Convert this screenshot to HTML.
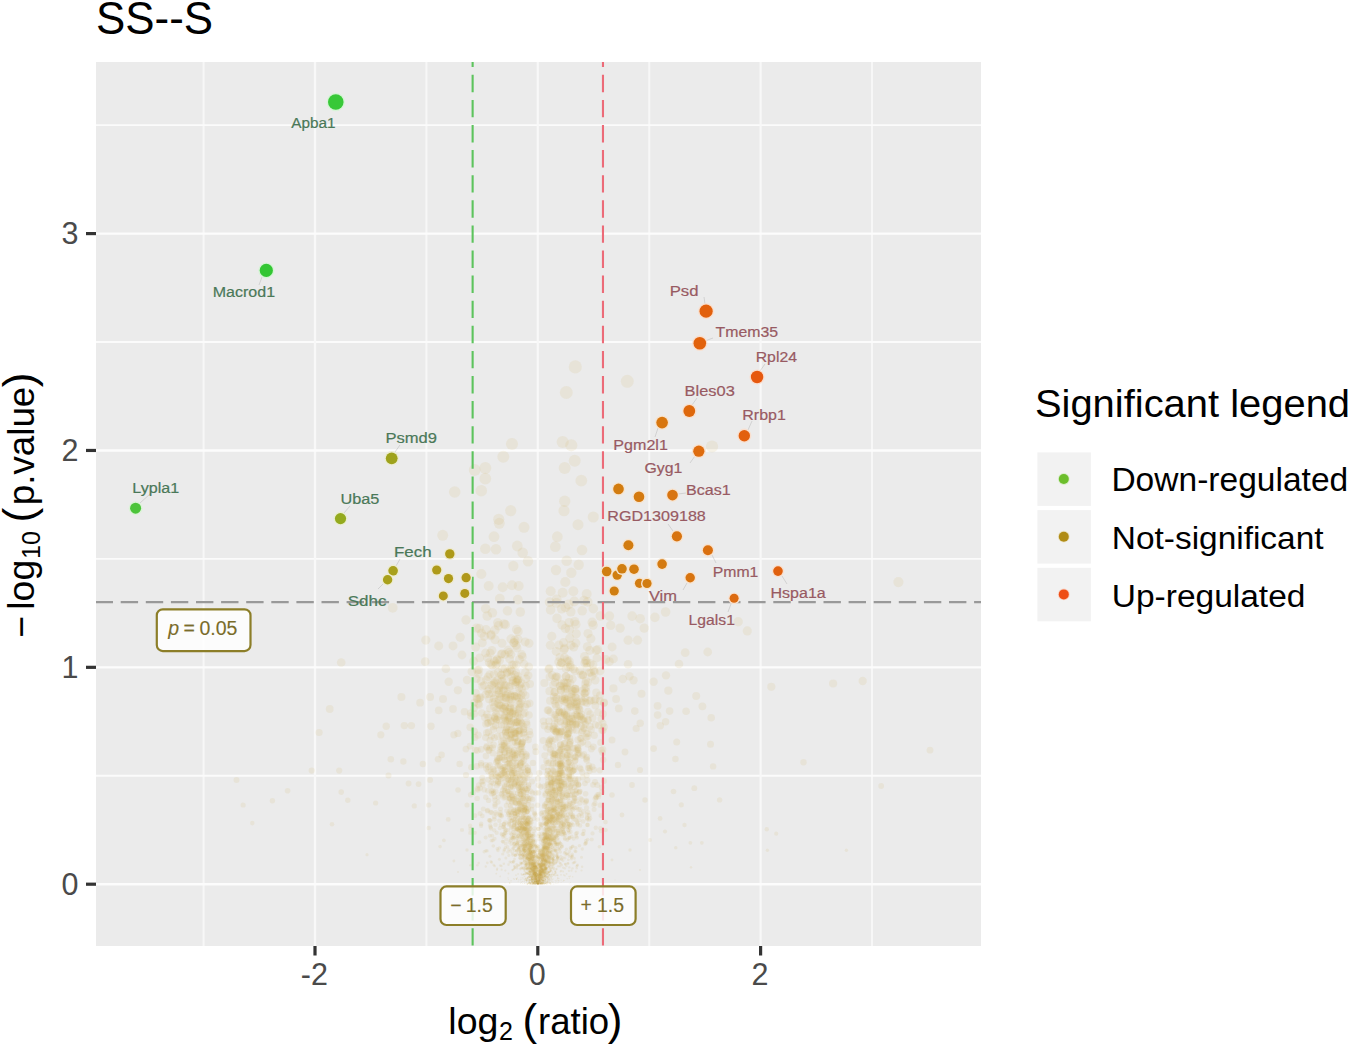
<!DOCTYPE html>
<html><head><meta charset="utf-8"><title>SS--S volcano</title><style>html,body{margin:0;padding:0;background:#fff;width:1350px;height:1046px;overflow:hidden}</style></head><body>
<svg width="1350" height="1046" viewBox="0 0 1350 1046" style="display:block">
<rect x="0" y="0" width="1350" height="1046" fill="#ffffff"/>
<rect x="96" y="62" width="885" height="884" fill="#EBEBEB"/>
<line x1="203.60" y1="62" x2="203.60" y2="946" stroke="#F7F7F7" stroke-width="2"/>
<line x1="426.40" y1="62" x2="426.40" y2="946" stroke="#F7F7F7" stroke-width="2"/>
<line x1="649.20" y1="62" x2="649.20" y2="946" stroke="#F7F7F7" stroke-width="2"/>
<line x1="872.00" y1="62" x2="872.00" y2="946" stroke="#F7F7F7" stroke-width="2"/>
<line x1="96" y1="775.77" x2="981" y2="775.77" stroke="#FBFBFB" stroke-width="1.9"/>
<line x1="96" y1="558.89" x2="981" y2="558.89" stroke="#FBFBFB" stroke-width="1.9"/>
<line x1="96" y1="342.03" x2="981" y2="342.03" stroke="#FBFBFB" stroke-width="1.9"/>
<line x1="96" y1="125.15" x2="981" y2="125.15" stroke="#FBFBFB" stroke-width="1.9"/>
<line x1="315.00" y1="62" x2="315.00" y2="946" stroke="#F8F8F8" stroke-width="2.2"/>
<line x1="537.80" y1="62" x2="537.80" y2="946" stroke="#F8F8F8" stroke-width="2.2"/>
<line x1="760.60" y1="62" x2="760.60" y2="946" stroke="#F8F8F8" stroke-width="2.2"/>
<line x1="96" y1="884.20" x2="981" y2="884.20" stroke="#FCFCFC" stroke-width="2.4"/>
<line x1="96" y1="667.33" x2="981" y2="667.33" stroke="#FCFCFC" stroke-width="2.4"/>
<line x1="96" y1="450.46" x2="981" y2="450.46" stroke="#FCFCFC" stroke-width="2.4"/>
<line x1="96" y1="233.59" x2="981" y2="233.59" stroke="#FCFCFC" stroke-width="2.4"/>
<g fill="#D2AE5A" fill-opacity="0.13">
<circle cx="575.3" cy="366.9" r="6.6"/>
<circle cx="627.3" cy="381.3" r="6.5"/>
<circle cx="566.3" cy="392.5" r="6.5"/>
<circle cx="562.7" cy="442.0" r="6.1"/>
<circle cx="512.0" cy="444.0" r="6.1"/>
<circle cx="571.3" cy="445.3" r="6.1"/>
<circle cx="712.0" cy="446.5" r="6.1"/>
<circle cx="503.3" cy="456.7" r="6.0"/>
<circle cx="574.7" cy="460.7" r="6.0"/>
<circle cx="485.3" cy="468.0" r="6.0"/>
<circle cx="564.7" cy="468.0" r="6.0"/>
<circle cx="474.7" cy="470.0" r="5.9"/>
<circle cx="485.3" cy="478.7" r="5.9"/>
<circle cx="581.3" cy="480.7" r="5.9"/>
<circle cx="481.3" cy="490.7" r="5.8"/>
<circle cx="454.7" cy="492.0" r="5.8"/>
<circle cx="564.7" cy="501.3" r="5.7"/>
<circle cx="510.7" cy="510.7" r="5.6"/>
<circle cx="564.0" cy="510.7" r="5.6"/>
<circle cx="593.3" cy="517.0" r="5.6"/>
<circle cx="498.7" cy="519.3" r="5.6"/>
<circle cx="499.3" cy="523.3" r="5.5"/>
<circle cx="578.0" cy="524.7" r="5.5"/>
<circle cx="524.0" cy="527.3" r="5.5"/>
<circle cx="442.7" cy="535.3" r="5.5"/>
<circle cx="494.0" cy="536.7" r="5.4"/>
<circle cx="557.3" cy="536.7" r="5.4"/>
<circle cx="517.3" cy="546.0" r="5.4"/>
<circle cx="555.3" cy="546.7" r="5.4"/>
<circle cx="485.3" cy="548.7" r="5.3"/>
<circle cx="496.0" cy="549.3" r="5.3"/>
<circle cx="582.0" cy="550.0" r="5.3"/>
<circle cx="522.7" cy="552.7" r="5.3"/>
<circle cx="566.7" cy="560.7" r="5.3"/>
<circle cx="528.0" cy="561.3" r="5.2"/>
<circle cx="578.7" cy="564.7" r="5.2"/>
<circle cx="513.3" cy="566.0" r="5.2"/>
<circle cx="556.0" cy="570.0" r="5.2"/>
<circle cx="571.3" cy="572.7" r="5.2"/>
<circle cx="481.3" cy="574.0" r="5.1"/>
<circle cx="565.3" cy="582.0" r="5.1"/>
<circle cx="898.4" cy="582.1" r="5.1"/>
<circle cx="512.0" cy="585.3" r="5.0"/>
<circle cx="488.7" cy="586.0" r="5.0"/>
<circle cx="518.7" cy="586.0" r="5.0"/>
<circle cx="502.7" cy="587.3" r="5.0"/>
<circle cx="550.7" cy="591.3" r="5.0"/>
<circle cx="573.3" cy="591.3" r="5.0"/>
<circle cx="562.7" cy="592.7" r="5.0"/>
<circle cx="586.7" cy="594.0" r="5.0"/>
<circle cx="499.8" cy="598.6" r="4.9"/>
<circle cx="556.7" cy="599.3" r="4.9"/>
<circle cx="517.8" cy="599.6" r="4.9"/>
<circle cx="584.0" cy="600.7" r="4.9"/>
<circle cx="574.3" cy="601.5" r="4.9"/>
<circle cx="587.7" cy="601.9" r="4.9"/>
<circle cx="549.6" cy="602.1" r="4.9"/>
<circle cx="556.4" cy="603.0" r="4.9"/>
<circle cx="568.5" cy="604.5" r="4.9"/>
<circle cx="565.4" cy="607.3" r="4.9"/>
<circle cx="392.7" cy="607.8" r="4.9"/>
<circle cx="593.3" cy="608.6" r="4.8"/>
<circle cx="485.7" cy="608.7" r="4.8"/>
<circle cx="561.6" cy="608.8" r="4.8"/>
<circle cx="550.6" cy="609.9" r="4.8"/>
<circle cx="507.5" cy="610.8" r="4.8"/>
<circle cx="582.2" cy="610.8" r="4.8"/>
<circle cx="570.8" cy="611.8" r="4.8"/>
<circle cx="665.6" cy="612.0" r="4.8"/>
<circle cx="520.3" cy="612.0" r="4.8"/>
<circle cx="492.4" cy="612.8" r="4.8"/>
<circle cx="487.2" cy="616.0" r="4.8"/>
<circle cx="600.4" cy="616.0" r="4.8"/>
<circle cx="609.4" cy="616.1" r="4.8"/>
<circle cx="632.1" cy="616.1" r="4.8"/>
<circle cx="654.9" cy="617.4" r="4.8"/>
<circle cx="557.0" cy="618.4" r="4.8"/>
<circle cx="640.2" cy="618.7" r="4.8"/>
<circle cx="466.0" cy="620.0" r="4.7"/>
<circle cx="574.7" cy="621.6" r="4.7"/>
<circle cx="738.2" cy="621.8" r="4.7"/>
<circle cx="592.2" cy="622.2" r="4.7"/>
<circle cx="569.1" cy="622.6" r="4.7"/>
<circle cx="497.7" cy="622.8" r="4.7"/>
<circle cx="504.0" cy="623.9" r="4.7"/>
<circle cx="575.9" cy="624.5" r="4.7"/>
<circle cx="505.4" cy="624.7" r="4.7"/>
<circle cx="562.0" cy="625.0" r="4.7"/>
<circle cx="593.1" cy="625.1" r="4.7"/>
<circle cx="610.7" cy="625.4" r="4.7"/>
<circle cx="498.5" cy="625.7" r="4.7"/>
<circle cx="620.1" cy="628.1" r="4.7"/>
<circle cx="644.2" cy="628.1" r="4.7"/>
<circle cx="476.5" cy="628.1" r="4.7"/>
<circle cx="565.4" cy="628.5" r="4.7"/>
<circle cx="479.3" cy="628.5" r="4.7"/>
<circle cx="569.4" cy="629.4" r="4.7"/>
<circle cx="516.6" cy="629.5" r="4.7"/>
<circle cx="486.1" cy="629.7" r="4.7"/>
<circle cx="494.8" cy="630.2" r="4.7"/>
<circle cx="747.3" cy="630.9" r="4.6"/>
<circle cx="518.2" cy="631.5" r="4.6"/>
<circle cx="481.5" cy="633.3" r="4.6"/>
<circle cx="588.0" cy="633.6" r="4.6"/>
<circle cx="576.3" cy="633.8" r="4.6"/>
<circle cx="491.0" cy="634.5" r="4.6"/>
<circle cx="491.0" cy="635.7" r="4.6"/>
<circle cx="484.3" cy="636.3" r="4.6"/>
<circle cx="551.8" cy="636.3" r="4.6"/>
<circle cx="460.2" cy="637.3" r="4.6"/>
<circle cx="569.8" cy="638.3" r="4.6"/>
<circle cx="590.8" cy="638.7" r="4.6"/>
<circle cx="511.0" cy="638.9" r="4.6"/>
<circle cx="517.9" cy="639.3" r="4.6"/>
<circle cx="495.1" cy="639.7" r="4.6"/>
<circle cx="425.8" cy="640.1" r="4.6"/>
<circle cx="514.8" cy="640.2" r="4.6"/>
<circle cx="628.1" cy="640.2" r="4.6"/>
<circle cx="637.5" cy="640.2" r="4.6"/>
<circle cx="525.2" cy="641.9" r="4.5"/>
<circle cx="563.5" cy="642.6" r="4.5"/>
<circle cx="513.7" cy="642.7" r="4.5"/>
<circle cx="514.2" cy="642.7" r="4.5"/>
<circle cx="482.3" cy="642.7" r="4.5"/>
<circle cx="575.9" cy="643.1" r="4.5"/>
<circle cx="502.0" cy="643.2" r="4.5"/>
<circle cx="529.0" cy="643.3" r="4.5"/>
<circle cx="558.9" cy="645.0" r="4.5"/>
<circle cx="516.1" cy="645.2" r="4.5"/>
<circle cx="570.9" cy="645.2" r="4.5"/>
<circle cx="550.3" cy="645.2" r="4.5"/>
<circle cx="438.7" cy="645.9" r="4.5"/>
<circle cx="453.0" cy="645.9" r="4.5"/>
<circle cx="587.3" cy="646.7" r="4.5"/>
<circle cx="612.1" cy="646.9" r="4.5"/>
<circle cx="475.6" cy="647.0" r="4.5"/>
<circle cx="573.8" cy="647.1" r="4.5"/>
<circle cx="517.0" cy="647.9" r="4.5"/>
<circle cx="564.5" cy="648.3" r="4.5"/>
<circle cx="564.1" cy="649.5" r="4.5"/>
<circle cx="597.8" cy="649.6" r="4.5"/>
<circle cx="508.1" cy="650.1" r="4.5"/>
<circle cx="596.2" cy="650.3" r="4.5"/>
<circle cx="589.8" cy="650.4" r="4.5"/>
<circle cx="491.9" cy="650.4" r="4.5"/>
<circle cx="556.2" cy="651.4" r="4.5"/>
<circle cx="707.7" cy="652.0" r="4.4"/>
<circle cx="509.1" cy="652.3" r="4.4"/>
<circle cx="685.2" cy="652.7" r="4.4"/>
<circle cx="485.5" cy="653.0" r="4.4"/>
<circle cx="490.2" cy="653.1" r="4.4"/>
<circle cx="502.0" cy="653.6" r="4.4"/>
<circle cx="510.9" cy="654.3" r="4.4"/>
<circle cx="501.3" cy="654.3" r="4.4"/>
<circle cx="521.7" cy="654.5" r="4.4"/>
<circle cx="504.9" cy="654.5" r="4.4"/>
<circle cx="462.0" cy="655.0" r="4.4"/>
<circle cx="584.5" cy="656.4" r="4.4"/>
<circle cx="522.4" cy="656.7" r="4.4"/>
<circle cx="559.8" cy="657.4" r="4.4"/>
<circle cx="564.5" cy="657.5" r="4.4"/>
<circle cx="487.6" cy="657.9" r="4.4"/>
<circle cx="479.7" cy="657.9" r="4.4"/>
<circle cx="596.9" cy="658.0" r="4.4"/>
<circle cx="509.7" cy="658.9" r="4.4"/>
<circle cx="613.4" cy="658.9" r="4.4"/>
<circle cx="497.1" cy="659.2" r="4.4"/>
<circle cx="519.4" cy="659.3" r="4.4"/>
<circle cx="605.8" cy="659.4" r="4.4"/>
<circle cx="567.3" cy="659.6" r="4.4"/>
<circle cx="496.9" cy="660.2" r="4.4"/>
<circle cx="499.6" cy="660.4" r="4.4"/>
<circle cx="586.4" cy="660.5" r="4.4"/>
<circle cx="585.4" cy="660.9" r="4.4"/>
<circle cx="569.3" cy="661.0" r="4.4"/>
<circle cx="494.4" cy="661.1" r="4.4"/>
<circle cx="473.6" cy="661.2" r="4.4"/>
<circle cx="609.4" cy="661.6" r="4.4"/>
<circle cx="425.2" cy="661.7" r="4.4"/>
<circle cx="567.3" cy="661.7" r="4.4"/>
<circle cx="558.7" cy="661.8" r="4.4"/>
<circle cx="341.2" cy="662.5" r="4.3"/>
<circle cx="561.6" cy="662.6" r="4.3"/>
<circle cx="489.1" cy="662.6" r="4.3"/>
<circle cx="561.3" cy="662.7" r="4.3"/>
<circle cx="584.6" cy="663.1" r="4.3"/>
<circle cx="590.4" cy="663.2" r="4.3"/>
<circle cx="586.6" cy="663.2" r="4.3"/>
<circle cx="496.7" cy="663.9" r="4.3"/>
<circle cx="679.0" cy="664.0" r="4.3"/>
<circle cx="524.1" cy="664.0" r="4.3"/>
<circle cx="628.1" cy="664.3" r="4.3"/>
<circle cx="490.9" cy="664.4" r="4.3"/>
<circle cx="570.1" cy="664.7" r="4.3"/>
<circle cx="513.7" cy="664.8" r="4.3"/>
<circle cx="512.1" cy="664.8" r="4.3"/>
<circle cx="516.2" cy="664.9" r="4.3"/>
<circle cx="593.2" cy="665.1" r="4.3"/>
<circle cx="495.6" cy="665.2" r="4.3"/>
<circle cx="492.4" cy="665.2" r="4.3"/>
<circle cx="560.2" cy="665.6" r="4.3"/>
<circle cx="528.8" cy="666.7" r="4.3"/>
<circle cx="568.2" cy="666.9" r="4.3"/>
<circle cx="570.5" cy="667.1" r="4.3"/>
<circle cx="586.9" cy="667.1" r="4.3"/>
<circle cx="504.9" cy="668.5" r="4.3"/>
<circle cx="549.3" cy="668.5" r="4.3"/>
<circle cx="565.9" cy="668.6" r="4.3"/>
<circle cx="502.5" cy="668.7" r="4.3"/>
<circle cx="445.9" cy="668.8" r="4.3"/>
<circle cx="573.4" cy="668.9" r="4.3"/>
<circle cx="548.7" cy="669.3" r="4.3"/>
<circle cx="510.4" cy="669.5" r="4.3"/>
<circle cx="478.9" cy="669.7" r="4.3"/>
<circle cx="477.4" cy="670.2" r="4.3"/>
<circle cx="579.7" cy="670.6" r="4.3"/>
<circle cx="593.9" cy="670.6" r="4.3"/>
<circle cx="600.2" cy="670.9" r="4.3"/>
<circle cx="575.1" cy="671.0" r="4.3"/>
<circle cx="511.9" cy="671.3" r="4.3"/>
<circle cx="471.8" cy="671.6" r="4.3"/>
<circle cx="509.6" cy="671.7" r="4.3"/>
<circle cx="507.3" cy="671.9" r="4.3"/>
<circle cx="594.5" cy="672.1" r="4.3"/>
<circle cx="498.1" cy="672.2" r="4.3"/>
<circle cx="525.3" cy="672.3" r="4.3"/>
<circle cx="589.3" cy="672.6" r="4.2"/>
<circle cx="591.0" cy="672.9" r="4.2"/>
<circle cx="516.3" cy="673.0" r="4.2"/>
<circle cx="506.9" cy="673.2" r="4.2"/>
<circle cx="478.5" cy="673.7" r="4.2"/>
<circle cx="493.8" cy="674.3" r="4.2"/>
<circle cx="489.6" cy="674.5" r="4.2"/>
<circle cx="583.0" cy="674.7" r="4.2"/>
<circle cx="501.8" cy="674.8" r="4.2"/>
<circle cx="581.4" cy="674.8" r="4.2"/>
<circle cx="514.8" cy="675.0" r="4.2"/>
<circle cx="500.9" cy="675.0" r="4.2"/>
<circle cx="552.2" cy="675.1" r="4.2"/>
<circle cx="666.0" cy="675.4" r="4.2"/>
<circle cx="528.3" cy="675.5" r="4.2"/>
<circle cx="583.0" cy="675.5" r="4.2"/>
<circle cx="592.1" cy="676.2" r="4.2"/>
<circle cx="518.1" cy="676.2" r="4.2"/>
<circle cx="629.5" cy="676.3" r="4.2"/>
<circle cx="556.2" cy="676.4" r="4.2"/>
<circle cx="565.9" cy="676.4" r="4.2"/>
<circle cx="488.0" cy="676.7" r="4.2"/>
<circle cx="566.1" cy="676.7" r="4.2"/>
<circle cx="511.7" cy="676.8" r="4.2"/>
<circle cx="557.3" cy="676.9" r="4.2"/>
<circle cx="549.7" cy="676.9" r="4.2"/>
<circle cx="555.5" cy="677.7" r="4.2"/>
<circle cx="569.1" cy="678.3" r="4.2"/>
<circle cx="501.6" cy="678.4" r="4.2"/>
<circle cx="504.2" cy="678.6" r="4.2"/>
<circle cx="476.4" cy="678.7" r="4.2"/>
<circle cx="526.2" cy="678.8" r="4.2"/>
<circle cx="622.8" cy="679.0" r="4.2"/>
<circle cx="572.5" cy="679.0" r="4.2"/>
<circle cx="516.7" cy="679.1" r="4.2"/>
<circle cx="518.6" cy="679.4" r="4.2"/>
<circle cx="486.2" cy="679.6" r="4.2"/>
<circle cx="467.0" cy="680.0" r="4.2"/>
<circle cx="595.3" cy="680.2" r="4.2"/>
<circle cx="497.4" cy="680.3" r="4.2"/>
<circle cx="633.5" cy="680.3" r="4.2"/>
<circle cx="517.8" cy="680.4" r="4.2"/>
<circle cx="512.2" cy="680.4" r="4.2"/>
<circle cx="517.9" cy="680.6" r="4.2"/>
<circle cx="513.0" cy="680.8" r="4.2"/>
<circle cx="862.7" cy="681.0" r="4.2"/>
<circle cx="585.9" cy="681.0" r="4.2"/>
<circle cx="481.0" cy="681.2" r="4.2"/>
<circle cx="502.1" cy="681.3" r="4.2"/>
<circle cx="494.2" cy="681.6" r="4.2"/>
<circle cx="653.6" cy="681.7" r="4.2"/>
<circle cx="448.7" cy="681.7" r="4.2"/>
<circle cx="516.6" cy="682.1" r="4.2"/>
<circle cx="564.0" cy="682.3" r="4.1"/>
<circle cx="515.8" cy="682.3" r="4.1"/>
<circle cx="555.0" cy="682.3" r="4.1"/>
<circle cx="587.9" cy="682.5" r="4.1"/>
<circle cx="495.4" cy="682.6" r="4.1"/>
<circle cx="565.4" cy="682.9" r="4.1"/>
<circle cx="512.6" cy="683.0" r="4.1"/>
<circle cx="544.4" cy="683.0" r="4.1"/>
<circle cx="567.5" cy="683.2" r="4.1"/>
<circle cx="570.2" cy="683.2" r="4.1"/>
<circle cx="493.9" cy="683.3" r="4.1"/>
<circle cx="521.6" cy="683.4" r="4.1"/>
<circle cx="833.1" cy="683.5" r="4.1"/>
<circle cx="561.6" cy="683.5" r="4.1"/>
<circle cx="585.3" cy="683.7" r="4.1"/>
<circle cx="529.9" cy="684.0" r="4.1"/>
<circle cx="553.3" cy="684.9" r="4.1"/>
<circle cx="492.1" cy="685.1" r="4.1"/>
<circle cx="515.1" cy="685.1" r="4.1"/>
<circle cx="519.9" cy="685.1" r="4.1"/>
<circle cx="505.6" cy="685.3" r="4.1"/>
<circle cx="484.2" cy="685.3" r="4.1"/>
<circle cx="504.4" cy="685.4" r="4.1"/>
<circle cx="491.3" cy="685.4" r="4.1"/>
<circle cx="500.7" cy="685.5" r="4.1"/>
<circle cx="559.7" cy="685.7" r="4.1"/>
<circle cx="506.7" cy="685.8" r="4.1"/>
<circle cx="525.7" cy="686.0" r="4.1"/>
<circle cx="499.0" cy="686.0" r="4.1"/>
<circle cx="560.3" cy="686.1" r="4.1"/>
<circle cx="567.5" cy="686.3" r="4.1"/>
<circle cx="482.4" cy="686.4" r="4.1"/>
<circle cx="563.7" cy="686.5" r="4.1"/>
<circle cx="771.3" cy="686.8" r="4.1"/>
<circle cx="509.3" cy="687.1" r="4.1"/>
<circle cx="586.1" cy="687.6" r="4.1"/>
<circle cx="519.0" cy="688.1" r="4.1"/>
<circle cx="498.7" cy="688.3" r="4.1"/>
<circle cx="613.4" cy="688.4" r="4.1"/>
<circle cx="521.8" cy="688.5" r="4.1"/>
<circle cx="566.6" cy="688.5" r="4.1"/>
<circle cx="584.6" cy="688.7" r="4.1"/>
<circle cx="575.4" cy="688.9" r="4.1"/>
<circle cx="575.3" cy="688.9" r="4.1"/>
<circle cx="489.2" cy="689.2" r="4.1"/>
<circle cx="575.0" cy="689.3" r="4.1"/>
<circle cx="565.0" cy="689.4" r="4.1"/>
<circle cx="567.3" cy="689.4" r="4.1"/>
<circle cx="503.3" cy="689.5" r="4.1"/>
<circle cx="496.5" cy="689.8" r="4.1"/>
<circle cx="561.0" cy="689.9" r="4.1"/>
<circle cx="560.9" cy="690.2" r="4.1"/>
<circle cx="457.9" cy="690.3" r="4.1"/>
<circle cx="498.9" cy="690.5" r="4.1"/>
<circle cx="572.2" cy="690.6" r="4.1"/>
<circle cx="668.3" cy="690.7" r="4.1"/>
<circle cx="582.3" cy="690.9" r="4.1"/>
<circle cx="510.7" cy="691.1" r="4.1"/>
<circle cx="503.6" cy="691.1" r="4.1"/>
<circle cx="573.5" cy="691.1" r="4.1"/>
<circle cx="549.5" cy="691.2" r="4.1"/>
<circle cx="487.7" cy="691.3" r="4.1"/>
<circle cx="575.3" cy="691.5" r="4.1"/>
<circle cx="586.2" cy="691.7" r="4.1"/>
<circle cx="554.8" cy="692.1" r="4.0"/>
<circle cx="554.3" cy="692.2" r="4.0"/>
<circle cx="596.2" cy="692.4" r="4.0"/>
<circle cx="502.9" cy="692.9" r="4.0"/>
<circle cx="475.8" cy="693.0" r="4.0"/>
<circle cx="492.4" cy="693.0" r="4.0"/>
<circle cx="518.5" cy="693.1" r="4.0"/>
<circle cx="523.2" cy="693.1" r="4.0"/>
<circle cx="584.9" cy="693.2" r="4.0"/>
<circle cx="584.5" cy="693.3" r="4.0"/>
<circle cx="641.5" cy="693.7" r="4.0"/>
<circle cx="499.2" cy="693.8" r="4.0"/>
<circle cx="507.6" cy="693.9" r="4.0"/>
<circle cx="571.5" cy="693.9" r="4.0"/>
<circle cx="488.9" cy="694.0" r="4.0"/>
<circle cx="485.6" cy="694.4" r="4.0"/>
<circle cx="510.8" cy="695.1" r="4.0"/>
<circle cx="495.7" cy="695.1" r="4.0"/>
<circle cx="505.9" cy="695.2" r="4.0"/>
<circle cx="525.5" cy="695.5" r="4.0"/>
<circle cx="521.3" cy="695.6" r="4.0"/>
<circle cx="600.0" cy="695.6" r="4.0"/>
<circle cx="516.7" cy="695.8" r="4.0"/>
<circle cx="696.2" cy="695.9" r="4.0"/>
<circle cx="514.4" cy="696.0" r="4.0"/>
<circle cx="514.6" cy="696.3" r="4.0"/>
<circle cx="510.6" cy="696.3" r="4.0"/>
<circle cx="553.9" cy="696.5" r="4.0"/>
<circle cx="512.3" cy="696.7" r="4.0"/>
<circle cx="571.6" cy="696.8" r="4.0"/>
<circle cx="500.0" cy="696.8" r="4.0"/>
<circle cx="556.3" cy="696.9" r="4.0"/>
<circle cx="401.4" cy="696.9" r="4.0"/>
<circle cx="430.1" cy="696.9" r="4.0"/>
<circle cx="564.3" cy="697.0" r="4.0"/>
<circle cx="501.3" cy="697.1" r="4.0"/>
<circle cx="575.8" cy="697.2" r="4.0"/>
<circle cx="517.0" cy="697.3" r="4.0"/>
<circle cx="568.3" cy="697.3" r="4.0"/>
<circle cx="480.7" cy="697.3" r="4.0"/>
<circle cx="506.0" cy="697.5" r="4.0"/>
<circle cx="585.3" cy="697.7" r="4.0"/>
<circle cx="575.5" cy="697.7" r="4.0"/>
<circle cx="476.6" cy="697.7" r="4.0"/>
<circle cx="504.3" cy="697.8" r="4.0"/>
<circle cx="479.8" cy="697.9" r="4.0"/>
<circle cx="561.8" cy="698.0" r="4.0"/>
<circle cx="518.8" cy="698.0" r="4.0"/>
<circle cx="506.1" cy="698.2" r="4.0"/>
<circle cx="493.6" cy="698.4" r="4.0"/>
<circle cx="573.2" cy="698.4" r="4.0"/>
<circle cx="581.1" cy="698.5" r="4.0"/>
<circle cx="564.8" cy="698.5" r="4.0"/>
<circle cx="477.1" cy="698.9" r="4.0"/>
<circle cx="443.0" cy="698.9" r="4.0"/>
<circle cx="556.7" cy="699.0" r="4.0"/>
<circle cx="478.6" cy="699.0" r="4.0"/>
<circle cx="616.1" cy="699.1" r="4.0"/>
<circle cx="565.1" cy="699.2" r="4.0"/>
<circle cx="595.6" cy="699.2" r="4.0"/>
<circle cx="489.0" cy="699.3" r="4.0"/>
<circle cx="509.3" cy="699.6" r="4.0"/>
<circle cx="498.9" cy="699.8" r="4.0"/>
<circle cx="562.1" cy="699.9" r="4.0"/>
<circle cx="567.0" cy="700.0" r="4.0"/>
<circle cx="511.6" cy="700.1" r="4.0"/>
<circle cx="590.6" cy="700.4" r="4.0"/>
<circle cx="554.3" cy="700.4" r="4.0"/>
<circle cx="522.0" cy="700.6" r="4.0"/>
<circle cx="550.0" cy="700.7" r="4.0"/>
<circle cx="589.2" cy="700.7" r="4.0"/>
<circle cx="594.4" cy="700.8" r="4.0"/>
<circle cx="582.8" cy="700.9" r="4.0"/>
<circle cx="564.2" cy="701.0" r="4.0"/>
<circle cx="570.2" cy="701.0" r="4.0"/>
<circle cx="600.0" cy="701.1" r="4.0"/>
<circle cx="577.3" cy="701.5" r="3.9"/>
<circle cx="518.8" cy="701.6" r="3.9"/>
<circle cx="494.7" cy="702.0" r="3.9"/>
<circle cx="585.2" cy="702.1" r="3.9"/>
<circle cx="492.6" cy="702.2" r="3.9"/>
<circle cx="566.1" cy="702.3" r="3.9"/>
<circle cx="581.4" cy="702.4" r="3.9"/>
<circle cx="574.4" cy="702.4" r="3.9"/>
<circle cx="506.0" cy="702.5" r="3.9"/>
<circle cx="604.2" cy="702.5" r="3.9"/>
<circle cx="474.2" cy="702.6" r="3.9"/>
<circle cx="577.0" cy="702.6" r="3.9"/>
<circle cx="420.1" cy="702.7" r="3.9"/>
<circle cx="603.8" cy="702.9" r="3.9"/>
<circle cx="586.9" cy="703.1" r="3.9"/>
<circle cx="529.6" cy="703.3" r="3.9"/>
<circle cx="511.0" cy="703.3" r="3.9"/>
<circle cx="497.7" cy="703.4" r="3.9"/>
<circle cx="520.7" cy="703.5" r="3.9"/>
<circle cx="478.3" cy="703.8" r="3.9"/>
<circle cx="573.7" cy="703.9" r="3.9"/>
<circle cx="569.3" cy="704.0" r="3.9"/>
<circle cx="555.2" cy="704.0" r="3.9"/>
<circle cx="527.1" cy="704.2" r="3.9"/>
<circle cx="558.6" cy="704.2" r="3.9"/>
<circle cx="576.7" cy="704.2" r="3.9"/>
<circle cx="519.2" cy="704.5" r="3.9"/>
<circle cx="499.1" cy="704.5" r="3.9"/>
<circle cx="479.3" cy="704.9" r="3.9"/>
<circle cx="570.8" cy="705.1" r="3.9"/>
<circle cx="499.7" cy="705.3" r="3.9"/>
<circle cx="501.1" cy="705.4" r="3.9"/>
<circle cx="595.4" cy="705.4" r="3.9"/>
<circle cx="657.6" cy="705.8" r="3.9"/>
<circle cx="556.1" cy="705.9" r="3.9"/>
<circle cx="576.5" cy="705.9" r="3.9"/>
<circle cx="505.1" cy="706.1" r="3.9"/>
<circle cx="702.4" cy="706.3" r="3.9"/>
<circle cx="571.1" cy="706.4" r="3.9"/>
<circle cx="578.6" cy="706.7" r="3.9"/>
<circle cx="525.0" cy="706.8" r="3.9"/>
<circle cx="494.0" cy="706.8" r="3.9"/>
<circle cx="505.5" cy="706.9" r="3.9"/>
<circle cx="569.7" cy="707.1" r="3.9"/>
<circle cx="520.1" cy="707.5" r="3.9"/>
<circle cx="510.4" cy="707.6" r="3.9"/>
<circle cx="510.2" cy="707.9" r="3.9"/>
<circle cx="502.6" cy="707.9" r="3.9"/>
<circle cx="513.6" cy="708.1" r="3.9"/>
<circle cx="575.8" cy="708.2" r="3.9"/>
<circle cx="473.9" cy="708.2" r="3.9"/>
<circle cx="519.4" cy="708.3" r="3.9"/>
<circle cx="490.0" cy="708.4" r="3.9"/>
<circle cx="618.8" cy="708.4" r="3.9"/>
<circle cx="503.9" cy="708.5" r="3.9"/>
<circle cx="567.7" cy="708.5" r="3.9"/>
<circle cx="497.9" cy="708.6" r="3.9"/>
<circle cx="503.5" cy="708.9" r="3.9"/>
<circle cx="329.7" cy="709.0" r="3.9"/>
<circle cx="453.0" cy="709.0" r="3.9"/>
<circle cx="509.0" cy="709.5" r="3.9"/>
<circle cx="579.0" cy="709.6" r="3.9"/>
<circle cx="518.2" cy="709.6" r="3.9"/>
<circle cx="496.2" cy="709.9" r="3.9"/>
<circle cx="579.7" cy="709.9" r="3.9"/>
<circle cx="547.6" cy="710.1" r="3.9"/>
<circle cx="438.7" cy="710.4" r="3.8"/>
<circle cx="548.5" cy="710.4" r="3.8"/>
<circle cx="577.1" cy="710.5" r="3.8"/>
<circle cx="559.0" cy="710.8" r="3.8"/>
<circle cx="505.4" cy="711.0" r="3.8"/>
<circle cx="634.8" cy="711.1" r="3.8"/>
<circle cx="669.6" cy="711.1" r="3.8"/>
<circle cx="513.6" cy="711.1" r="3.8"/>
<circle cx="686.1" cy="711.2" r="3.8"/>
<circle cx="506.7" cy="711.3" r="3.8"/>
<circle cx="562.6" cy="711.5" r="3.8"/>
<circle cx="510.6" cy="711.5" r="3.8"/>
<circle cx="588.0" cy="711.5" r="3.8"/>
<circle cx="510.1" cy="711.7" r="3.8"/>
<circle cx="464.5" cy="711.8" r="3.8"/>
<circle cx="559.7" cy="711.8" r="3.8"/>
<circle cx="550.2" cy="712.1" r="3.8"/>
<circle cx="558.3" cy="712.2" r="3.8"/>
<circle cx="597.9" cy="712.2" r="3.8"/>
<circle cx="559.5" cy="712.3" r="3.8"/>
<circle cx="561.7" cy="712.9" r="3.8"/>
<circle cx="524.9" cy="713.0" r="3.8"/>
<circle cx="470.7" cy="713.0" r="3.8"/>
<circle cx="512.8" cy="713.1" r="3.8"/>
<circle cx="510.1" cy="713.1" r="3.8"/>
<circle cx="481.7" cy="713.1" r="3.8"/>
<circle cx="518.2" cy="713.3" r="3.8"/>
<circle cx="564.5" cy="713.3" r="3.8"/>
<circle cx="495.9" cy="713.4" r="3.8"/>
<circle cx="515.3" cy="713.7" r="3.8"/>
<circle cx="474.3" cy="713.8" r="3.8"/>
<circle cx="603.0" cy="713.9" r="3.8"/>
<circle cx="512.3" cy="714.1" r="3.8"/>
<circle cx="590.2" cy="714.1" r="3.8"/>
<circle cx="523.2" cy="714.2" r="3.8"/>
<circle cx="581.3" cy="714.4" r="3.8"/>
<circle cx="486.9" cy="714.4" r="3.8"/>
<circle cx="564.4" cy="714.8" r="3.8"/>
<circle cx="566.7" cy="714.8" r="3.8"/>
<circle cx="555.2" cy="714.8" r="3.8"/>
<circle cx="576.3" cy="714.9" r="3.8"/>
<circle cx="564.6" cy="715.0" r="3.8"/>
<circle cx="502.3" cy="715.1" r="3.8"/>
<circle cx="657.6" cy="715.1" r="3.8"/>
<circle cx="529.0" cy="715.1" r="3.8"/>
<circle cx="572.1" cy="715.3" r="3.8"/>
<circle cx="517.6" cy="715.4" r="3.8"/>
<circle cx="504.9" cy="715.6" r="3.8"/>
<circle cx="515.6" cy="715.6" r="3.8"/>
<circle cx="566.1" cy="715.6" r="3.8"/>
<circle cx="509.7" cy="715.7" r="3.8"/>
<circle cx="577.1" cy="715.8" r="3.8"/>
<circle cx="574.0" cy="716.1" r="3.8"/>
<circle cx="470.9" cy="716.1" r="3.8"/>
<circle cx="556.3" cy="716.2" r="3.8"/>
<circle cx="580.0" cy="716.3" r="3.8"/>
<circle cx="577.5" cy="716.5" r="3.8"/>
<circle cx="494.4" cy="716.5" r="3.8"/>
<circle cx="566.5" cy="716.5" r="3.8"/>
<circle cx="579.6" cy="716.6" r="3.8"/>
<circle cx="497.8" cy="717.0" r="3.8"/>
<circle cx="581.1" cy="717.0" r="3.8"/>
<circle cx="508.7" cy="717.1" r="3.8"/>
<circle cx="504.0" cy="717.2" r="3.8"/>
<circle cx="484.8" cy="717.5" r="3.8"/>
<circle cx="488.2" cy="717.6" r="3.8"/>
<circle cx="519.9" cy="717.6" r="3.8"/>
<circle cx="711.2" cy="717.7" r="3.8"/>
<circle cx="563.7" cy="717.8" r="3.8"/>
<circle cx="494.6" cy="717.9" r="3.8"/>
<circle cx="554.3" cy="718.0" r="3.8"/>
<circle cx="592.6" cy="718.1" r="3.8"/>
<circle cx="504.7" cy="718.1" r="3.8"/>
<circle cx="509.2" cy="718.2" r="3.8"/>
<circle cx="571.5" cy="718.3" r="3.8"/>
<circle cx="583.9" cy="718.4" r="3.8"/>
<circle cx="495.2" cy="718.5" r="3.8"/>
<circle cx="557.4" cy="718.6" r="3.8"/>
<circle cx="601.2" cy="718.8" r="3.8"/>
<circle cx="572.5" cy="718.9" r="3.8"/>
<circle cx="569.6" cy="719.2" r="3.8"/>
<circle cx="497.0" cy="719.4" r="3.7"/>
<circle cx="508.0" cy="719.4" r="3.7"/>
<circle cx="581.7" cy="719.5" r="3.7"/>
<circle cx="588.0" cy="719.8" r="3.7"/>
<circle cx="496.3" cy="720.0" r="3.7"/>
<circle cx="513.9" cy="720.0" r="3.7"/>
<circle cx="583.2" cy="720.0" r="3.7"/>
<circle cx="498.9" cy="720.5" r="3.7"/>
<circle cx="519.7" cy="720.7" r="3.7"/>
<circle cx="507.4" cy="720.7" r="3.7"/>
<circle cx="505.3" cy="720.7" r="3.7"/>
<circle cx="491.0" cy="720.8" r="3.7"/>
<circle cx="588.0" cy="720.8" r="3.7"/>
<circle cx="548.8" cy="721.1" r="3.7"/>
<circle cx="564.9" cy="721.1" r="3.7"/>
<circle cx="543.5" cy="721.2" r="3.7"/>
<circle cx="584.1" cy="721.3" r="3.7"/>
<circle cx="509.7" cy="721.3" r="3.7"/>
<circle cx="506.1" cy="721.5" r="3.7"/>
<circle cx="560.5" cy="721.6" r="3.7"/>
<circle cx="569.6" cy="721.7" r="3.7"/>
<circle cx="517.6" cy="721.8" r="3.7"/>
<circle cx="665.6" cy="721.8" r="3.7"/>
<circle cx="491.0" cy="721.9" r="3.7"/>
<circle cx="572.6" cy="721.9" r="3.7"/>
<circle cx="511.9" cy="721.9" r="3.7"/>
<circle cx="566.7" cy="721.9" r="3.7"/>
<circle cx="570.4" cy="721.9" r="3.7"/>
<circle cx="526.5" cy="722.2" r="3.7"/>
<circle cx="521.1" cy="722.5" r="3.7"/>
<circle cx="515.9" cy="722.5" r="3.7"/>
<circle cx="516.2" cy="722.5" r="3.7"/>
<circle cx="517.8" cy="722.5" r="3.7"/>
<circle cx="557.7" cy="722.7" r="3.7"/>
<circle cx="514.2" cy="722.7" r="3.7"/>
<circle cx="488.4" cy="722.8" r="3.7"/>
<circle cx="576.1" cy="722.8" r="3.7"/>
<circle cx="568.6" cy="723.0" r="3.7"/>
<circle cx="640.2" cy="723.2" r="3.7"/>
<circle cx="487.5" cy="723.2" r="3.7"/>
<circle cx="602.9" cy="723.4" r="3.7"/>
<circle cx="522.0" cy="723.6" r="3.7"/>
<circle cx="569.9" cy="723.8" r="3.7"/>
<circle cx="577.0" cy="723.9" r="3.7"/>
<circle cx="485.8" cy="723.9" r="3.7"/>
<circle cx="577.1" cy="723.9" r="3.7"/>
<circle cx="510.7" cy="724.0" r="3.7"/>
<circle cx="554.6" cy="724.0" r="3.7"/>
<circle cx="519.5" cy="724.0" r="3.7"/>
<circle cx="575.7" cy="724.1" r="3.7"/>
<circle cx="572.6" cy="724.2" r="3.7"/>
<circle cx="564.9" cy="724.3" r="3.7"/>
<circle cx="585.3" cy="724.4" r="3.7"/>
<circle cx="526.9" cy="724.5" r="3.7"/>
<circle cx="503.9" cy="724.6" r="3.7"/>
<circle cx="595.4" cy="724.7" r="3.7"/>
<circle cx="575.8" cy="724.9" r="3.7"/>
<circle cx="501.4" cy="724.9" r="3.7"/>
<circle cx="495.7" cy="725.4" r="3.7"/>
<circle cx="598.7" cy="725.5" r="3.7"/>
<circle cx="404.3" cy="725.6" r="3.7"/>
<circle cx="411.4" cy="725.6" r="3.7"/>
<circle cx="516.7" cy="725.6" r="3.7"/>
<circle cx="564.3" cy="725.6" r="3.7"/>
<circle cx="544.3" cy="725.8" r="3.7"/>
<circle cx="660.3" cy="725.8" r="3.7"/>
<circle cx="581.1" cy="726.1" r="3.7"/>
<circle cx="386.2" cy="726.2" r="3.7"/>
<circle cx="431.0" cy="726.2" r="3.7"/>
<circle cx="553.5" cy="726.4" r="3.7"/>
<circle cx="590.0" cy="726.5" r="3.7"/>
<circle cx="510.1" cy="726.5" r="3.7"/>
<circle cx="549.0" cy="726.5" r="3.7"/>
<circle cx="523.8" cy="726.6" r="3.7"/>
<circle cx="493.6" cy="726.6" r="3.7"/>
<circle cx="604.1" cy="727.0" r="3.7"/>
<circle cx="470.1" cy="727.2" r="3.7"/>
<circle cx="568.5" cy="727.5" r="3.7"/>
<circle cx="583.9" cy="727.8" r="3.7"/>
<circle cx="506.6" cy="728.0" r="3.6"/>
<circle cx="571.2" cy="728.2" r="3.6"/>
<circle cx="554.7" cy="728.4" r="3.6"/>
<circle cx="636.2" cy="728.5" r="3.6"/>
<circle cx="583.9" cy="728.7" r="3.6"/>
<circle cx="553.0" cy="728.8" r="3.6"/>
<circle cx="523.9" cy="728.9" r="3.6"/>
<circle cx="568.5" cy="729.3" r="3.6"/>
<circle cx="547.8" cy="729.3" r="3.6"/>
<circle cx="566.3" cy="729.3" r="3.6"/>
<circle cx="506.6" cy="729.4" r="3.6"/>
<circle cx="493.3" cy="729.5" r="3.6"/>
<circle cx="511.7" cy="729.6" r="3.6"/>
<circle cx="591.2" cy="729.7" r="3.6"/>
<circle cx="556.6" cy="729.7" r="3.6"/>
<circle cx="553.4" cy="729.8" r="3.6"/>
<circle cx="572.9" cy="729.9" r="3.6"/>
<circle cx="523.5" cy="730.0" r="3.6"/>
<circle cx="499.6" cy="730.0" r="3.6"/>
<circle cx="508.6" cy="730.1" r="3.6"/>
<circle cx="519.3" cy="730.1" r="3.6"/>
<circle cx="510.9" cy="730.2" r="3.6"/>
<circle cx="603.1" cy="730.3" r="3.6"/>
<circle cx="576.3" cy="730.3" r="3.6"/>
<circle cx="601.9" cy="730.3" r="3.6"/>
<circle cx="520.0" cy="730.7" r="3.6"/>
<circle cx="554.9" cy="730.8" r="3.6"/>
<circle cx="518.3" cy="730.9" r="3.6"/>
<circle cx="582.5" cy="731.0" r="3.6"/>
<circle cx="557.6" cy="731.0" r="3.6"/>
<circle cx="505.7" cy="731.1" r="3.6"/>
<circle cx="569.3" cy="731.1" r="3.6"/>
<circle cx="515.8" cy="731.2" r="3.6"/>
<circle cx="561.1" cy="731.2" r="3.6"/>
<circle cx="518.0" cy="731.3" r="3.6"/>
<circle cx="474.4" cy="731.3" r="3.6"/>
<circle cx="529.5" cy="731.4" r="3.6"/>
<circle cx="561.8" cy="731.4" r="3.6"/>
<circle cx="556.0" cy="731.5" r="3.6"/>
<circle cx="514.3" cy="731.5" r="3.6"/>
<circle cx="560.4" cy="731.9" r="3.6"/>
<circle cx="561.8" cy="732.0" r="3.6"/>
<circle cx="555.8" cy="732.1" r="3.6"/>
<circle cx="556.5" cy="732.1" r="3.6"/>
<circle cx="505.7" cy="732.1" r="3.6"/>
<circle cx="488.5" cy="732.2" r="3.6"/>
<circle cx="559.2" cy="732.2" r="3.6"/>
<circle cx="507.7" cy="732.3" r="3.6"/>
<circle cx="513.8" cy="732.4" r="3.6"/>
<circle cx="524.1" cy="732.5" r="3.6"/>
<circle cx="319.1" cy="732.5" r="3.6"/>
<circle cx="581.5" cy="732.7" r="3.6"/>
<circle cx="486.6" cy="732.8" r="3.6"/>
<circle cx="505.3" cy="732.9" r="3.6"/>
<circle cx="514.9" cy="733.1" r="3.6"/>
<circle cx="568.6" cy="733.3" r="3.6"/>
<circle cx="516.1" cy="733.3" r="3.6"/>
<circle cx="457.9" cy="733.4" r="3.6"/>
<circle cx="515.2" cy="733.4" r="3.6"/>
<circle cx="588.4" cy="733.5" r="3.6"/>
<circle cx="568.1" cy="733.7" r="3.6"/>
<circle cx="586.7" cy="733.7" r="3.6"/>
<circle cx="559.8" cy="733.9" r="3.6"/>
<circle cx="523.4" cy="734.0" r="3.6"/>
<circle cx="567.8" cy="734.1" r="3.6"/>
<circle cx="519.5" cy="734.2" r="3.6"/>
<circle cx="511.5" cy="734.3" r="3.6"/>
<circle cx="511.3" cy="734.4" r="3.6"/>
<circle cx="567.5" cy="734.6" r="3.6"/>
<circle cx="530.0" cy="734.7" r="3.6"/>
<circle cx="380.8" cy="734.8" r="3.6"/>
<circle cx="453.9" cy="734.8" r="3.6"/>
<circle cx="518.8" cy="734.9" r="3.6"/>
<circle cx="478.1" cy="735.2" r="3.6"/>
<circle cx="594.3" cy="735.3" r="3.6"/>
<circle cx="506.4" cy="735.6" r="3.6"/>
<circle cx="565.3" cy="735.7" r="3.6"/>
<circle cx="509.6" cy="735.7" r="3.6"/>
<circle cx="502.1" cy="735.7" r="3.6"/>
<circle cx="491.3" cy="736.1" r="3.6"/>
<circle cx="497.5" cy="736.3" r="3.6"/>
<circle cx="587.7" cy="736.5" r="3.5"/>
<circle cx="567.2" cy="737.0" r="3.5"/>
<circle cx="567.2" cy="737.3" r="3.5"/>
<circle cx="485.5" cy="737.4" r="3.5"/>
<circle cx="511.0" cy="737.5" r="3.5"/>
<circle cx="512.2" cy="737.5" r="3.5"/>
<circle cx="525.7" cy="737.5" r="3.5"/>
<circle cx="474.9" cy="737.6" r="3.5"/>
<circle cx="586.2" cy="737.6" r="3.5"/>
<circle cx="494.4" cy="737.7" r="3.5"/>
<circle cx="558.6" cy="737.8" r="3.5"/>
<circle cx="515.1" cy="737.9" r="3.5"/>
<circle cx="515.1" cy="737.9" r="3.5"/>
<circle cx="580.2" cy="738.2" r="3.5"/>
<circle cx="569.8" cy="738.3" r="3.5"/>
<circle cx="581.2" cy="738.4" r="3.5"/>
<circle cx="510.5" cy="738.8" r="3.5"/>
<circle cx="550.7" cy="738.9" r="3.5"/>
<circle cx="508.6" cy="739.1" r="3.5"/>
<circle cx="555.1" cy="739.2" r="3.5"/>
<circle cx="528.4" cy="739.7" r="3.5"/>
<circle cx="577.8" cy="739.7" r="3.5"/>
<circle cx="503.4" cy="740.0" r="3.5"/>
<circle cx="612.0" cy="740.0" r="3.5"/>
<circle cx="490.0" cy="740.2" r="3.5"/>
<circle cx="549.2" cy="740.3" r="3.5"/>
<circle cx="543.2" cy="740.4" r="3.5"/>
<circle cx="552.2" cy="740.8" r="3.5"/>
<circle cx="518.2" cy="741.0" r="3.5"/>
<circle cx="570.3" cy="741.3" r="3.5"/>
<circle cx="517.6" cy="741.3" r="3.5"/>
<circle cx="549.6" cy="741.3" r="3.5"/>
<circle cx="506.5" cy="741.8" r="3.5"/>
<circle cx="582.7" cy="741.9" r="3.5"/>
<circle cx="501.4" cy="741.9" r="3.5"/>
<circle cx="512.9" cy="742.0" r="3.5"/>
<circle cx="676.7" cy="742.0" r="3.5"/>
<circle cx="522.5" cy="742.0" r="3.5"/>
<circle cx="517.4" cy="742.1" r="3.5"/>
<circle cx="522.2" cy="742.1" r="3.5"/>
<circle cx="515.4" cy="742.5" r="3.5"/>
<circle cx="570.1" cy="742.6" r="3.5"/>
<circle cx="600.7" cy="742.6" r="3.5"/>
<circle cx="522.0" cy="742.9" r="3.5"/>
<circle cx="548.5" cy="743.1" r="3.5"/>
<circle cx="504.2" cy="743.2" r="3.5"/>
<circle cx="580.9" cy="743.3" r="3.5"/>
<circle cx="564.5" cy="743.5" r="3.5"/>
<circle cx="564.2" cy="743.5" r="3.5"/>
<circle cx="521.8" cy="743.6" r="3.5"/>
<circle cx="569.3" cy="744.0" r="3.5"/>
<circle cx="587.9" cy="744.2" r="3.5"/>
<circle cx="521.4" cy="744.2" r="3.5"/>
<circle cx="710.5" cy="744.3" r="3.5"/>
<circle cx="570.0" cy="744.4" r="3.5"/>
<circle cx="560.6" cy="744.5" r="3.5"/>
<circle cx="548.9" cy="744.6" r="3.4"/>
<circle cx="493.5" cy="744.8" r="3.4"/>
<circle cx="560.3" cy="744.9" r="3.4"/>
<circle cx="502.2" cy="745.3" r="3.4"/>
<circle cx="504.7" cy="745.4" r="3.4"/>
<circle cx="503.8" cy="745.6" r="3.4"/>
<circle cx="516.9" cy="745.6" r="3.4"/>
<circle cx="507.1" cy="746.0" r="3.4"/>
<circle cx="470.1" cy="746.2" r="3.4"/>
<circle cx="522.0" cy="746.4" r="3.4"/>
<circle cx="486.8" cy="746.5" r="3.4"/>
<circle cx="503.9" cy="746.7" r="3.4"/>
<circle cx="553.1" cy="746.8" r="3.4"/>
<circle cx="563.0" cy="746.8" r="3.4"/>
<circle cx="593.3" cy="746.8" r="3.4"/>
<circle cx="500.7" cy="746.8" r="3.4"/>
<circle cx="535.4" cy="746.9" r="3.4"/>
<circle cx="520.8" cy="747.0" r="3.4"/>
<circle cx="577.4" cy="747.2" r="3.4"/>
<circle cx="546.1" cy="747.3" r="3.4"/>
<circle cx="492.6" cy="747.6" r="3.4"/>
<circle cx="486.6" cy="747.6" r="3.4"/>
<circle cx="567.0" cy="747.6" r="3.4"/>
<circle cx="490.1" cy="747.8" r="3.4"/>
<circle cx="578.2" cy="748.0" r="3.4"/>
<circle cx="567.1" cy="748.3" r="3.4"/>
<circle cx="573.2" cy="748.3" r="3.4"/>
<circle cx="506.3" cy="748.3" r="3.4"/>
<circle cx="575.2" cy="748.3" r="3.4"/>
<circle cx="510.3" cy="748.4" r="3.4"/>
<circle cx="568.7" cy="748.6" r="3.4"/>
<circle cx="653.6" cy="748.6" r="3.4"/>
<circle cx="591.4" cy="748.9" r="3.4"/>
<circle cx="559.9" cy="748.9" r="3.4"/>
<circle cx="561.5" cy="749.0" r="3.4"/>
<circle cx="465.9" cy="749.1" r="3.4"/>
<circle cx="521.3" cy="749.1" r="3.4"/>
<circle cx="481.2" cy="749.3" r="3.4"/>
<circle cx="519.7" cy="749.3" r="3.4"/>
<circle cx="602.9" cy="749.4" r="3.4"/>
<circle cx="550.6" cy="749.4" r="3.4"/>
<circle cx="577.9" cy="749.5" r="3.4"/>
<circle cx="502.2" cy="749.6" r="3.4"/>
<circle cx="500.8" cy="749.7" r="3.4"/>
<circle cx="488.7" cy="750.0" r="3.4"/>
<circle cx="561.2" cy="750.0" r="3.4"/>
<circle cx="509.0" cy="750.1" r="3.4"/>
<circle cx="475.4" cy="750.1" r="3.4"/>
<circle cx="578.2" cy="750.1" r="3.4"/>
<circle cx="601.3" cy="750.1" r="3.4"/>
<circle cx="930.0" cy="750.2" r="3.4"/>
<circle cx="567.9" cy="750.3" r="3.4"/>
<circle cx="477.3" cy="750.3" r="3.4"/>
<circle cx="514.3" cy="750.3" r="3.4"/>
<circle cx="489.1" cy="750.5" r="3.4"/>
<circle cx="559.9" cy="750.9" r="3.4"/>
<circle cx="576.5" cy="751.0" r="3.4"/>
<circle cx="508.8" cy="751.1" r="3.4"/>
<circle cx="504.5" cy="751.1" r="3.4"/>
<circle cx="569.7" cy="751.6" r="3.4"/>
<circle cx="535.8" cy="751.7" r="3.4"/>
<circle cx="512.0" cy="751.9" r="3.4"/>
<circle cx="564.5" cy="751.9" r="3.4"/>
<circle cx="625.0" cy="752.0" r="3.4"/>
<circle cx="559.0" cy="752.1" r="3.4"/>
<circle cx="523.3" cy="752.1" r="3.4"/>
<circle cx="504.2" cy="752.4" r="3.4"/>
<circle cx="521.0" cy="752.4" r="3.4"/>
<circle cx="499.7" cy="752.6" r="3.4"/>
<circle cx="550.0" cy="752.6" r="3.3"/>
<circle cx="517.6" cy="752.7" r="3.3"/>
<circle cx="602.6" cy="752.7" r="3.3"/>
<circle cx="505.1" cy="752.8" r="3.3"/>
<circle cx="514.9" cy="752.9" r="3.3"/>
<circle cx="555.3" cy="753.1" r="3.3"/>
<circle cx="492.9" cy="753.2" r="3.3"/>
<circle cx="509.3" cy="753.3" r="3.3"/>
<circle cx="579.1" cy="753.4" r="3.3"/>
<circle cx="577.8" cy="753.4" r="3.3"/>
<circle cx="553.2" cy="753.4" r="3.3"/>
<circle cx="553.9" cy="753.7" r="3.3"/>
<circle cx="512.7" cy="753.9" r="3.3"/>
<circle cx="521.3" cy="754.1" r="3.3"/>
<circle cx="526.1" cy="754.3" r="3.3"/>
<circle cx="555.1" cy="754.4" r="3.3"/>
<circle cx="583.8" cy="754.4" r="3.3"/>
<circle cx="499.7" cy="754.5" r="3.3"/>
<circle cx="562.1" cy="754.5" r="3.3"/>
<circle cx="513.6" cy="754.5" r="3.3"/>
<circle cx="517.2" cy="754.6" r="3.3"/>
<circle cx="554.3" cy="754.8" r="3.3"/>
<circle cx="555.5" cy="754.8" r="3.3"/>
<circle cx="578.0" cy="754.9" r="3.3"/>
<circle cx="441.6" cy="754.9" r="3.3"/>
<circle cx="515.1" cy="755.0" r="3.3"/>
<circle cx="567.2" cy="755.2" r="3.3"/>
<circle cx="570.4" cy="755.2" r="3.3"/>
<circle cx="558.2" cy="755.3" r="3.3"/>
<circle cx="567.5" cy="755.4" r="3.3"/>
<circle cx="509.0" cy="755.4" r="3.3"/>
<circle cx="544.6" cy="755.5" r="3.3"/>
<circle cx="560.2" cy="755.5" r="3.3"/>
<circle cx="582.4" cy="755.6" r="3.3"/>
<circle cx="515.1" cy="755.7" r="3.3"/>
<circle cx="526.9" cy="755.9" r="3.3"/>
<circle cx="486.0" cy="756.1" r="3.3"/>
<circle cx="521.9" cy="756.2" r="3.3"/>
<circle cx="553.4" cy="756.3" r="3.3"/>
<circle cx="562.4" cy="756.4" r="3.3"/>
<circle cx="525.8" cy="756.7" r="3.3"/>
<circle cx="569.3" cy="756.8" r="3.3"/>
<circle cx="575.1" cy="756.8" r="3.3"/>
<circle cx="506.9" cy="756.9" r="3.3"/>
<circle cx="586.9" cy="757.1" r="3.3"/>
<circle cx="502.1" cy="757.2" r="3.3"/>
<circle cx="575.9" cy="757.2" r="3.3"/>
<circle cx="503.6" cy="757.4" r="3.3"/>
<circle cx="511.9" cy="757.5" r="3.3"/>
<circle cx="566.4" cy="757.6" r="3.3"/>
<circle cx="573.4" cy="757.7" r="3.3"/>
<circle cx="560.4" cy="758.1" r="3.3"/>
<circle cx="499.1" cy="758.1" r="3.3"/>
<circle cx="499.9" cy="758.1" r="3.3"/>
<circle cx="554.6" cy="758.3" r="3.3"/>
<circle cx="497.2" cy="758.4" r="3.3"/>
<circle cx="514.8" cy="758.4" r="3.3"/>
<circle cx="509.5" cy="758.5" r="3.3"/>
<circle cx="566.6" cy="758.6" r="3.3"/>
<circle cx="515.5" cy="758.6" r="3.3"/>
<circle cx="586.3" cy="758.7" r="3.3"/>
<circle cx="553.1" cy="758.8" r="3.3"/>
<circle cx="675.4" cy="759.0" r="3.3"/>
<circle cx="509.9" cy="759.1" r="3.3"/>
<circle cx="390.8" cy="759.2" r="3.3"/>
<circle cx="438.1" cy="759.2" r="3.3"/>
<circle cx="521.5" cy="759.3" r="3.3"/>
<circle cx="504.6" cy="759.5" r="3.3"/>
<circle cx="603.1" cy="759.7" r="3.3"/>
<circle cx="504.3" cy="759.9" r="3.3"/>
<circle cx="497.9" cy="759.9" r="3.3"/>
<circle cx="558.2" cy="760.1" r="3.3"/>
<circle cx="513.4" cy="760.1" r="3.3"/>
<circle cx="586.8" cy="760.3" r="3.3"/>
<circle cx="524.0" cy="760.3" r="3.2"/>
<circle cx="575.1" cy="760.5" r="3.2"/>
<circle cx="497.2" cy="760.8" r="3.2"/>
<circle cx="575.1" cy="761.0" r="3.2"/>
<circle cx="546.3" cy="761.1" r="3.2"/>
<circle cx="560.8" cy="761.2" r="3.2"/>
<circle cx="497.9" cy="761.3" r="3.2"/>
<circle cx="403.4" cy="761.5" r="3.2"/>
<circle cx="568.9" cy="761.9" r="3.2"/>
<circle cx="522.3" cy="762.0" r="3.2"/>
<circle cx="803.5" cy="762.2" r="3.2"/>
<circle cx="568.7" cy="762.3" r="3.2"/>
<circle cx="496.2" cy="762.3" r="3.2"/>
<circle cx="520.3" cy="762.4" r="3.2"/>
<circle cx="509.4" cy="762.6" r="3.2"/>
<circle cx="570.3" cy="762.7" r="3.2"/>
<circle cx="549.0" cy="762.7" r="3.2"/>
<circle cx="533.0" cy="762.9" r="3.2"/>
<circle cx="521.1" cy="762.9" r="3.2"/>
<circle cx="560.2" cy="762.9" r="3.2"/>
<circle cx="561.7" cy="762.9" r="3.2"/>
<circle cx="568.0" cy="762.9" r="3.2"/>
<circle cx="553.0" cy="763.0" r="3.2"/>
<circle cx="515.9" cy="763.0" r="3.2"/>
<circle cx="509.4" cy="763.2" r="3.2"/>
<circle cx="509.7" cy="763.2" r="3.2"/>
<circle cx="547.6" cy="763.3" r="3.2"/>
<circle cx="481.1" cy="763.3" r="3.2"/>
<circle cx="555.9" cy="763.4" r="3.2"/>
<circle cx="520.6" cy="763.6" r="3.2"/>
<circle cx="508.1" cy="763.7" r="3.2"/>
<circle cx="562.0" cy="763.8" r="3.2"/>
<circle cx="559.7" cy="763.9" r="3.2"/>
<circle cx="507.2" cy="763.9" r="3.2"/>
<circle cx="558.3" cy="764.0" r="3.2"/>
<circle cx="422.9" cy="764.0" r="3.2"/>
<circle cx="459.6" cy="764.0" r="3.2"/>
<circle cx="559.6" cy="764.2" r="3.2"/>
<circle cx="552.8" cy="764.4" r="3.2"/>
<circle cx="560.5" cy="764.8" r="3.2"/>
<circle cx="510.0" cy="764.9" r="3.2"/>
<circle cx="562.3" cy="764.9" r="3.2"/>
<circle cx="498.7" cy="764.9" r="3.2"/>
<circle cx="618.0" cy="765.0" r="3.2"/>
<circle cx="489.7" cy="765.1" r="3.2"/>
<circle cx="520.1" cy="765.2" r="3.2"/>
<circle cx="485.9" cy="765.2" r="3.2"/>
<circle cx="481.1" cy="765.3" r="3.2"/>
<circle cx="516.1" cy="765.3" r="3.2"/>
<circle cx="588.9" cy="765.4" r="3.2"/>
<circle cx="525.5" cy="765.6" r="3.2"/>
<circle cx="520.4" cy="765.7" r="3.2"/>
<circle cx="558.4" cy="765.7" r="3.2"/>
<circle cx="571.7" cy="765.7" r="3.2"/>
<circle cx="515.1" cy="765.8" r="3.2"/>
<circle cx="561.1" cy="766.0" r="3.2"/>
<circle cx="561.1" cy="766.1" r="3.2"/>
<circle cx="560.9" cy="766.2" r="3.2"/>
<circle cx="476.7" cy="766.2" r="3.2"/>
<circle cx="497.8" cy="766.2" r="3.2"/>
<circle cx="500.3" cy="766.4" r="3.2"/>
<circle cx="713.1" cy="766.4" r="3.2"/>
<circle cx="488.1" cy="766.7" r="3.2"/>
<circle cx="592.3" cy="766.7" r="3.2"/>
<circle cx="574.8" cy="766.8" r="3.2"/>
<circle cx="504.3" cy="767.0" r="3.2"/>
<circle cx="504.7" cy="767.1" r="3.2"/>
<circle cx="543.6" cy="767.1" r="3.2"/>
<circle cx="471.3" cy="767.2" r="3.2"/>
<circle cx="516.9" cy="767.4" r="3.2"/>
<circle cx="523.0" cy="767.4" r="3.2"/>
<circle cx="567.1" cy="767.5" r="3.2"/>
<circle cx="579.7" cy="767.6" r="3.2"/>
<circle cx="569.8" cy="767.7" r="3.2"/>
<circle cx="527.8" cy="767.7" r="3.2"/>
<circle cx="512.8" cy="767.8" r="3.2"/>
<circle cx="588.0" cy="768.1" r="3.1"/>
<circle cx="551.5" cy="768.2" r="3.1"/>
<circle cx="589.6" cy="768.2" r="3.1"/>
<circle cx="503.2" cy="768.3" r="3.1"/>
<circle cx="511.8" cy="768.4" r="3.1"/>
<circle cx="565.2" cy="768.5" r="3.1"/>
<circle cx="486.2" cy="768.6" r="3.1"/>
<circle cx="567.6" cy="768.7" r="3.1"/>
<circle cx="493.0" cy="768.8" r="3.1"/>
<circle cx="560.2" cy="769.0" r="3.1"/>
<circle cx="518.9" cy="769.0" r="3.1"/>
<circle cx="501.5" cy="769.0" r="3.1"/>
<circle cx="509.9" cy="769.1" r="3.1"/>
<circle cx="580.8" cy="769.1" r="3.1"/>
<circle cx="494.1" cy="769.5" r="3.1"/>
<circle cx="568.4" cy="769.6" r="3.1"/>
<circle cx="593.9" cy="769.7" r="3.1"/>
<circle cx="574.3" cy="769.7" r="3.1"/>
<circle cx="505.7" cy="769.7" r="3.1"/>
<circle cx="570.2" cy="769.8" r="3.1"/>
<circle cx="510.4" cy="769.8" r="3.1"/>
<circle cx="559.6" cy="769.8" r="3.1"/>
<circle cx="640.0" cy="770.0" r="3.1"/>
<circle cx="504.3" cy="770.0" r="3.1"/>
<circle cx="528.5" cy="770.0" r="3.1"/>
<circle cx="599.8" cy="770.3" r="3.1"/>
<circle cx="553.1" cy="770.4" r="3.1"/>
<circle cx="502.4" cy="770.4" r="3.1"/>
<circle cx="573.4" cy="770.5" r="3.1"/>
<circle cx="521.5" cy="770.5" r="3.1"/>
<circle cx="511.5" cy="770.5" r="3.1"/>
<circle cx="527.6" cy="770.5" r="3.1"/>
<circle cx="339.2" cy="770.6" r="3.1"/>
<circle cx="311.7" cy="770.6" r="3.1"/>
<circle cx="527.6" cy="770.6" r="3.1"/>
<circle cx="548.0" cy="770.6" r="3.1"/>
<circle cx="505.1" cy="770.7" r="3.1"/>
<circle cx="573.4" cy="770.8" r="3.1"/>
<circle cx="560.6" cy="770.9" r="3.1"/>
<circle cx="547.7" cy="770.9" r="3.1"/>
<circle cx="589.5" cy="770.9" r="3.1"/>
<circle cx="513.4" cy="771.0" r="3.1"/>
<circle cx="553.8" cy="771.1" r="3.1"/>
<circle cx="572.6" cy="771.1" r="3.1"/>
<circle cx="493.5" cy="771.1" r="3.1"/>
<circle cx="560.3" cy="771.1" r="3.1"/>
<circle cx="490.6" cy="771.3" r="3.1"/>
<circle cx="488.2" cy="771.3" r="3.1"/>
<circle cx="561.1" cy="771.7" r="3.1"/>
<circle cx="571.6" cy="771.8" r="3.1"/>
<circle cx="528.3" cy="771.9" r="3.1"/>
<circle cx="525.0" cy="772.0" r="3.1"/>
<circle cx="521.2" cy="772.0" r="3.1"/>
<circle cx="582.2" cy="772.3" r="3.1"/>
<circle cx="555.7" cy="772.4" r="3.1"/>
<circle cx="562.4" cy="772.5" r="3.1"/>
<circle cx="559.4" cy="772.5" r="3.1"/>
<circle cx="504.1" cy="772.6" r="3.1"/>
<circle cx="514.6" cy="772.6" r="3.1"/>
<circle cx="561.7" cy="772.7" r="3.1"/>
<circle cx="511.7" cy="772.8" r="3.1"/>
<circle cx="513.8" cy="772.9" r="3.1"/>
<circle cx="503.7" cy="773.0" r="3.1"/>
<circle cx="515.6" cy="773.1" r="3.1"/>
<circle cx="539.3" cy="773.1" r="3.1"/>
<circle cx="560.7" cy="773.1" r="3.1"/>
<circle cx="497.6" cy="773.1" r="3.1"/>
<circle cx="550.9" cy="773.3" r="3.1"/>
<circle cx="516.6" cy="773.5" r="3.1"/>
<circle cx="502.3" cy="773.6" r="3.1"/>
<circle cx="527.0" cy="773.6" r="3.1"/>
<circle cx="555.0" cy="773.7" r="3.1"/>
<circle cx="568.7" cy="773.8" r="3.1"/>
<circle cx="508.6" cy="773.8" r="3.1"/>
<circle cx="550.1" cy="773.9" r="3.1"/>
<circle cx="491.4" cy="774.0" r="3.1"/>
<circle cx="557.0" cy="774.1" r="3.1"/>
<circle cx="559.5" cy="774.1" r="3.1"/>
<circle cx="558.2" cy="774.2" r="3.1"/>
<circle cx="512.1" cy="774.3" r="3.1"/>
<circle cx="507.1" cy="774.3" r="3.1"/>
<circle cx="547.2" cy="774.4" r="3.1"/>
<circle cx="504.7" cy="774.5" r="3.1"/>
<circle cx="495.8" cy="774.6" r="3.1"/>
<circle cx="500.7" cy="774.7" r="3.1"/>
<circle cx="529.8" cy="774.7" r="3.1"/>
<circle cx="569.1" cy="774.8" r="3.1"/>
<circle cx="562.9" cy="774.9" r="3.1"/>
<circle cx="522.2" cy="775.0" r="3.1"/>
<circle cx="466.0" cy="775.0" r="3.1"/>
<circle cx="500.9" cy="775.0" r="3.1"/>
<circle cx="512.2" cy="775.1" r="3.0"/>
<circle cx="586.7" cy="775.2" r="3.0"/>
<circle cx="562.6" cy="775.3" r="3.0"/>
<circle cx="560.3" cy="775.4" r="3.0"/>
<circle cx="388.5" cy="775.5" r="3.0"/>
<circle cx="519.4" cy="775.6" r="3.0"/>
<circle cx="502.3" cy="775.7" r="3.0"/>
<circle cx="559.3" cy="775.9" r="3.0"/>
<circle cx="569.5" cy="775.9" r="3.0"/>
<circle cx="506.1" cy="776.1" r="3.0"/>
<circle cx="548.8" cy="776.1" r="3.0"/>
<circle cx="571.4" cy="776.3" r="3.0"/>
<circle cx="508.1" cy="776.3" r="3.0"/>
<circle cx="497.5" cy="776.4" r="3.0"/>
<circle cx="498.2" cy="776.4" r="3.0"/>
<circle cx="495.6" cy="776.4" r="3.0"/>
<circle cx="569.2" cy="776.5" r="3.0"/>
<circle cx="553.4" cy="776.7" r="3.0"/>
<circle cx="491.4" cy="776.7" r="3.0"/>
<circle cx="513.1" cy="776.8" r="3.0"/>
<circle cx="523.8" cy="776.9" r="3.0"/>
<circle cx="492.3" cy="776.9" r="3.0"/>
<circle cx="518.4" cy="777.1" r="3.0"/>
<circle cx="566.0" cy="777.2" r="3.0"/>
<circle cx="547.5" cy="777.3" r="3.0"/>
<circle cx="550.9" cy="777.4" r="3.0"/>
<circle cx="520.6" cy="777.4" r="3.0"/>
<circle cx="499.1" cy="777.6" r="3.0"/>
<circle cx="582.6" cy="777.6" r="3.0"/>
<circle cx="515.7" cy="777.7" r="3.0"/>
<circle cx="512.8" cy="777.7" r="3.0"/>
<circle cx="482.3" cy="777.7" r="3.0"/>
<circle cx="559.6" cy="777.9" r="3.0"/>
<circle cx="527.3" cy="777.9" r="3.0"/>
<circle cx="525.1" cy="778.1" r="3.0"/>
<circle cx="557.8" cy="778.1" r="3.0"/>
<circle cx="559.2" cy="778.1" r="3.0"/>
<circle cx="502.8" cy="778.2" r="3.0"/>
<circle cx="519.5" cy="778.4" r="3.0"/>
<circle cx="554.0" cy="778.4" r="3.0"/>
<circle cx="515.3" cy="778.5" r="3.0"/>
<circle cx="558.9" cy="778.6" r="3.0"/>
<circle cx="550.9" cy="778.6" r="3.0"/>
<circle cx="537.9" cy="778.8" r="3.0"/>
<circle cx="507.4" cy="778.8" r="3.0"/>
<circle cx="553.4" cy="778.8" r="3.0"/>
<circle cx="570.1" cy="779.0" r="3.0"/>
<circle cx="554.4" cy="779.0" r="3.0"/>
<circle cx="512.3" cy="779.0" r="3.0"/>
<circle cx="575.7" cy="779.1" r="3.0"/>
<circle cx="500.6" cy="779.1" r="3.0"/>
<circle cx="568.7" cy="779.3" r="3.0"/>
<circle cx="578.2" cy="779.3" r="3.0"/>
<circle cx="564.6" cy="779.4" r="3.0"/>
<circle cx="570.5" cy="779.7" r="3.0"/>
<circle cx="488.3" cy="779.7" r="3.0"/>
<circle cx="517.0" cy="779.9" r="3.0"/>
<circle cx="508.3" cy="779.9" r="3.0"/>
<circle cx="508.8" cy="780.1" r="3.0"/>
<circle cx="510.7" cy="780.1" r="3.0"/>
<circle cx="430.1" cy="780.1" r="3.0"/>
<circle cx="236.5" cy="780.1" r="3.0"/>
<circle cx="510.8" cy="780.1" r="3.0"/>
<circle cx="524.3" cy="780.2" r="3.0"/>
<circle cx="587.4" cy="780.3" r="3.0"/>
<circle cx="496.2" cy="780.4" r="3.0"/>
<circle cx="575.2" cy="780.5" r="3.0"/>
<circle cx="603.9" cy="780.9" r="3.0"/>
<circle cx="557.5" cy="780.9" r="3.0"/>
<circle cx="482.9" cy="780.9" r="3.0"/>
<circle cx="555.3" cy="780.9" r="3.0"/>
<circle cx="559.9" cy="781.0" r="3.0"/>
<circle cx="561.0" cy="781.0" r="3.0"/>
<circle cx="559.5" cy="781.4" r="3.0"/>
<circle cx="498.3" cy="781.4" r="3.0"/>
<circle cx="532.1" cy="781.5" r="3.0"/>
<circle cx="570.3" cy="781.5" r="3.0"/>
<circle cx="505.4" cy="781.5" r="3.0"/>
<circle cx="516.0" cy="781.7" r="3.0"/>
<circle cx="511.0" cy="781.8" r="3.0"/>
<circle cx="561.4" cy="781.8" r="3.0"/>
<circle cx="548.0" cy="781.8" r="3.0"/>
<circle cx="481.6" cy="781.9" r="3.0"/>
<circle cx="553.9" cy="782.0" r="3.0"/>
<circle cx="497.9" cy="782.0" r="3.0"/>
<circle cx="557.0" cy="782.0" r="3.0"/>
<circle cx="595.0" cy="782.1" r="3.0"/>
<circle cx="563.4" cy="782.2" r="2.9"/>
<circle cx="515.2" cy="782.2" r="2.9"/>
<circle cx="550.3" cy="782.2" r="2.9"/>
<circle cx="552.4" cy="782.3" r="2.9"/>
<circle cx="491.4" cy="782.3" r="2.9"/>
<circle cx="550.8" cy="782.3" r="2.9"/>
<circle cx="524.6" cy="782.4" r="2.9"/>
<circle cx="562.1" cy="782.5" r="2.9"/>
<circle cx="559.3" cy="782.5" r="2.9"/>
<circle cx="551.3" cy="782.6" r="2.9"/>
<circle cx="521.9" cy="782.6" r="2.9"/>
<circle cx="519.5" cy="782.7" r="2.9"/>
<circle cx="518.5" cy="782.8" r="2.9"/>
<circle cx="573.0" cy="782.9" r="2.9"/>
<circle cx="576.1" cy="783.0" r="2.9"/>
<circle cx="499.7" cy="783.3" r="2.9"/>
<circle cx="493.3" cy="783.3" r="2.9"/>
<circle cx="555.1" cy="783.3" r="2.9"/>
<circle cx="584.9" cy="783.3" r="2.9"/>
<circle cx="551.4" cy="783.4" r="2.9"/>
<circle cx="560.5" cy="783.4" r="2.9"/>
<circle cx="551.6" cy="783.4" r="2.9"/>
<circle cx="523.9" cy="783.4" r="2.9"/>
<circle cx="514.6" cy="783.5" r="2.9"/>
<circle cx="509.2" cy="783.5" r="2.9"/>
<circle cx="408.6" cy="783.5" r="2.9"/>
<circle cx="554.0" cy="783.5" r="2.9"/>
<circle cx="564.6" cy="783.6" r="2.9"/>
<circle cx="498.2" cy="783.7" r="2.9"/>
<circle cx="514.3" cy="783.7" r="2.9"/>
<circle cx="564.7" cy="783.8" r="2.9"/>
<circle cx="520.6" cy="783.8" r="2.9"/>
<circle cx="548.1" cy="783.9" r="2.9"/>
<circle cx="418.6" cy="784.1" r="2.9"/>
<circle cx="506.9" cy="784.2" r="2.9"/>
<circle cx="518.9" cy="784.2" r="2.9"/>
<circle cx="578.5" cy="784.3" r="2.9"/>
<circle cx="550.8" cy="784.3" r="2.9"/>
<circle cx="514.3" cy="784.3" r="2.9"/>
<circle cx="482.8" cy="784.6" r="2.9"/>
<circle cx="578.3" cy="784.7" r="2.9"/>
<circle cx="568.3" cy="784.8" r="2.9"/>
<circle cx="528.6" cy="784.8" r="2.9"/>
<circle cx="593.0" cy="784.8" r="2.9"/>
<circle cx="559.1" cy="784.9" r="2.9"/>
<circle cx="576.0" cy="784.9" r="2.9"/>
<circle cx="597.2" cy="785.0" r="2.9"/>
<circle cx="632.0" cy="785.0" r="2.9"/>
<circle cx="547.0" cy="785.1" r="2.9"/>
<circle cx="578.5" cy="785.1" r="2.9"/>
<circle cx="478.8" cy="785.2" r="2.9"/>
<circle cx="550.1" cy="785.2" r="2.9"/>
<circle cx="538.6" cy="785.2" r="2.9"/>
<circle cx="560.7" cy="785.2" r="2.9"/>
<circle cx="508.9" cy="785.3" r="2.9"/>
<circle cx="517.5" cy="785.4" r="2.9"/>
<circle cx="571.0" cy="785.6" r="2.9"/>
<circle cx="496.8" cy="785.7" r="2.9"/>
<circle cx="490.3" cy="785.8" r="2.9"/>
<circle cx="562.1" cy="785.8" r="2.9"/>
<circle cx="561.2" cy="785.8" r="2.9"/>
<circle cx="511.3" cy="785.9" r="2.9"/>
<circle cx="558.7" cy="785.9" r="2.9"/>
<circle cx="565.1" cy="785.9" r="2.9"/>
<circle cx="881.2" cy="786.0" r="2.9"/>
<circle cx="514.9" cy="786.0" r="2.9"/>
<circle cx="528.5" cy="786.1" r="2.9"/>
<circle cx="544.2" cy="786.1" r="2.9"/>
<circle cx="504.9" cy="786.1" r="2.9"/>
<circle cx="570.4" cy="786.5" r="2.9"/>
<circle cx="540.7" cy="786.8" r="2.9"/>
<circle cx="510.7" cy="786.8" r="2.9"/>
<circle cx="558.4" cy="786.9" r="2.9"/>
<circle cx="504.6" cy="786.9" r="2.9"/>
<circle cx="518.3" cy="786.9" r="2.9"/>
<circle cx="548.3" cy="786.9" r="2.9"/>
<circle cx="522.4" cy="787.0" r="2.9"/>
<circle cx="564.5" cy="787.0" r="2.9"/>
<circle cx="520.8" cy="787.2" r="2.9"/>
<circle cx="512.7" cy="787.2" r="2.9"/>
<circle cx="574.2" cy="787.2" r="2.9"/>
<circle cx="601.7" cy="787.4" r="2.9"/>
<circle cx="551.9" cy="787.5" r="2.9"/>
<circle cx="570.3" cy="787.6" r="2.9"/>
<circle cx="510.4" cy="787.7" r="2.9"/>
<circle cx="554.6" cy="787.8" r="2.9"/>
<circle cx="519.0" cy="788.0" r="2.9"/>
<circle cx="559.7" cy="788.0" r="2.9"/>
<circle cx="528.4" cy="788.1" r="2.9"/>
<circle cx="480.1" cy="788.1" r="2.9"/>
<circle cx="694.3" cy="788.2" r="2.9"/>
<circle cx="554.5" cy="788.5" r="2.9"/>
<circle cx="504.1" cy="788.5" r="2.9"/>
<circle cx="525.3" cy="788.6" r="2.9"/>
<circle cx="477.4" cy="788.6" r="2.9"/>
<circle cx="552.2" cy="788.6" r="2.9"/>
<circle cx="564.9" cy="788.7" r="2.9"/>
<circle cx="559.5" cy="788.8" r="2.9"/>
<circle cx="525.6" cy="788.9" r="2.9"/>
<circle cx="560.3" cy="789.0" r="2.8"/>
<circle cx="520.2" cy="789.1" r="2.8"/>
<circle cx="522.3" cy="789.1" r="2.8"/>
<circle cx="559.9" cy="789.2" r="2.8"/>
<circle cx="550.8" cy="789.2" r="2.8"/>
<circle cx="527.0" cy="789.4" r="2.8"/>
<circle cx="521.9" cy="789.6" r="2.8"/>
<circle cx="559.7" cy="789.7" r="2.8"/>
<circle cx="484.2" cy="789.7" r="2.8"/>
<circle cx="555.5" cy="789.7" r="2.8"/>
<circle cx="546.6" cy="789.9" r="2.8"/>
<circle cx="553.1" cy="789.9" r="2.8"/>
<circle cx="477.9" cy="790.0" r="2.8"/>
<circle cx="458.0" cy="790.0" r="2.8"/>
<circle cx="576.3" cy="790.2" r="2.8"/>
<circle cx="527.1" cy="790.2" r="2.8"/>
<circle cx="518.8" cy="790.3" r="2.8"/>
<circle cx="502.7" cy="790.4" r="2.8"/>
<circle cx="555.4" cy="790.5" r="2.8"/>
<circle cx="505.2" cy="790.5" r="2.8"/>
<circle cx="492.8" cy="790.5" r="2.8"/>
<circle cx="553.1" cy="790.6" r="2.8"/>
<circle cx="287.6" cy="790.7" r="2.8"/>
<circle cx="487.8" cy="790.8" r="2.8"/>
<circle cx="554.3" cy="790.8" r="2.8"/>
<circle cx="570.2" cy="790.9" r="2.8"/>
<circle cx="575.3" cy="791.0" r="2.8"/>
<circle cx="559.8" cy="791.0" r="2.8"/>
<circle cx="523.4" cy="791.1" r="2.8"/>
<circle cx="530.8" cy="791.3" r="2.8"/>
<circle cx="491.5" cy="791.3" r="2.8"/>
<circle cx="508.4" cy="791.3" r="2.8"/>
<circle cx="548.0" cy="791.3" r="2.8"/>
<circle cx="579.9" cy="791.3" r="2.8"/>
<circle cx="568.4" cy="791.3" r="2.8"/>
<circle cx="507.6" cy="791.4" r="2.8"/>
<circle cx="673.5" cy="791.5" r="2.8"/>
<circle cx="547.5" cy="791.5" r="2.8"/>
<circle cx="521.0" cy="791.5" r="2.8"/>
<circle cx="560.6" cy="791.5" r="2.8"/>
<circle cx="495.7" cy="791.6" r="2.8"/>
<circle cx="507.6" cy="791.6" r="2.8"/>
<circle cx="519.7" cy="791.8" r="2.8"/>
<circle cx="579.3" cy="791.8" r="2.8"/>
<circle cx="572.9" cy="792.0" r="2.8"/>
<circle cx="602.1" cy="792.1" r="2.8"/>
<circle cx="341.2" cy="792.1" r="2.8"/>
<circle cx="550.8" cy="792.2" r="2.8"/>
<circle cx="493.7" cy="792.4" r="2.8"/>
<circle cx="504.7" cy="792.4" r="2.8"/>
<circle cx="523.8" cy="792.4" r="2.8"/>
<circle cx="552.6" cy="792.6" r="2.8"/>
<circle cx="563.0" cy="792.6" r="2.8"/>
<circle cx="538.5" cy="792.7" r="2.8"/>
<circle cx="579.0" cy="792.7" r="2.8"/>
<circle cx="473.1" cy="792.7" r="2.8"/>
<circle cx="513.5" cy="792.8" r="2.8"/>
<circle cx="526.4" cy="792.8" r="2.8"/>
<circle cx="555.5" cy="792.8" r="2.8"/>
<circle cx="535.8" cy="793.0" r="2.8"/>
<circle cx="532.5" cy="793.0" r="2.8"/>
<circle cx="549.3" cy="793.0" r="2.8"/>
<circle cx="566.0" cy="793.0" r="2.8"/>
<circle cx="558.9" cy="793.1" r="2.8"/>
<circle cx="510.9" cy="793.2" r="2.8"/>
<circle cx="517.7" cy="793.3" r="2.8"/>
<circle cx="576.3" cy="793.4" r="2.8"/>
<circle cx="509.6" cy="793.5" r="2.8"/>
<circle cx="493.2" cy="793.5" r="2.8"/>
<circle cx="585.6" cy="793.7" r="2.8"/>
<circle cx="545.3" cy="793.7" r="2.8"/>
<circle cx="502.2" cy="793.8" r="2.8"/>
<circle cx="501.3" cy="793.8" r="2.8"/>
<circle cx="491.6" cy="793.8" r="2.8"/>
<circle cx="549.2" cy="793.9" r="2.8"/>
<circle cx="520.6" cy="794.2" r="2.8"/>
<circle cx="562.7" cy="794.2" r="2.8"/>
<circle cx="550.5" cy="794.3" r="2.8"/>
<circle cx="556.5" cy="794.3" r="2.8"/>
<circle cx="521.0" cy="794.4" r="2.8"/>
<circle cx="574.7" cy="794.4" r="2.8"/>
<circle cx="519.8" cy="794.4" r="2.8"/>
<circle cx="598.8" cy="794.5" r="2.8"/>
<circle cx="508.1" cy="794.5" r="2.8"/>
<circle cx="523.3" cy="794.6" r="2.8"/>
<circle cx="571.7" cy="794.8" r="2.8"/>
<circle cx="470.7" cy="794.8" r="2.8"/>
<circle cx="555.3" cy="794.9" r="2.8"/>
<circle cx="567.1" cy="794.9" r="2.8"/>
<circle cx="597.4" cy="795.0" r="2.8"/>
<circle cx="612.0" cy="795.0" r="2.8"/>
<circle cx="559.6" cy="795.0" r="2.8"/>
<circle cx="557.8" cy="795.1" r="2.8"/>
<circle cx="552.3" cy="795.1" r="2.8"/>
<circle cx="566.8" cy="795.1" r="2.8"/>
<circle cx="512.1" cy="795.2" r="2.8"/>
<circle cx="561.9" cy="795.3" r="2.8"/>
<circle cx="545.1" cy="795.3" r="2.8"/>
<circle cx="554.8" cy="795.4" r="2.8"/>
<circle cx="570.4" cy="795.5" r="2.8"/>
<circle cx="508.9" cy="795.6" r="2.7"/>
<circle cx="503.1" cy="795.9" r="2.7"/>
<circle cx="511.7" cy="795.9" r="2.7"/>
<circle cx="568.0" cy="796.0" r="2.7"/>
<circle cx="523.5" cy="796.4" r="2.7"/>
<circle cx="562.3" cy="796.5" r="2.7"/>
<circle cx="527.0" cy="796.6" r="2.7"/>
<circle cx="514.8" cy="796.7" r="2.7"/>
<circle cx="598.5" cy="796.7" r="2.7"/>
<circle cx="494.6" cy="796.8" r="2.7"/>
<circle cx="551.2" cy="796.8" r="2.7"/>
<circle cx="596.1" cy="796.9" r="2.7"/>
<circle cx="521.9" cy="796.9" r="2.7"/>
<circle cx="516.8" cy="797.0" r="2.7"/>
<circle cx="549.0" cy="797.0" r="2.7"/>
<circle cx="562.6" cy="797.1" r="2.7"/>
<circle cx="573.7" cy="797.1" r="2.7"/>
<circle cx="485.8" cy="797.2" r="2.7"/>
<circle cx="498.3" cy="797.2" r="2.7"/>
<circle cx="552.3" cy="797.2" r="2.7"/>
<circle cx="505.1" cy="797.2" r="2.7"/>
<circle cx="596.1" cy="797.4" r="2.7"/>
<circle cx="565.5" cy="797.5" r="2.7"/>
<circle cx="567.6" cy="797.7" r="2.7"/>
<circle cx="574.7" cy="797.9" r="2.7"/>
<circle cx="509.7" cy="797.9" r="2.7"/>
<circle cx="504.0" cy="798.0" r="2.7"/>
<circle cx="508.4" cy="798.1" r="2.7"/>
<circle cx="552.2" cy="798.1" r="2.7"/>
<circle cx="527.8" cy="798.2" r="2.7"/>
<circle cx="520.9" cy="798.3" r="2.7"/>
<circle cx="529.1" cy="798.3" r="2.7"/>
<circle cx="523.2" cy="798.3" r="2.7"/>
<circle cx="512.8" cy="798.3" r="2.7"/>
<circle cx="530.8" cy="798.3" r="2.7"/>
<circle cx="554.4" cy="798.4" r="2.7"/>
<circle cx="477.2" cy="798.4" r="2.7"/>
<circle cx="523.1" cy="798.5" r="2.7"/>
<circle cx="514.0" cy="798.5" r="2.7"/>
<circle cx="515.3" cy="798.6" r="2.7"/>
<circle cx="509.7" cy="798.6" r="2.7"/>
<circle cx="575.0" cy="798.6" r="2.7"/>
<circle cx="595.3" cy="798.7" r="2.7"/>
<circle cx="580.7" cy="798.8" r="2.7"/>
<circle cx="509.9" cy="799.0" r="2.7"/>
<circle cx="547.9" cy="799.1" r="2.7"/>
<circle cx="512.6" cy="799.1" r="2.7"/>
<circle cx="526.1" cy="799.2" r="2.7"/>
<circle cx="532.6" cy="799.3" r="2.7"/>
<circle cx="553.1" cy="799.5" r="2.7"/>
<circle cx="556.4" cy="799.5" r="2.7"/>
<circle cx="556.5" cy="799.5" r="2.7"/>
<circle cx="512.9" cy="799.9" r="2.7"/>
<circle cx="719.6" cy="799.9" r="2.7"/>
<circle cx="560.8" cy="800.0" r="2.7"/>
<circle cx="645.0" cy="800.0" r="2.7"/>
<circle cx="548.7" cy="800.0" r="2.7"/>
<circle cx="582.0" cy="800.0" r="2.7"/>
<circle cx="551.6" cy="800.1" r="2.7"/>
<circle cx="518.5" cy="800.1" r="2.7"/>
<circle cx="494.9" cy="800.1" r="2.7"/>
<circle cx="520.4" cy="800.1" r="2.7"/>
<circle cx="347.8" cy="800.2" r="2.7"/>
<circle cx="560.4" cy="800.3" r="2.7"/>
<circle cx="528.7" cy="800.3" r="2.7"/>
<circle cx="562.5" cy="800.3" r="2.7"/>
<circle cx="488.6" cy="800.4" r="2.7"/>
<circle cx="547.5" cy="800.4" r="2.7"/>
<circle cx="548.5" cy="800.4" r="2.7"/>
<circle cx="586.3" cy="800.5" r="2.7"/>
<circle cx="272.4" cy="800.7" r="2.7"/>
<circle cx="557.4" cy="800.9" r="2.7"/>
<circle cx="574.2" cy="800.9" r="2.7"/>
<circle cx="555.5" cy="801.0" r="2.7"/>
<circle cx="559.1" cy="801.1" r="2.7"/>
<circle cx="576.1" cy="801.2" r="2.7"/>
<circle cx="525.1" cy="801.2" r="2.7"/>
<circle cx="518.0" cy="801.3" r="2.7"/>
<circle cx="560.8" cy="801.4" r="2.7"/>
<circle cx="557.3" cy="801.5" r="2.7"/>
<circle cx="586.3" cy="801.5" r="2.7"/>
<circle cx="551.2" cy="801.7" r="2.7"/>
<circle cx="511.5" cy="801.7" r="2.7"/>
<circle cx="569.7" cy="801.7" r="2.7"/>
<circle cx="523.9" cy="801.9" r="2.6"/>
<circle cx="508.1" cy="801.9" r="2.6"/>
<circle cx="498.0" cy="802.1" r="2.6"/>
<circle cx="519.8" cy="802.1" r="2.6"/>
<circle cx="528.7" cy="802.2" r="2.6"/>
<circle cx="573.6" cy="802.3" r="2.6"/>
<circle cx="514.6" cy="802.4" r="2.6"/>
<circle cx="557.6" cy="802.5" r="2.6"/>
<circle cx="552.5" cy="802.6" r="2.6"/>
<circle cx="585.2" cy="802.7" r="2.6"/>
<circle cx="515.9" cy="802.8" r="2.6"/>
<circle cx="519.7" cy="803.0" r="2.6"/>
<circle cx="511.9" cy="803.0" r="2.6"/>
<circle cx="375.6" cy="803.0" r="2.6"/>
<circle cx="516.0" cy="803.0" r="2.6"/>
<circle cx="521.7" cy="803.0" r="2.6"/>
<circle cx="551.4" cy="803.1" r="2.6"/>
<circle cx="579.9" cy="803.1" r="2.6"/>
<circle cx="546.5" cy="803.1" r="2.6"/>
<circle cx="518.8" cy="803.1" r="2.6"/>
<circle cx="572.2" cy="803.4" r="2.6"/>
<circle cx="595.0" cy="803.4" r="2.6"/>
<circle cx="549.6" cy="803.4" r="2.6"/>
<circle cx="515.3" cy="803.4" r="2.6"/>
<circle cx="570.0" cy="803.7" r="2.6"/>
<circle cx="519.8" cy="803.7" r="2.6"/>
<circle cx="566.8" cy="803.8" r="2.6"/>
<circle cx="545.0" cy="804.1" r="2.6"/>
<circle cx="553.4" cy="804.2" r="2.6"/>
<circle cx="495.0" cy="804.3" r="2.6"/>
<circle cx="562.0" cy="804.4" r="2.6"/>
<circle cx="527.8" cy="804.4" r="2.6"/>
<circle cx="563.3" cy="804.4" r="2.6"/>
<circle cx="524.3" cy="804.5" r="2.6"/>
<circle cx="561.0" cy="804.8" r="2.6"/>
<circle cx="681.3" cy="804.8" r="2.6"/>
<circle cx="593.8" cy="804.8" r="2.6"/>
<circle cx="559.4" cy="804.8" r="2.6"/>
<circle cx="521.1" cy="804.9" r="2.6"/>
<circle cx="243.1" cy="805.0" r="2.6"/>
<circle cx="428.7" cy="805.0" r="2.6"/>
<circle cx="467.0" cy="805.0" r="2.6"/>
<circle cx="568.9" cy="805.1" r="2.6"/>
<circle cx="554.2" cy="805.1" r="2.6"/>
<circle cx="537.6" cy="805.2" r="2.6"/>
<circle cx="600.2" cy="805.2" r="2.6"/>
<circle cx="506.4" cy="805.4" r="2.6"/>
<circle cx="556.9" cy="805.5" r="2.6"/>
<circle cx="520.0" cy="805.6" r="2.6"/>
<circle cx="548.2" cy="805.7" r="2.6"/>
<circle cx="524.7" cy="805.7" r="2.6"/>
<circle cx="544.5" cy="805.7" r="2.6"/>
<circle cx="510.3" cy="805.8" r="2.6"/>
<circle cx="532.2" cy="805.8" r="2.6"/>
<circle cx="563.9" cy="805.9" r="2.6"/>
<circle cx="557.9" cy="805.9" r="2.6"/>
<circle cx="414.3" cy="805.9" r="2.6"/>
<circle cx="566.2" cy="806.1" r="2.6"/>
<circle cx="495.0" cy="806.2" r="2.6"/>
<circle cx="558.2" cy="806.3" r="2.6"/>
<circle cx="571.3" cy="806.4" r="2.6"/>
<circle cx="562.8" cy="806.4" r="2.6"/>
<circle cx="544.2" cy="806.5" r="2.6"/>
<circle cx="522.9" cy="806.5" r="2.6"/>
<circle cx="546.2" cy="806.5" r="2.6"/>
<circle cx="565.4" cy="806.6" r="2.6"/>
<circle cx="517.6" cy="807.0" r="2.6"/>
<circle cx="563.7" cy="807.0" r="2.6"/>
<circle cx="522.8" cy="807.0" r="2.6"/>
<circle cx="554.2" cy="807.1" r="2.6"/>
<circle cx="525.1" cy="807.2" r="2.6"/>
<circle cx="524.1" cy="807.4" r="2.6"/>
<circle cx="525.0" cy="807.4" r="2.6"/>
<circle cx="576.4" cy="807.4" r="2.6"/>
<circle cx="552.1" cy="807.5" r="2.6"/>
<circle cx="569.8" cy="807.6" r="2.6"/>
<circle cx="553.6" cy="807.8" r="2.6"/>
<circle cx="586.6" cy="807.8" r="2.6"/>
<circle cx="528.3" cy="807.8" r="2.6"/>
<circle cx="510.7" cy="807.9" r="2.6"/>
<circle cx="566.1" cy="807.9" r="2.6"/>
<circle cx="574.3" cy="807.9" r="2.5"/>
<circle cx="550.3" cy="807.9" r="2.5"/>
<circle cx="519.6" cy="808.0" r="2.5"/>
<circle cx="562.9" cy="808.0" r="2.5"/>
<circle cx="560.7" cy="808.1" r="2.5"/>
<circle cx="556.7" cy="808.2" r="2.5"/>
<circle cx="526.0" cy="808.2" r="2.5"/>
<circle cx="571.7" cy="808.2" r="2.5"/>
<circle cx="561.8" cy="808.7" r="2.5"/>
<circle cx="550.9" cy="808.7" r="2.5"/>
<circle cx="547.2" cy="808.8" r="2.5"/>
<circle cx="554.9" cy="808.9" r="2.5"/>
<circle cx="566.9" cy="809.1" r="2.5"/>
<circle cx="483.3" cy="809.1" r="2.5"/>
<circle cx="500.5" cy="809.1" r="2.5"/>
<circle cx="526.6" cy="809.1" r="2.5"/>
<circle cx="549.2" cy="809.2" r="2.5"/>
<circle cx="579.9" cy="809.2" r="2.5"/>
<circle cx="555.4" cy="809.2" r="2.5"/>
<circle cx="520.6" cy="809.2" r="2.5"/>
<circle cx="518.9" cy="809.2" r="2.5"/>
<circle cx="531.8" cy="809.3" r="2.5"/>
<circle cx="524.7" cy="809.4" r="2.5"/>
<circle cx="528.6" cy="809.4" r="2.5"/>
<circle cx="578.4" cy="809.4" r="2.5"/>
<circle cx="594.1" cy="809.5" r="2.5"/>
<circle cx="572.9" cy="809.5" r="2.5"/>
<circle cx="517.3" cy="809.5" r="2.5"/>
<circle cx="513.6" cy="809.5" r="2.5"/>
<circle cx="551.7" cy="809.6" r="2.5"/>
<circle cx="524.4" cy="809.6" r="2.5"/>
<circle cx="519.0" cy="809.8" r="2.5"/>
<circle cx="554.5" cy="809.8" r="2.5"/>
<circle cx="553.4" cy="809.8" r="2.5"/>
<circle cx="514.8" cy="809.9" r="2.5"/>
<circle cx="564.0" cy="809.9" r="2.5"/>
<circle cx="519.5" cy="809.9" r="2.5"/>
<circle cx="547.6" cy="810.0" r="2.5"/>
<circle cx="559.8" cy="810.1" r="2.5"/>
<circle cx="524.6" cy="810.2" r="2.5"/>
<circle cx="562.5" cy="810.2" r="2.5"/>
<circle cx="487.7" cy="810.2" r="2.5"/>
<circle cx="524.9" cy="810.3" r="2.5"/>
<circle cx="522.1" cy="810.3" r="2.5"/>
<circle cx="554.3" cy="810.3" r="2.5"/>
<circle cx="559.5" cy="810.4" r="2.5"/>
<circle cx="553.2" cy="810.5" r="2.5"/>
<circle cx="521.1" cy="810.6" r="2.5"/>
<circle cx="546.6" cy="810.6" r="2.5"/>
<circle cx="506.8" cy="810.8" r="2.5"/>
<circle cx="550.9" cy="810.8" r="2.5"/>
<circle cx="522.9" cy="810.8" r="2.5"/>
<circle cx="514.7" cy="810.9" r="2.5"/>
<circle cx="524.8" cy="810.9" r="2.5"/>
<circle cx="513.8" cy="811.0" r="2.5"/>
<circle cx="563.3" cy="811.0" r="2.5"/>
<circle cx="487.4" cy="811.0" r="2.5"/>
<circle cx="527.1" cy="811.0" r="2.5"/>
<circle cx="552.3" cy="811.1" r="2.5"/>
<circle cx="509.6" cy="811.1" r="2.5"/>
<circle cx="554.7" cy="811.3" r="2.5"/>
<circle cx="547.1" cy="811.4" r="2.5"/>
<circle cx="583.4" cy="811.5" r="2.5"/>
<circle cx="518.9" cy="811.6" r="2.5"/>
<circle cx="527.2" cy="811.7" r="2.5"/>
<circle cx="527.5" cy="811.7" r="2.5"/>
<circle cx="516.8" cy="811.8" r="2.5"/>
<circle cx="555.3" cy="811.8" r="2.5"/>
<circle cx="521.6" cy="811.8" r="2.5"/>
<circle cx="565.3" cy="812.0" r="2.5"/>
<circle cx="526.8" cy="812.0" r="2.5"/>
<circle cx="561.9" cy="812.1" r="2.5"/>
<circle cx="542.5" cy="812.2" r="2.5"/>
<circle cx="587.8" cy="812.3" r="2.5"/>
<circle cx="570.4" cy="812.3" r="2.5"/>
<circle cx="550.4" cy="812.3" r="2.5"/>
<circle cx="517.0" cy="812.3" r="2.5"/>
<circle cx="561.2" cy="812.3" r="2.5"/>
<circle cx="490.7" cy="812.3" r="2.5"/>
<circle cx="500.4" cy="812.4" r="2.5"/>
<circle cx="495.7" cy="812.4" r="2.5"/>
<circle cx="544.7" cy="812.5" r="2.5"/>
<circle cx="557.2" cy="812.5" r="2.5"/>
<circle cx="549.6" cy="812.6" r="2.5"/>
<circle cx="510.4" cy="812.6" r="2.5"/>
<circle cx="520.4" cy="812.6" r="2.5"/>
<circle cx="491.8" cy="812.7" r="2.5"/>
<circle cx="554.1" cy="812.8" r="2.5"/>
<circle cx="512.7" cy="812.9" r="2.5"/>
<circle cx="534.6" cy="812.9" r="2.5"/>
<circle cx="547.4" cy="813.0" r="2.5"/>
<circle cx="524.3" cy="813.0" r="2.5"/>
<circle cx="511.6" cy="813.1" r="2.5"/>
<circle cx="557.2" cy="813.1" r="2.5"/>
<circle cx="508.5" cy="813.1" r="2.5"/>
<circle cx="515.1" cy="813.3" r="2.5"/>
<circle cx="480.0" cy="813.4" r="2.5"/>
<circle cx="580.9" cy="813.6" r="2.5"/>
<circle cx="541.1" cy="813.6" r="2.5"/>
<circle cx="549.5" cy="813.7" r="2.5"/>
<circle cx="570.8" cy="813.7" r="2.5"/>
<circle cx="560.2" cy="813.7" r="2.5"/>
<circle cx="514.5" cy="813.7" r="2.5"/>
<circle cx="515.2" cy="813.9" r="2.4"/>
<circle cx="534.4" cy="813.9" r="2.4"/>
<circle cx="558.0" cy="814.2" r="2.4"/>
<circle cx="557.3" cy="814.3" r="2.4"/>
<circle cx="557.7" cy="814.3" r="2.4"/>
<circle cx="496.3" cy="814.4" r="2.4"/>
<circle cx="517.7" cy="814.4" r="2.4"/>
<circle cx="500.0" cy="814.5" r="2.4"/>
<circle cx="560.9" cy="814.5" r="2.4"/>
<circle cx="517.3" cy="814.5" r="2.4"/>
<circle cx="550.4" cy="814.5" r="2.4"/>
<circle cx="518.4" cy="814.5" r="2.4"/>
<circle cx="587.1" cy="814.6" r="2.4"/>
<circle cx="525.4" cy="814.6" r="2.4"/>
<circle cx="547.1" cy="814.7" r="2.4"/>
<circle cx="558.5" cy="814.7" r="2.4"/>
<circle cx="523.4" cy="814.8" r="2.4"/>
<circle cx="567.7" cy="814.8" r="2.4"/>
<circle cx="556.1" cy="814.8" r="2.4"/>
<circle cx="572.4" cy="814.8" r="2.4"/>
<circle cx="509.4" cy="814.9" r="2.4"/>
<circle cx="507.9" cy="814.9" r="2.4"/>
<circle cx="535.5" cy="815.0" r="2.4"/>
<circle cx="622.0" cy="815.0" r="2.4"/>
<circle cx="511.5" cy="815.1" r="2.4"/>
<circle cx="548.6" cy="815.2" r="2.4"/>
<circle cx="551.1" cy="815.3" r="2.4"/>
<circle cx="542.4" cy="815.3" r="2.4"/>
<circle cx="563.2" cy="815.3" r="2.4"/>
<circle cx="501.4" cy="815.3" r="2.4"/>
<circle cx="589.2" cy="815.5" r="2.4"/>
<circle cx="579.1" cy="815.5" r="2.4"/>
<circle cx="500.1" cy="815.5" r="2.4"/>
<circle cx="560.5" cy="815.5" r="2.4"/>
<circle cx="565.0" cy="815.6" r="2.4"/>
<circle cx="549.0" cy="815.6" r="2.4"/>
<circle cx="600.9" cy="815.7" r="2.4"/>
<circle cx="475.0" cy="815.7" r="2.4"/>
<circle cx="562.6" cy="815.7" r="2.4"/>
<circle cx="482.3" cy="815.9" r="2.4"/>
<circle cx="552.7" cy="815.9" r="2.4"/>
<circle cx="553.1" cy="816.0" r="2.4"/>
<circle cx="581.9" cy="816.0" r="2.4"/>
<circle cx="562.1" cy="816.1" r="2.4"/>
<circle cx="572.9" cy="816.1" r="2.4"/>
<circle cx="557.1" cy="816.2" r="2.4"/>
<circle cx="523.0" cy="816.2" r="2.4"/>
<circle cx="516.1" cy="816.2" r="2.4"/>
<circle cx="501.6" cy="816.3" r="2.4"/>
<circle cx="514.9" cy="816.4" r="2.4"/>
<circle cx="552.2" cy="816.5" r="2.4"/>
<circle cx="515.2" cy="816.6" r="2.4"/>
<circle cx="552.6" cy="816.6" r="2.4"/>
<circle cx="553.0" cy="816.7" r="2.4"/>
<circle cx="559.6" cy="816.7" r="2.4"/>
<circle cx="546.5" cy="816.8" r="2.4"/>
<circle cx="576.5" cy="816.8" r="2.4"/>
<circle cx="563.1" cy="816.8" r="2.4"/>
<circle cx="551.5" cy="816.9" r="2.4"/>
<circle cx="569.6" cy="816.9" r="2.4"/>
<circle cx="494.2" cy="816.9" r="2.4"/>
<circle cx="560.9" cy="817.0" r="2.4"/>
<circle cx="556.1" cy="817.0" r="2.4"/>
<circle cx="529.3" cy="817.0" r="2.4"/>
<circle cx="553.0" cy="817.1" r="2.4"/>
<circle cx="572.6" cy="817.1" r="2.4"/>
<circle cx="547.9" cy="817.1" r="2.4"/>
<circle cx="572.4" cy="817.1" r="2.4"/>
<circle cx="523.1" cy="817.3" r="2.4"/>
<circle cx="544.9" cy="817.3" r="2.4"/>
<circle cx="526.8" cy="817.3" r="2.4"/>
<circle cx="550.9" cy="817.4" r="2.4"/>
<circle cx="552.1" cy="817.5" r="2.4"/>
<circle cx="521.3" cy="817.6" r="2.4"/>
<circle cx="566.3" cy="817.6" r="2.4"/>
<circle cx="511.1" cy="817.7" r="2.4"/>
<circle cx="552.2" cy="817.7" r="2.4"/>
<circle cx="558.9" cy="817.8" r="2.4"/>
<circle cx="587.0" cy="817.9" r="2.4"/>
<circle cx="557.6" cy="817.9" r="2.4"/>
<circle cx="546.8" cy="817.9" r="2.4"/>
<circle cx="544.0" cy="818.0" r="2.4"/>
<circle cx="528.3" cy="818.1" r="2.4"/>
<circle cx="529.1" cy="818.2" r="2.4"/>
<circle cx="528.1" cy="818.2" r="2.4"/>
<circle cx="520.4" cy="818.3" r="2.4"/>
<circle cx="524.3" cy="818.3" r="2.4"/>
<circle cx="509.6" cy="818.3" r="2.4"/>
<circle cx="524.7" cy="818.3" r="2.4"/>
<circle cx="557.2" cy="818.3" r="2.4"/>
<circle cx="546.6" cy="818.4" r="2.4"/>
<circle cx="525.6" cy="818.4" r="2.4"/>
<circle cx="590.0" cy="818.4" r="2.4"/>
<circle cx="552.4" cy="818.4" r="2.4"/>
<circle cx="660.1" cy="818.5" r="2.4"/>
<circle cx="556.6" cy="818.5" r="2.4"/>
<circle cx="567.5" cy="818.5" r="2.4"/>
<circle cx="519.1" cy="818.5" r="2.4"/>
<circle cx="533.9" cy="818.7" r="2.4"/>
<circle cx="573.3" cy="818.8" r="2.4"/>
<circle cx="543.9" cy="818.9" r="2.4"/>
<circle cx="587.2" cy="819.0" r="2.4"/>
<circle cx="548.1" cy="819.1" r="2.4"/>
<circle cx="550.1" cy="819.1" r="2.4"/>
<circle cx="546.8" cy="819.1" r="2.4"/>
<circle cx="515.2" cy="819.2" r="2.4"/>
<circle cx="558.1" cy="819.3" r="2.4"/>
<circle cx="548.9" cy="819.3" r="2.4"/>
<circle cx="513.6" cy="819.3" r="2.4"/>
<circle cx="560.1" cy="819.3" r="2.4"/>
<circle cx="494.4" cy="819.3" r="2.4"/>
<circle cx="551.0" cy="819.4" r="2.4"/>
<circle cx="448.2" cy="819.4" r="2.4"/>
<circle cx="555.6" cy="819.4" r="2.4"/>
<circle cx="554.6" cy="819.4" r="2.4"/>
<circle cx="545.8" cy="819.4" r="2.4"/>
<circle cx="552.7" cy="819.4" r="2.4"/>
<circle cx="517.4" cy="819.5" r="2.3"/>
<circle cx="524.8" cy="819.5" r="2.3"/>
<circle cx="537.7" cy="819.5" r="2.3"/>
<circle cx="530.5" cy="819.5" r="2.3"/>
<circle cx="550.9" cy="819.6" r="2.3"/>
<circle cx="589.0" cy="819.7" r="2.3"/>
<circle cx="520.2" cy="819.8" r="2.3"/>
<circle cx="527.3" cy="819.8" r="2.3"/>
<circle cx="564.5" cy="819.8" r="2.3"/>
<circle cx="575.5" cy="819.9" r="2.3"/>
<circle cx="557.0" cy="820.0" r="2.3"/>
<circle cx="512.3" cy="820.0" r="2.3"/>
<circle cx="523.2" cy="820.0" r="2.3"/>
<circle cx="549.4" cy="820.1" r="2.3"/>
<circle cx="579.2" cy="820.2" r="2.3"/>
<circle cx="489.2" cy="820.3" r="2.3"/>
<circle cx="489.9" cy="820.3" r="2.3"/>
<circle cx="547.6" cy="820.3" r="2.3"/>
<circle cx="560.8" cy="820.4" r="2.3"/>
<circle cx="553.1" cy="820.5" r="2.3"/>
<circle cx="549.0" cy="820.5" r="2.3"/>
<circle cx="530.9" cy="820.6" r="2.3"/>
<circle cx="566.4" cy="820.6" r="2.3"/>
<circle cx="527.8" cy="820.6" r="2.3"/>
<circle cx="516.7" cy="820.7" r="2.3"/>
<circle cx="550.2" cy="820.8" r="2.3"/>
<circle cx="499.3" cy="820.8" r="2.3"/>
<circle cx="512.0" cy="820.8" r="2.3"/>
<circle cx="520.2" cy="820.8" r="2.3"/>
<circle cx="550.4" cy="820.9" r="2.3"/>
<circle cx="490.4" cy="820.9" r="2.3"/>
<circle cx="510.7" cy="821.0" r="2.3"/>
<circle cx="567.7" cy="821.0" r="2.3"/>
<circle cx="564.3" cy="821.1" r="2.3"/>
<circle cx="527.0" cy="821.1" r="2.3"/>
<circle cx="555.0" cy="821.1" r="2.3"/>
<circle cx="514.4" cy="821.2" r="2.3"/>
<circle cx="547.5" cy="821.4" r="2.3"/>
<circle cx="552.8" cy="821.4" r="2.3"/>
<circle cx="524.6" cy="821.4" r="2.3"/>
<circle cx="583.1" cy="821.4" r="2.3"/>
<circle cx="576.9" cy="821.4" r="2.3"/>
<circle cx="560.4" cy="821.5" r="2.3"/>
<circle cx="548.5" cy="821.8" r="2.3"/>
<circle cx="556.0" cy="821.9" r="2.3"/>
<circle cx="526.9" cy="821.9" r="2.3"/>
<circle cx="528.3" cy="822.0" r="2.3"/>
<circle cx="547.7" cy="822.0" r="2.3"/>
<circle cx="605.5" cy="822.1" r="2.3"/>
<circle cx="518.3" cy="822.1" r="2.3"/>
<circle cx="566.5" cy="822.2" r="2.3"/>
<circle cx="520.5" cy="822.2" r="2.3"/>
<circle cx="549.3" cy="822.2" r="2.3"/>
<circle cx="527.6" cy="822.2" r="2.3"/>
<circle cx="531.4" cy="822.3" r="2.3"/>
<circle cx="552.1" cy="822.4" r="2.3"/>
<circle cx="552.5" cy="822.4" r="2.3"/>
<circle cx="514.5" cy="822.4" r="2.3"/>
<circle cx="509.0" cy="822.5" r="2.3"/>
<circle cx="529.1" cy="822.6" r="2.3"/>
<circle cx="546.9" cy="822.6" r="2.3"/>
<circle cx="527.7" cy="822.6" r="2.3"/>
<circle cx="556.8" cy="822.6" r="2.3"/>
<circle cx="505.2" cy="822.6" r="2.3"/>
<circle cx="525.8" cy="822.7" r="2.3"/>
<circle cx="552.0" cy="822.8" r="2.3"/>
<circle cx="530.1" cy="822.8" r="2.3"/>
<circle cx="525.3" cy="822.8" r="2.3"/>
<circle cx="544.0" cy="822.9" r="2.3"/>
<circle cx="561.6" cy="822.9" r="2.3"/>
<circle cx="523.7" cy="823.0" r="2.3"/>
<circle cx="517.2" cy="823.0" r="2.3"/>
<circle cx="514.1" cy="823.0" r="2.3"/>
<circle cx="558.2" cy="823.0" r="2.3"/>
<circle cx="546.0" cy="823.0" r="2.3"/>
<circle cx="549.1" cy="823.0" r="2.3"/>
<circle cx="558.9" cy="823.1" r="2.3"/>
<circle cx="554.5" cy="823.1" r="2.3"/>
<circle cx="521.9" cy="823.1" r="2.3"/>
<circle cx="252.3" cy="823.1" r="2.3"/>
<circle cx="525.7" cy="823.1" r="2.3"/>
<circle cx="528.9" cy="823.2" r="2.3"/>
<circle cx="567.8" cy="823.2" r="2.3"/>
<circle cx="519.7" cy="823.3" r="2.3"/>
<circle cx="519.1" cy="823.3" r="2.3"/>
<circle cx="545.8" cy="823.4" r="2.3"/>
<circle cx="571.4" cy="823.5" r="2.3"/>
<circle cx="577.6" cy="823.5" r="2.3"/>
<circle cx="546.1" cy="823.5" r="2.3"/>
<circle cx="521.5" cy="823.5" r="2.3"/>
<circle cx="526.5" cy="823.6" r="2.3"/>
<circle cx="562.6" cy="823.6" r="2.3"/>
<circle cx="560.9" cy="823.6" r="2.3"/>
<circle cx="523.8" cy="823.8" r="2.3"/>
<circle cx="521.9" cy="823.8" r="2.3"/>
<circle cx="550.1" cy="823.8" r="2.3"/>
<circle cx="509.8" cy="823.9" r="2.3"/>
<circle cx="481.1" cy="823.9" r="2.3"/>
<circle cx="545.3" cy="824.0" r="2.3"/>
<circle cx="540.0" cy="824.0" r="2.3"/>
<circle cx="546.4" cy="824.0" r="2.3"/>
<circle cx="526.5" cy="824.0" r="2.3"/>
<circle cx="563.8" cy="824.1" r="2.3"/>
<circle cx="504.1" cy="824.1" r="2.3"/>
<circle cx="526.8" cy="824.1" r="2.3"/>
<circle cx="526.6" cy="824.1" r="2.3"/>
<circle cx="567.6" cy="824.2" r="2.3"/>
<circle cx="569.3" cy="824.2" r="2.3"/>
<circle cx="332.0" cy="824.3" r="2.3"/>
<circle cx="563.4" cy="824.3" r="2.3"/>
<circle cx="528.0" cy="824.3" r="2.3"/>
<circle cx="569.2" cy="824.3" r="2.3"/>
<circle cx="504.0" cy="824.4" r="2.3"/>
<circle cx="545.5" cy="824.5" r="2.3"/>
<circle cx="508.7" cy="824.5" r="2.3"/>
<circle cx="541.4" cy="824.6" r="2.3"/>
<circle cx="516.9" cy="824.6" r="2.3"/>
<circle cx="547.0" cy="824.6" r="2.3"/>
<circle cx="495.5" cy="824.7" r="2.3"/>
<circle cx="527.7" cy="824.7" r="2.3"/>
<circle cx="527.8" cy="824.8" r="2.3"/>
<circle cx="577.5" cy="824.8" r="2.3"/>
<circle cx="587.3" cy="824.8" r="2.2"/>
<circle cx="563.4" cy="824.8" r="2.2"/>
<circle cx="530.7" cy="824.9" r="2.2"/>
<circle cx="514.1" cy="824.9" r="2.2"/>
<circle cx="520.1" cy="824.9" r="2.2"/>
<circle cx="500.8" cy="824.9" r="2.2"/>
<circle cx="564.2" cy="825.0" r="2.2"/>
<circle cx="572.9" cy="825.0" r="2.2"/>
<circle cx="684.5" cy="825.0" r="2.2"/>
<circle cx="570.8" cy="825.0" r="2.2"/>
<circle cx="587.7" cy="825.0" r="2.2"/>
<circle cx="523.6" cy="825.0" r="2.2"/>
<circle cx="514.3" cy="825.1" r="2.2"/>
<circle cx="520.7" cy="825.3" r="2.2"/>
<circle cx="490.1" cy="825.4" r="2.2"/>
<circle cx="541.5" cy="825.5" r="2.2"/>
<circle cx="580.1" cy="825.5" r="2.2"/>
<circle cx="523.6" cy="825.6" r="2.2"/>
<circle cx="561.2" cy="825.6" r="2.2"/>
<circle cx="481.1" cy="825.7" r="2.2"/>
<circle cx="470.1" cy="825.8" r="2.2"/>
<circle cx="554.0" cy="825.9" r="2.2"/>
<circle cx="517.0" cy="826.0" r="2.2"/>
<circle cx="555.1" cy="826.0" r="2.2"/>
<circle cx="521.8" cy="826.3" r="2.2"/>
<circle cx="514.1" cy="826.3" r="2.2"/>
<circle cx="553.0" cy="826.3" r="2.2"/>
<circle cx="548.1" cy="826.4" r="2.2"/>
<circle cx="521.5" cy="826.4" r="2.2"/>
<circle cx="568.5" cy="826.5" r="2.2"/>
<circle cx="564.0" cy="826.5" r="2.2"/>
<circle cx="511.3" cy="826.6" r="2.2"/>
<circle cx="568.3" cy="826.6" r="2.2"/>
<circle cx="560.9" cy="826.7" r="2.2"/>
<circle cx="512.9" cy="826.7" r="2.2"/>
<circle cx="503.3" cy="826.8" r="2.2"/>
<circle cx="524.9" cy="826.8" r="2.2"/>
<circle cx="529.3" cy="826.8" r="2.2"/>
<circle cx="567.4" cy="826.9" r="2.2"/>
<circle cx="522.2" cy="827.0" r="2.2"/>
<circle cx="526.7" cy="827.0" r="2.2"/>
<circle cx="559.9" cy="827.1" r="2.2"/>
<circle cx="528.7" cy="827.1" r="2.2"/>
<circle cx="503.9" cy="827.1" r="2.2"/>
<circle cx="546.4" cy="827.2" r="2.2"/>
<circle cx="525.3" cy="827.3" r="2.2"/>
<circle cx="490.7" cy="827.3" r="2.2"/>
<circle cx="550.7" cy="827.4" r="2.2"/>
<circle cx="546.8" cy="827.4" r="2.2"/>
<circle cx="515.5" cy="827.4" r="2.2"/>
<circle cx="523.5" cy="827.5" r="2.2"/>
<circle cx="519.5" cy="827.5" r="2.2"/>
<circle cx="559.1" cy="827.5" r="2.2"/>
<circle cx="541.0" cy="827.6" r="2.2"/>
<circle cx="569.8" cy="827.6" r="2.2"/>
<circle cx="549.8" cy="827.6" r="2.2"/>
<circle cx="548.9" cy="827.6" r="2.2"/>
<circle cx="563.2" cy="827.6" r="2.2"/>
<circle cx="551.5" cy="827.7" r="2.2"/>
<circle cx="553.6" cy="827.8" r="2.2"/>
<circle cx="595.8" cy="827.8" r="2.2"/>
<circle cx="520.2" cy="827.8" r="2.2"/>
<circle cx="522.2" cy="827.9" r="2.2"/>
<circle cx="511.2" cy="827.9" r="2.2"/>
<circle cx="525.2" cy="827.9" r="2.2"/>
<circle cx="520.0" cy="828.0" r="2.2"/>
<circle cx="569.6" cy="828.0" r="2.2"/>
<circle cx="428.7" cy="828.0" r="2.2"/>
<circle cx="522.9" cy="828.0" r="2.2"/>
<circle cx="519.3" cy="828.0" r="2.2"/>
<circle cx="520.9" cy="828.1" r="2.2"/>
<circle cx="499.9" cy="828.1" r="2.2"/>
<circle cx="564.6" cy="828.2" r="2.2"/>
<circle cx="600.3" cy="828.3" r="2.2"/>
<circle cx="525.3" cy="828.3" r="2.2"/>
<circle cx="555.5" cy="828.3" r="2.2"/>
<circle cx="534.7" cy="828.4" r="2.2"/>
<circle cx="491.0" cy="828.5" r="2.2"/>
<circle cx="518.5" cy="828.5" r="2.2"/>
<circle cx="530.7" cy="828.5" r="2.2"/>
<circle cx="517.2" cy="828.6" r="2.2"/>
<circle cx="525.7" cy="828.6" r="2.2"/>
<circle cx="538.3" cy="828.7" r="2.2"/>
<circle cx="530.7" cy="828.7" r="2.2"/>
<circle cx="504.6" cy="828.7" r="2.2"/>
<circle cx="562.7" cy="828.7" r="2.2"/>
<circle cx="524.4" cy="828.8" r="2.2"/>
<circle cx="545.5" cy="828.9" r="2.2"/>
<circle cx="529.9" cy="828.9" r="2.2"/>
<circle cx="470.5" cy="828.9" r="2.2"/>
<circle cx="527.4" cy="828.9" r="2.2"/>
<circle cx="524.0" cy="829.0" r="2.2"/>
<circle cx="538.5" cy="829.0" r="2.2"/>
<circle cx="517.1" cy="829.0" r="2.2"/>
<circle cx="521.2" cy="829.0" r="2.2"/>
<circle cx="549.6" cy="829.0" r="2.2"/>
<circle cx="524.2" cy="829.1" r="2.2"/>
<circle cx="524.7" cy="829.1" r="2.2"/>
<circle cx="526.5" cy="829.1" r="2.2"/>
<circle cx="766.8" cy="829.2" r="2.2"/>
<circle cx="525.8" cy="829.3" r="2.2"/>
<circle cx="516.8" cy="829.3" r="2.2"/>
<circle cx="522.5" cy="829.4" r="2.2"/>
<circle cx="513.6" cy="829.4" r="2.2"/>
<circle cx="521.8" cy="829.5" r="2.2"/>
<circle cx="553.0" cy="829.6" r="2.2"/>
<circle cx="515.5" cy="829.6" r="2.2"/>
<circle cx="549.5" cy="829.6" r="2.2"/>
<circle cx="524.6" cy="829.6" r="2.2"/>
<circle cx="526.6" cy="829.6" r="2.2"/>
<circle cx="526.9" cy="829.7" r="2.2"/>
<circle cx="518.0" cy="829.7" r="2.2"/>
<circle cx="544.5" cy="829.7" r="2.2"/>
<circle cx="516.9" cy="829.7" r="2.2"/>
<circle cx="562.5" cy="829.7" r="2.2"/>
<circle cx="554.9" cy="829.8" r="2.2"/>
<circle cx="547.5" cy="829.8" r="2.2"/>
<circle cx="518.5" cy="830.0" r="2.1"/>
<circle cx="462.0" cy="830.0" r="2.1"/>
<circle cx="524.5" cy="830.1" r="2.1"/>
<circle cx="605.7" cy="830.1" r="2.1"/>
<circle cx="508.1" cy="830.2" r="2.1"/>
<circle cx="549.2" cy="830.2" r="2.1"/>
<circle cx="506.2" cy="830.2" r="2.1"/>
<circle cx="546.0" cy="830.3" r="2.1"/>
<circle cx="494.3" cy="830.3" r="2.1"/>
<circle cx="523.1" cy="830.3" r="2.1"/>
<circle cx="568.2" cy="830.4" r="2.1"/>
<circle cx="568.4" cy="830.5" r="2.1"/>
<circle cx="547.0" cy="830.6" r="2.1"/>
<circle cx="550.7" cy="830.6" r="2.1"/>
<circle cx="546.6" cy="830.7" r="2.1"/>
<circle cx="556.9" cy="830.7" r="2.1"/>
<circle cx="528.5" cy="830.7" r="2.1"/>
<circle cx="518.8" cy="830.8" r="2.1"/>
<circle cx="560.8" cy="830.8" r="2.1"/>
<circle cx="560.3" cy="830.8" r="2.1"/>
<circle cx="526.4" cy="830.8" r="2.1"/>
<circle cx="520.7" cy="830.9" r="2.1"/>
<circle cx="583.8" cy="830.9" r="2.1"/>
<circle cx="550.3" cy="830.9" r="2.1"/>
<circle cx="520.6" cy="830.9" r="2.1"/>
<circle cx="557.6" cy="830.9" r="2.1"/>
<circle cx="526.7" cy="831.0" r="2.1"/>
<circle cx="553.4" cy="831.1" r="2.1"/>
<circle cx="600.9" cy="831.2" r="2.1"/>
<circle cx="558.5" cy="831.2" r="2.1"/>
<circle cx="533.8" cy="831.3" r="2.1"/>
<circle cx="523.2" cy="831.3" r="2.1"/>
<circle cx="528.4" cy="831.3" r="2.1"/>
<circle cx="505.1" cy="831.4" r="2.1"/>
<circle cx="529.6" cy="831.4" r="2.1"/>
<circle cx="563.6" cy="831.5" r="2.1"/>
<circle cx="665.0" cy="831.5" r="2.1"/>
<circle cx="550.7" cy="831.5" r="2.1"/>
<circle cx="556.1" cy="831.7" r="2.1"/>
<circle cx="513.0" cy="831.8" r="2.1"/>
<circle cx="570.6" cy="831.9" r="2.1"/>
<circle cx="552.5" cy="832.0" r="2.1"/>
<circle cx="553.5" cy="832.0" r="2.1"/>
<circle cx="563.4" cy="832.1" r="2.1"/>
<circle cx="560.8" cy="832.1" r="2.1"/>
<circle cx="520.7" cy="832.1" r="2.1"/>
<circle cx="525.3" cy="832.1" r="2.1"/>
<circle cx="547.4" cy="832.2" r="2.1"/>
<circle cx="563.9" cy="832.4" r="2.1"/>
<circle cx="528.9" cy="832.4" r="2.1"/>
<circle cx="529.1" cy="832.6" r="2.1"/>
<circle cx="568.9" cy="832.7" r="2.1"/>
<circle cx="474.8" cy="832.8" r="2.1"/>
<circle cx="577.1" cy="832.8" r="2.1"/>
<circle cx="519.5" cy="832.8" r="2.1"/>
<circle cx="470.2" cy="832.9" r="2.1"/>
<circle cx="557.8" cy="832.9" r="2.1"/>
<circle cx="522.7" cy="832.9" r="2.1"/>
<circle cx="496.7" cy="832.9" r="2.1"/>
<circle cx="527.2" cy="833.0" r="2.1"/>
<circle cx="546.8" cy="833.0" r="2.1"/>
<circle cx="522.4" cy="833.1" r="2.1"/>
<circle cx="505.0" cy="833.1" r="2.1"/>
<circle cx="505.8" cy="833.2" r="2.1"/>
<circle cx="545.7" cy="833.2" r="2.1"/>
<circle cx="510.8" cy="833.3" r="2.1"/>
<circle cx="528.2" cy="833.4" r="2.1"/>
<circle cx="592.5" cy="833.4" r="2.1"/>
<circle cx="550.1" cy="833.5" r="2.1"/>
<circle cx="514.7" cy="833.5" r="2.1"/>
<circle cx="558.2" cy="833.5" r="2.1"/>
<circle cx="564.6" cy="833.5" r="2.1"/>
<circle cx="542.4" cy="833.6" r="2.1"/>
<circle cx="525.0" cy="833.6" r="2.1"/>
<circle cx="526.9" cy="833.6" r="2.1"/>
<circle cx="576.0" cy="833.6" r="2.1"/>
<circle cx="527.5" cy="833.7" r="2.1"/>
<circle cx="564.4" cy="833.7" r="2.1"/>
<circle cx="776.2" cy="833.7" r="2.1"/>
<circle cx="559.9" cy="833.8" r="2.1"/>
<circle cx="526.0" cy="833.8" r="2.1"/>
<circle cx="520.3" cy="833.8" r="2.1"/>
<circle cx="524.4" cy="833.8" r="2.1"/>
<circle cx="544.1" cy="833.8" r="2.1"/>
<circle cx="543.7" cy="833.9" r="2.1"/>
<circle cx="501.6" cy="833.9" r="2.1"/>
<circle cx="521.2" cy="833.9" r="2.1"/>
<circle cx="533.0" cy="834.0" r="2.1"/>
<circle cx="516.4" cy="834.0" r="2.1"/>
<circle cx="539.1" cy="834.1" r="2.1"/>
<circle cx="546.7" cy="834.1" r="2.1"/>
<circle cx="526.2" cy="834.1" r="2.1"/>
<circle cx="548.6" cy="834.1" r="2.1"/>
<circle cx="583.5" cy="834.1" r="2.1"/>
<circle cx="545.3" cy="834.1" r="2.1"/>
<circle cx="582.7" cy="834.2" r="2.1"/>
<circle cx="547.8" cy="834.3" r="2.1"/>
<circle cx="563.0" cy="834.4" r="2.1"/>
<circle cx="545.2" cy="834.4" r="2.1"/>
<circle cx="550.1" cy="834.4" r="2.1"/>
<circle cx="552.3" cy="834.5" r="2.1"/>
<circle cx="511.6" cy="834.5" r="2.1"/>
<circle cx="503.8" cy="834.5" r="2.1"/>
<circle cx="561.7" cy="834.6" r="2.1"/>
<circle cx="543.8" cy="834.7" r="2.1"/>
<circle cx="521.5" cy="834.7" r="2.1"/>
<circle cx="555.9" cy="834.7" r="2.1"/>
<circle cx="527.2" cy="834.7" r="2.1"/>
<circle cx="545.1" cy="834.8" r="2.1"/>
<circle cx="558.5" cy="834.8" r="2.1"/>
<circle cx="502.3" cy="834.9" r="2.1"/>
<circle cx="529.4" cy="834.9" r="2.1"/>
<circle cx="531.5" cy="835.1" r="2.0"/>
<circle cx="513.8" cy="835.1" r="2.0"/>
<circle cx="524.8" cy="835.1" r="2.0"/>
<circle cx="551.2" cy="835.1" r="2.0"/>
<circle cx="557.4" cy="835.2" r="2.0"/>
<circle cx="547.8" cy="835.2" r="2.0"/>
<circle cx="565.2" cy="835.3" r="2.0"/>
<circle cx="545.4" cy="835.3" r="2.0"/>
<circle cx="552.1" cy="835.3" r="2.0"/>
<circle cx="524.4" cy="835.4" r="2.0"/>
<circle cx="529.6" cy="835.4" r="2.0"/>
<circle cx="518.1" cy="835.4" r="2.0"/>
<circle cx="527.4" cy="835.4" r="2.0"/>
<circle cx="530.9" cy="835.4" r="2.0"/>
<circle cx="533.7" cy="835.5" r="2.0"/>
<circle cx="556.6" cy="835.7" r="2.0"/>
<circle cx="551.5" cy="835.7" r="2.0"/>
<circle cx="527.5" cy="835.7" r="2.0"/>
<circle cx="530.5" cy="835.7" r="2.0"/>
<circle cx="492.2" cy="835.8" r="2.0"/>
<circle cx="521.2" cy="835.8" r="2.0"/>
<circle cx="489.8" cy="835.8" r="2.0"/>
<circle cx="555.4" cy="835.9" r="2.0"/>
<circle cx="576.1" cy="835.9" r="2.0"/>
<circle cx="538.4" cy="836.0" r="2.0"/>
<circle cx="549.3" cy="836.0" r="2.0"/>
<circle cx="513.6" cy="836.1" r="2.0"/>
<circle cx="547.6" cy="836.1" r="2.0"/>
<circle cx="504.5" cy="836.1" r="2.0"/>
<circle cx="529.1" cy="836.1" r="2.0"/>
<circle cx="523.8" cy="836.1" r="2.0"/>
<circle cx="532.0" cy="836.1" r="2.0"/>
<circle cx="553.4" cy="836.2" r="2.0"/>
<circle cx="532.8" cy="836.2" r="2.0"/>
<circle cx="517.8" cy="836.3" r="2.0"/>
<circle cx="548.6" cy="836.4" r="2.0"/>
<circle cx="541.1" cy="836.4" r="2.0"/>
<circle cx="518.4" cy="836.5" r="2.0"/>
<circle cx="549.4" cy="836.6" r="2.0"/>
<circle cx="540.5" cy="836.6" r="2.0"/>
<circle cx="556.3" cy="836.6" r="2.0"/>
<circle cx="571.6" cy="836.6" r="2.0"/>
<circle cx="529.1" cy="836.6" r="2.0"/>
<circle cx="522.2" cy="836.8" r="2.0"/>
<circle cx="546.3" cy="837.0" r="2.0"/>
<circle cx="503.2" cy="837.0" r="2.0"/>
<circle cx="545.1" cy="837.0" r="2.0"/>
<circle cx="527.7" cy="837.1" r="2.0"/>
<circle cx="550.3" cy="837.1" r="2.0"/>
<circle cx="521.8" cy="837.2" r="2.0"/>
<circle cx="547.6" cy="837.4" r="2.0"/>
<circle cx="513.3" cy="837.4" r="2.0"/>
<circle cx="569.4" cy="837.4" r="2.0"/>
<circle cx="577.0" cy="837.5" r="2.0"/>
<circle cx="545.8" cy="837.5" r="2.0"/>
<circle cx="546.6" cy="837.5" r="2.0"/>
<circle cx="512.4" cy="837.5" r="2.0"/>
<circle cx="555.0" cy="837.5" r="2.0"/>
<circle cx="485.6" cy="837.5" r="2.0"/>
<circle cx="526.3" cy="837.5" r="2.0"/>
<circle cx="553.9" cy="837.5" r="2.0"/>
<circle cx="527.4" cy="837.6" r="2.0"/>
<circle cx="522.9" cy="837.6" r="2.0"/>
<circle cx="519.7" cy="837.6" r="2.0"/>
<circle cx="547.1" cy="837.6" r="2.0"/>
<circle cx="527.5" cy="837.7" r="2.0"/>
<circle cx="514.5" cy="837.7" r="2.0"/>
<circle cx="547.1" cy="837.8" r="2.0"/>
<circle cx="544.7" cy="837.8" r="2.0"/>
<circle cx="517.1" cy="837.8" r="2.0"/>
<circle cx="564.6" cy="837.9" r="2.0"/>
<circle cx="550.7" cy="837.9" r="2.0"/>
<circle cx="569.7" cy="837.9" r="2.0"/>
<circle cx="545.8" cy="837.9" r="2.0"/>
<circle cx="549.4" cy="838.0" r="2.0"/>
<circle cx="544.9" cy="838.0" r="2.0"/>
<circle cx="529.9" cy="838.0" r="2.0"/>
<circle cx="550.1" cy="838.0" r="2.0"/>
<circle cx="528.9" cy="838.0" r="2.0"/>
<circle cx="531.2" cy="838.1" r="2.0"/>
<circle cx="513.5" cy="838.1" r="2.0"/>
<circle cx="510.6" cy="838.2" r="2.0"/>
<circle cx="543.5" cy="838.2" r="2.0"/>
<circle cx="526.0" cy="838.3" r="2.0"/>
<circle cx="554.1" cy="838.3" r="2.0"/>
<circle cx="553.6" cy="838.3" r="2.0"/>
<circle cx="557.6" cy="838.3" r="2.0"/>
<circle cx="545.3" cy="838.4" r="2.0"/>
<circle cx="512.1" cy="838.5" r="2.0"/>
<circle cx="547.6" cy="838.5" r="2.0"/>
<circle cx="526.5" cy="838.5" r="2.0"/>
<circle cx="568.2" cy="838.6" r="2.0"/>
<circle cx="530.6" cy="838.6" r="2.0"/>
<circle cx="544.2" cy="838.6" r="2.0"/>
<circle cx="544.2" cy="838.6" r="2.0"/>
<circle cx="547.7" cy="838.7" r="2.0"/>
<circle cx="532.7" cy="838.7" r="2.0"/>
<circle cx="494.6" cy="838.7" r="2.0"/>
<circle cx="546.1" cy="838.7" r="2.0"/>
<circle cx="528.3" cy="838.7" r="2.0"/>
<circle cx="516.3" cy="838.7" r="2.0"/>
<circle cx="554.4" cy="838.7" r="2.0"/>
<circle cx="573.7" cy="838.8" r="2.0"/>
<circle cx="552.3" cy="838.9" r="2.0"/>
<circle cx="544.6" cy="838.9" r="2.0"/>
<circle cx="548.9" cy="839.0" r="2.0"/>
<circle cx="547.7" cy="839.0" r="2.0"/>
<circle cx="550.6" cy="839.0" r="2.0"/>
<circle cx="528.7" cy="839.2" r="2.0"/>
<circle cx="565.0" cy="839.2" r="2.0"/>
<circle cx="539.1" cy="839.2" r="2.0"/>
<circle cx="557.2" cy="839.3" r="2.0"/>
<circle cx="527.4" cy="839.3" r="2.0"/>
<circle cx="546.4" cy="839.3" r="2.0"/>
<circle cx="506.3" cy="839.4" r="2.0"/>
<circle cx="524.9" cy="839.4" r="2.0"/>
<circle cx="551.1" cy="839.4" r="2.0"/>
<circle cx="591.7" cy="839.5" r="2.0"/>
<circle cx="523.0" cy="839.5" r="2.0"/>
<circle cx="550.5" cy="839.5" r="2.0"/>
<circle cx="520.8" cy="839.5" r="2.0"/>
<circle cx="528.1" cy="839.5" r="2.0"/>
<circle cx="587.6" cy="839.6" r="1.9"/>
<circle cx="553.0" cy="839.7" r="1.9"/>
<circle cx="547.8" cy="839.7" r="1.9"/>
<circle cx="524.1" cy="839.7" r="1.9"/>
<circle cx="543.2" cy="839.7" r="1.9"/>
<circle cx="533.7" cy="839.9" r="1.9"/>
<circle cx="547.8" cy="840.0" r="1.9"/>
<circle cx="650.0" cy="840.0" r="1.9"/>
<circle cx="567.3" cy="840.0" r="1.9"/>
<circle cx="554.1" cy="840.0" r="1.9"/>
<circle cx="541.6" cy="840.0" r="1.9"/>
<circle cx="548.2" cy="840.0" r="1.9"/>
<circle cx="550.7" cy="840.1" r="1.9"/>
<circle cx="545.8" cy="840.2" r="1.9"/>
<circle cx="549.3" cy="840.2" r="1.9"/>
<circle cx="544.1" cy="840.2" r="1.9"/>
<circle cx="552.6" cy="840.3" r="1.9"/>
<circle cx="443.9" cy="840.3" r="1.9"/>
<circle cx="533.0" cy="840.4" r="1.9"/>
<circle cx="510.6" cy="840.4" r="1.9"/>
<circle cx="551.2" cy="840.4" r="1.9"/>
<circle cx="529.2" cy="840.4" r="1.9"/>
<circle cx="524.1" cy="840.4" r="1.9"/>
<circle cx="492.9" cy="840.4" r="1.9"/>
<circle cx="491.5" cy="840.5" r="1.9"/>
<circle cx="550.6" cy="840.6" r="1.9"/>
<circle cx="544.8" cy="840.6" r="1.9"/>
<circle cx="554.7" cy="840.6" r="1.9"/>
<circle cx="530.9" cy="840.7" r="1.9"/>
<circle cx="532.5" cy="840.7" r="1.9"/>
<circle cx="585.8" cy="840.8" r="1.9"/>
<circle cx="553.9" cy="840.8" r="1.9"/>
<circle cx="525.7" cy="840.9" r="1.9"/>
<circle cx="542.8" cy="840.9" r="1.9"/>
<circle cx="517.6" cy="840.9" r="1.9"/>
<circle cx="527.1" cy="840.9" r="1.9"/>
<circle cx="524.8" cy="840.9" r="1.9"/>
<circle cx="542.7" cy="841.0" r="1.9"/>
<circle cx="535.6" cy="841.1" r="1.9"/>
<circle cx="502.6" cy="841.3" r="1.9"/>
<circle cx="513.5" cy="841.3" r="1.9"/>
<circle cx="533.6" cy="841.3" r="1.9"/>
<circle cx="527.3" cy="841.4" r="1.9"/>
<circle cx="521.4" cy="841.4" r="1.9"/>
<circle cx="527.5" cy="841.5" r="1.9"/>
<circle cx="518.6" cy="841.6" r="1.9"/>
<circle cx="531.2" cy="841.6" r="1.9"/>
<circle cx="544.3" cy="841.6" r="1.9"/>
<circle cx="529.9" cy="841.7" r="1.9"/>
<circle cx="522.5" cy="841.8" r="1.9"/>
<circle cx="533.2" cy="841.8" r="1.9"/>
<circle cx="503.2" cy="841.8" r="1.9"/>
<circle cx="509.4" cy="841.9" r="1.9"/>
<circle cx="544.2" cy="841.9" r="1.9"/>
<circle cx="548.4" cy="842.0" r="1.9"/>
<circle cx="525.8" cy="842.0" r="1.9"/>
<circle cx="525.0" cy="842.0" r="1.9"/>
<circle cx="548.3" cy="842.1" r="1.9"/>
<circle cx="559.3" cy="842.2" r="1.9"/>
<circle cx="556.3" cy="842.2" r="1.9"/>
<circle cx="479.4" cy="842.2" r="1.9"/>
<circle cx="545.4" cy="842.3" r="1.9"/>
<circle cx="555.2" cy="842.4" r="1.9"/>
<circle cx="544.8" cy="842.5" r="1.9"/>
<circle cx="517.5" cy="842.5" r="1.9"/>
<circle cx="529.8" cy="842.6" r="1.9"/>
<circle cx="586.2" cy="842.6" r="1.9"/>
<circle cx="546.7" cy="842.7" r="1.9"/>
<circle cx="554.9" cy="842.7" r="1.9"/>
<circle cx="529.7" cy="842.8" r="1.9"/>
<circle cx="527.8" cy="842.8" r="1.9"/>
<circle cx="690.4" cy="842.8" r="1.9"/>
<circle cx="701.8" cy="842.8" r="1.9"/>
<circle cx="550.4" cy="842.9" r="1.9"/>
<circle cx="547.7" cy="842.9" r="1.9"/>
<circle cx="528.2" cy="842.9" r="1.9"/>
<circle cx="532.4" cy="843.0" r="1.9"/>
<circle cx="517.1" cy="843.0" r="1.9"/>
<circle cx="545.1" cy="843.1" r="1.9"/>
<circle cx="559.7" cy="843.1" r="1.9"/>
<circle cx="555.5" cy="843.2" r="1.9"/>
<circle cx="524.0" cy="843.2" r="1.9"/>
<circle cx="514.9" cy="843.3" r="1.9"/>
<circle cx="546.1" cy="843.3" r="1.9"/>
<circle cx="547.6" cy="843.3" r="1.9"/>
<circle cx="551.8" cy="843.3" r="1.9"/>
<circle cx="530.9" cy="843.3" r="1.9"/>
<circle cx="531.5" cy="843.5" r="1.9"/>
<circle cx="585.7" cy="843.5" r="1.9"/>
<circle cx="529.7" cy="843.6" r="1.9"/>
<circle cx="517.0" cy="843.6" r="1.9"/>
<circle cx="546.8" cy="843.6" r="1.9"/>
<circle cx="544.1" cy="843.7" r="1.9"/>
<circle cx="560.5" cy="843.7" r="1.9"/>
<circle cx="551.0" cy="843.7" r="1.9"/>
<circle cx="505.7" cy="843.7" r="1.9"/>
<circle cx="549.7" cy="843.7" r="1.9"/>
<circle cx="557.9" cy="843.8" r="1.9"/>
<circle cx="522.8" cy="843.8" r="1.9"/>
<circle cx="526.7" cy="843.8" r="1.9"/>
<circle cx="549.4" cy="843.8" r="1.9"/>
<circle cx="524.7" cy="843.8" r="1.9"/>
<circle cx="523.6" cy="843.9" r="1.9"/>
<circle cx="584.9" cy="843.9" r="1.9"/>
<circle cx="511.4" cy="843.9" r="1.9"/>
<circle cx="529.6" cy="843.9" r="1.9"/>
<circle cx="513.7" cy="843.9" r="1.9"/>
<circle cx="548.8" cy="844.0" r="1.9"/>
<circle cx="550.1" cy="844.0" r="1.9"/>
<circle cx="549.2" cy="844.1" r="1.8"/>
<circle cx="534.2" cy="844.1" r="1.8"/>
<circle cx="555.9" cy="844.1" r="1.8"/>
<circle cx="542.0" cy="844.1" r="1.8"/>
<circle cx="514.3" cy="844.1" r="1.8"/>
<circle cx="526.4" cy="844.1" r="1.8"/>
<circle cx="545.4" cy="844.2" r="1.8"/>
<circle cx="558.6" cy="844.2" r="1.8"/>
<circle cx="519.5" cy="844.2" r="1.8"/>
<circle cx="533.3" cy="844.3" r="1.8"/>
<circle cx="556.9" cy="844.3" r="1.8"/>
<circle cx="550.1" cy="844.3" r="1.8"/>
<circle cx="527.1" cy="844.4" r="1.8"/>
<circle cx="555.3" cy="844.4" r="1.8"/>
<circle cx="532.0" cy="844.4" r="1.8"/>
<circle cx="543.2" cy="844.4" r="1.8"/>
<circle cx="522.6" cy="844.5" r="1.8"/>
<circle cx="557.2" cy="844.5" r="1.8"/>
<circle cx="551.6" cy="844.6" r="1.8"/>
<circle cx="529.2" cy="844.6" r="1.8"/>
<circle cx="549.5" cy="844.6" r="1.8"/>
<circle cx="516.7" cy="844.7" r="1.8"/>
<circle cx="526.4" cy="844.7" r="1.8"/>
<circle cx="528.0" cy="844.7" r="1.8"/>
<circle cx="535.7" cy="844.7" r="1.8"/>
<circle cx="527.3" cy="844.8" r="1.8"/>
<circle cx="517.0" cy="844.8" r="1.8"/>
<circle cx="530.1" cy="844.8" r="1.8"/>
<circle cx="551.5" cy="844.9" r="1.8"/>
<circle cx="561.9" cy="845.0" r="1.8"/>
<circle cx="546.5" cy="845.2" r="1.8"/>
<circle cx="534.5" cy="845.2" r="1.8"/>
<circle cx="531.1" cy="845.3" r="1.8"/>
<circle cx="530.5" cy="845.3" r="1.8"/>
<circle cx="525.0" cy="845.4" r="1.8"/>
<circle cx="525.1" cy="845.4" r="1.8"/>
<circle cx="523.8" cy="845.5" r="1.8"/>
<circle cx="528.8" cy="845.5" r="1.8"/>
<circle cx="530.7" cy="845.6" r="1.8"/>
<circle cx="544.5" cy="845.6" r="1.8"/>
<circle cx="522.4" cy="845.6" r="1.8"/>
<circle cx="520.2" cy="845.6" r="1.8"/>
<circle cx="519.8" cy="845.6" r="1.8"/>
<circle cx="521.9" cy="845.7" r="1.8"/>
<circle cx="547.6" cy="845.7" r="1.8"/>
<circle cx="579.5" cy="845.7" r="1.8"/>
<circle cx="545.8" cy="845.8" r="1.8"/>
<circle cx="525.4" cy="845.8" r="1.8"/>
<circle cx="543.4" cy="845.9" r="1.8"/>
<circle cx="526.2" cy="845.9" r="1.8"/>
<circle cx="537.4" cy="845.9" r="1.8"/>
<circle cx="533.5" cy="845.9" r="1.8"/>
<circle cx="530.8" cy="845.9" r="1.8"/>
<circle cx="493.3" cy="846.0" r="1.8"/>
<circle cx="531.0" cy="846.0" r="1.8"/>
<circle cx="515.3" cy="846.0" r="1.8"/>
<circle cx="549.2" cy="846.0" r="1.8"/>
<circle cx="548.2" cy="846.1" r="1.8"/>
<circle cx="544.7" cy="846.1" r="1.8"/>
<circle cx="527.0" cy="846.1" r="1.8"/>
<circle cx="525.1" cy="846.2" r="1.8"/>
<circle cx="552.9" cy="846.2" r="1.8"/>
<circle cx="572.8" cy="846.2" r="1.8"/>
<circle cx="523.4" cy="846.3" r="1.8"/>
<circle cx="529.9" cy="846.3" r="1.8"/>
<circle cx="535.4" cy="846.4" r="1.8"/>
<circle cx="522.2" cy="846.4" r="1.8"/>
<circle cx="525.0" cy="846.4" r="1.8"/>
<circle cx="544.2" cy="846.5" r="1.8"/>
<circle cx="548.5" cy="846.5" r="1.8"/>
<circle cx="531.8" cy="846.5" r="1.8"/>
<circle cx="557.2" cy="846.6" r="1.8"/>
<circle cx="524.3" cy="846.6" r="1.8"/>
<circle cx="535.5" cy="846.6" r="1.8"/>
<circle cx="538.6" cy="846.6" r="1.8"/>
<circle cx="440.1" cy="846.6" r="1.8"/>
<circle cx="546.8" cy="846.6" r="1.8"/>
<circle cx="561.9" cy="846.6" r="1.8"/>
<circle cx="532.5" cy="846.7" r="1.8"/>
<circle cx="572.2" cy="846.7" r="1.8"/>
<circle cx="548.6" cy="846.7" r="1.8"/>
<circle cx="599.4" cy="846.7" r="1.8"/>
<circle cx="514.3" cy="846.7" r="1.8"/>
<circle cx="562.0" cy="846.7" r="1.8"/>
<circle cx="532.2" cy="846.8" r="1.8"/>
<circle cx="555.1" cy="846.9" r="1.8"/>
<circle cx="543.4" cy="846.9" r="1.8"/>
<circle cx="507.5" cy="846.9" r="1.8"/>
<circle cx="536.7" cy="847.0" r="1.8"/>
<circle cx="525.2" cy="847.0" r="1.8"/>
<circle cx="544.8" cy="847.0" r="1.8"/>
<circle cx="559.3" cy="847.0" r="1.8"/>
<circle cx="527.9" cy="847.1" r="1.8"/>
<circle cx="547.7" cy="847.2" r="1.8"/>
<circle cx="545.8" cy="847.2" r="1.8"/>
<circle cx="519.8" cy="847.2" r="1.8"/>
<circle cx="545.4" cy="847.3" r="1.8"/>
<circle cx="518.4" cy="847.3" r="1.8"/>
<circle cx="544.0" cy="847.3" r="1.8"/>
<circle cx="530.4" cy="847.3" r="1.8"/>
<circle cx="527.5" cy="847.4" r="1.8"/>
<circle cx="546.0" cy="847.4" r="1.8"/>
<circle cx="537.0" cy="847.5" r="1.8"/>
<circle cx="552.4" cy="847.5" r="1.8"/>
<circle cx="531.2" cy="847.5" r="1.8"/>
<circle cx="546.5" cy="847.6" r="1.8"/>
<circle cx="543.9" cy="847.6" r="1.8"/>
<circle cx="522.8" cy="847.6" r="1.8"/>
<circle cx="530.8" cy="847.7" r="1.8"/>
<circle cx="549.2" cy="847.7" r="1.8"/>
<circle cx="545.1" cy="847.7" r="1.8"/>
<circle cx="675.7" cy="847.7" r="1.8"/>
<circle cx="505.4" cy="847.7" r="1.8"/>
<circle cx="518.6" cy="847.7" r="1.8"/>
<circle cx="528.8" cy="847.7" r="1.8"/>
<circle cx="575.7" cy="847.8" r="1.8"/>
<circle cx="530.5" cy="847.8" r="1.8"/>
<circle cx="532.0" cy="847.8" r="1.8"/>
<circle cx="528.2" cy="847.9" r="1.8"/>
<circle cx="570.4" cy="847.9" r="1.8"/>
<circle cx="543.8" cy="847.9" r="1.8"/>
<circle cx="545.2" cy="847.9" r="1.8"/>
<circle cx="548.0" cy="847.9" r="1.8"/>
<circle cx="542.5" cy="848.0" r="1.8"/>
<circle cx="513.2" cy="848.0" r="1.8"/>
<circle cx="550.1" cy="848.0" r="1.8"/>
<circle cx="499.3" cy="848.0" r="1.8"/>
<circle cx="543.9" cy="848.0" r="1.8"/>
<circle cx="547.7" cy="848.1" r="1.8"/>
<circle cx="519.7" cy="848.2" r="1.8"/>
<circle cx="536.9" cy="848.2" r="1.8"/>
<circle cx="547.0" cy="848.3" r="1.8"/>
<circle cx="550.1" cy="848.3" r="1.8"/>
<circle cx="560.2" cy="848.4" r="1.7"/>
<circle cx="526.7" cy="848.4" r="1.7"/>
<circle cx="529.3" cy="848.5" r="1.7"/>
<circle cx="529.7" cy="848.5" r="1.7"/>
<circle cx="524.9" cy="848.5" r="1.7"/>
<circle cx="571.0" cy="848.6" r="1.7"/>
<circle cx="524.5" cy="848.6" r="1.7"/>
<circle cx="544.1" cy="848.6" r="1.7"/>
<circle cx="542.9" cy="848.7" r="1.7"/>
<circle cx="523.3" cy="848.7" r="1.7"/>
<circle cx="548.0" cy="848.7" r="1.7"/>
<circle cx="524.2" cy="848.7" r="1.7"/>
<circle cx="546.1" cy="848.8" r="1.7"/>
<circle cx="529.6" cy="848.8" r="1.7"/>
<circle cx="497.3" cy="848.8" r="1.7"/>
<circle cx="526.9" cy="848.9" r="1.7"/>
<circle cx="518.7" cy="848.9" r="1.7"/>
<circle cx="539.1" cy="848.9" r="1.7"/>
<circle cx="546.7" cy="848.9" r="1.7"/>
<circle cx="544.7" cy="849.0" r="1.7"/>
<circle cx="545.1" cy="849.0" r="1.7"/>
<circle cx="518.8" cy="849.0" r="1.7"/>
<circle cx="523.8" cy="849.0" r="1.7"/>
<circle cx="553.1" cy="849.0" r="1.7"/>
<circle cx="582.3" cy="849.0" r="1.7"/>
<circle cx="532.5" cy="849.1" r="1.7"/>
<circle cx="523.6" cy="849.1" r="1.7"/>
<circle cx="546.5" cy="849.1" r="1.7"/>
<circle cx="512.8" cy="849.1" r="1.7"/>
<circle cx="547.6" cy="849.2" r="1.7"/>
<circle cx="558.1" cy="849.3" r="1.7"/>
<circle cx="525.8" cy="849.3" r="1.7"/>
<circle cx="566.5" cy="849.3" r="1.7"/>
<circle cx="542.7" cy="849.4" r="1.7"/>
<circle cx="544.0" cy="849.4" r="1.7"/>
<circle cx="548.3" cy="849.5" r="1.7"/>
<circle cx="504.5" cy="849.5" r="1.7"/>
<circle cx="543.7" cy="849.5" r="1.7"/>
<circle cx="523.3" cy="849.5" r="1.7"/>
<circle cx="509.0" cy="849.6" r="1.7"/>
<circle cx="528.6" cy="849.6" r="1.7"/>
<circle cx="529.4" cy="849.6" r="1.7"/>
<circle cx="531.3" cy="849.6" r="1.7"/>
<circle cx="529.2" cy="849.6" r="1.7"/>
<circle cx="552.0" cy="849.7" r="1.7"/>
<circle cx="559.4" cy="849.7" r="1.7"/>
<circle cx="542.4" cy="849.7" r="1.7"/>
<circle cx="522.3" cy="849.7" r="1.7"/>
<circle cx="534.1" cy="849.8" r="1.7"/>
<circle cx="555.7" cy="849.9" r="1.7"/>
<circle cx="519.4" cy="849.9" r="1.7"/>
<circle cx="530.0" cy="849.9" r="1.7"/>
<circle cx="534.7" cy="849.9" r="1.7"/>
<circle cx="545.5" cy="849.9" r="1.7"/>
<circle cx="630.0" cy="850.0" r="1.7"/>
<circle cx="467.0" cy="850.0" r="1.7"/>
<circle cx="554.7" cy="850.1" r="1.7"/>
<circle cx="523.7" cy="850.1" r="1.7"/>
<circle cx="523.5" cy="850.1" r="1.7"/>
<circle cx="544.0" cy="850.1" r="1.7"/>
<circle cx="529.0" cy="850.1" r="1.7"/>
<circle cx="540.1" cy="850.2" r="1.7"/>
<circle cx="516.9" cy="850.2" r="1.7"/>
<circle cx="540.3" cy="850.2" r="1.7"/>
<circle cx="555.7" cy="850.2" r="1.7"/>
<circle cx="520.8" cy="850.2" r="1.7"/>
<circle cx="517.0" cy="850.2" r="1.7"/>
<circle cx="538.0" cy="850.3" r="1.7"/>
<circle cx="846.4" cy="850.3" r="1.7"/>
<circle cx="767.4" cy="850.3" r="1.7"/>
<circle cx="547.0" cy="850.4" r="1.7"/>
<circle cx="530.5" cy="850.4" r="1.7"/>
<circle cx="497.9" cy="850.5" r="1.7"/>
<circle cx="530.4" cy="850.5" r="1.7"/>
<circle cx="525.0" cy="850.5" r="1.7"/>
<circle cx="548.0" cy="850.5" r="1.7"/>
<circle cx="548.3" cy="850.6" r="1.7"/>
<circle cx="554.3" cy="850.7" r="1.7"/>
<circle cx="546.7" cy="850.7" r="1.7"/>
<circle cx="541.1" cy="850.7" r="1.7"/>
<circle cx="525.3" cy="850.7" r="1.7"/>
<circle cx="528.3" cy="850.8" r="1.7"/>
<circle cx="514.6" cy="850.8" r="1.7"/>
<circle cx="528.7" cy="850.8" r="1.7"/>
<circle cx="486.0" cy="850.8" r="1.7"/>
<circle cx="537.5" cy="850.8" r="1.7"/>
<circle cx="543.7" cy="850.9" r="1.7"/>
<circle cx="527.1" cy="850.9" r="1.7"/>
<circle cx="487.1" cy="850.9" r="1.7"/>
<circle cx="525.0" cy="851.0" r="1.7"/>
<circle cx="526.4" cy="851.0" r="1.7"/>
<circle cx="504.0" cy="851.0" r="1.7"/>
<circle cx="575.0" cy="851.0" r="1.7"/>
<circle cx="543.5" cy="851.0" r="1.7"/>
<circle cx="542.3" cy="851.1" r="1.7"/>
<circle cx="524.7" cy="851.1" r="1.7"/>
<circle cx="510.6" cy="851.1" r="1.7"/>
<circle cx="555.6" cy="851.2" r="1.7"/>
<circle cx="550.4" cy="851.2" r="1.7"/>
<circle cx="516.6" cy="851.2" r="1.7"/>
<circle cx="533.5" cy="851.3" r="1.7"/>
<circle cx="541.7" cy="851.3" r="1.7"/>
<circle cx="540.1" cy="851.4" r="1.7"/>
<circle cx="535.5" cy="851.4" r="1.7"/>
<circle cx="551.1" cy="851.4" r="1.7"/>
<circle cx="569.4" cy="851.4" r="1.7"/>
<circle cx="531.0" cy="851.5" r="1.7"/>
<circle cx="545.7" cy="851.5" r="1.7"/>
<circle cx="534.0" cy="851.5" r="1.7"/>
<circle cx="532.6" cy="851.5" r="1.7"/>
<circle cx="520.3" cy="851.6" r="1.7"/>
<circle cx="530.4" cy="851.6" r="1.7"/>
<circle cx="549.5" cy="851.6" r="1.7"/>
<circle cx="575.8" cy="851.6" r="1.7"/>
<circle cx="530.2" cy="851.7" r="1.7"/>
<circle cx="523.5" cy="851.7" r="1.7"/>
<circle cx="534.6" cy="851.7" r="1.7"/>
<circle cx="533.1" cy="851.7" r="1.7"/>
<circle cx="530.3" cy="851.7" r="1.7"/>
<circle cx="520.4" cy="851.7" r="1.7"/>
<circle cx="523.5" cy="851.7" r="1.7"/>
<circle cx="526.6" cy="851.8" r="1.7"/>
<circle cx="484.2" cy="851.8" r="1.7"/>
<circle cx="532.6" cy="851.9" r="1.7"/>
<circle cx="532.0" cy="851.9" r="1.7"/>
<circle cx="524.9" cy="852.0" r="1.7"/>
<circle cx="544.0" cy="852.0" r="1.7"/>
<circle cx="560.4" cy="852.0" r="1.7"/>
<circle cx="532.0" cy="852.0" r="1.7"/>
<circle cx="543.8" cy="852.0" r="1.7"/>
<circle cx="530.5" cy="852.0" r="1.7"/>
<circle cx="551.8" cy="852.0" r="1.7"/>
<circle cx="547.5" cy="852.0" r="1.7"/>
<circle cx="520.3" cy="852.1" r="1.7"/>
<circle cx="547.8" cy="852.1" r="1.7"/>
<circle cx="565.3" cy="852.1" r="1.7"/>
<circle cx="507.7" cy="852.1" r="1.7"/>
<circle cx="542.7" cy="852.2" r="1.7"/>
<circle cx="528.6" cy="852.2" r="1.7"/>
<circle cx="557.1" cy="852.2" r="1.7"/>
<circle cx="547.2" cy="852.2" r="1.7"/>
<circle cx="540.0" cy="852.3" r="1.7"/>
<circle cx="531.3" cy="852.3" r="1.6"/>
<circle cx="542.8" cy="852.3" r="1.6"/>
<circle cx="528.8" cy="852.3" r="1.6"/>
<circle cx="529.4" cy="852.3" r="1.6"/>
<circle cx="532.8" cy="852.3" r="1.6"/>
<circle cx="534.2" cy="852.4" r="1.6"/>
<circle cx="530.3" cy="852.4" r="1.6"/>
<circle cx="549.9" cy="852.4" r="1.6"/>
<circle cx="523.6" cy="852.4" r="1.6"/>
<circle cx="543.6" cy="852.4" r="1.6"/>
<circle cx="534.3" cy="852.4" r="1.6"/>
<circle cx="541.8" cy="852.5" r="1.6"/>
<circle cx="525.9" cy="852.5" r="1.6"/>
<circle cx="545.8" cy="852.5" r="1.6"/>
<circle cx="539.1" cy="852.5" r="1.6"/>
<circle cx="530.7" cy="852.6" r="1.6"/>
<circle cx="544.8" cy="852.6" r="1.6"/>
<circle cx="550.1" cy="852.6" r="1.6"/>
<circle cx="547.5" cy="852.7" r="1.6"/>
<circle cx="549.0" cy="852.8" r="1.6"/>
<circle cx="539.5" cy="852.8" r="1.6"/>
<circle cx="564.4" cy="852.9" r="1.6"/>
<circle cx="518.1" cy="853.0" r="1.6"/>
<circle cx="529.0" cy="853.1" r="1.6"/>
<circle cx="544.5" cy="853.1" r="1.6"/>
<circle cx="531.4" cy="853.1" r="1.6"/>
<circle cx="547.1" cy="853.1" r="1.6"/>
<circle cx="530.5" cy="853.2" r="1.6"/>
<circle cx="512.6" cy="853.2" r="1.6"/>
<circle cx="550.3" cy="853.2" r="1.6"/>
<circle cx="535.2" cy="853.3" r="1.6"/>
<circle cx="542.3" cy="853.4" r="1.6"/>
<circle cx="528.0" cy="853.4" r="1.6"/>
<circle cx="529.7" cy="853.4" r="1.6"/>
<circle cx="543.7" cy="853.4" r="1.6"/>
<circle cx="531.5" cy="853.4" r="1.6"/>
<circle cx="566.5" cy="853.5" r="1.6"/>
<circle cx="531.6" cy="853.5" r="1.6"/>
<circle cx="557.2" cy="853.6" r="1.6"/>
<circle cx="525.6" cy="853.6" r="1.6"/>
<circle cx="539.6" cy="853.6" r="1.6"/>
<circle cx="528.2" cy="853.7" r="1.6"/>
<circle cx="539.9" cy="853.8" r="1.6"/>
<circle cx="531.6" cy="853.9" r="1.6"/>
<circle cx="550.4" cy="853.9" r="1.6"/>
<circle cx="547.4" cy="853.9" r="1.6"/>
<circle cx="567.5" cy="854.0" r="1.6"/>
<circle cx="553.0" cy="854.0" r="1.6"/>
<circle cx="531.0" cy="854.0" r="1.6"/>
<circle cx="542.6" cy="854.0" r="1.6"/>
<circle cx="502.7" cy="854.0" r="1.6"/>
<circle cx="572.3" cy="854.1" r="1.6"/>
<circle cx="542.6" cy="854.2" r="1.6"/>
<circle cx="569.1" cy="854.2" r="1.6"/>
<circle cx="520.4" cy="854.2" r="1.6"/>
<circle cx="545.5" cy="854.2" r="1.6"/>
<circle cx="521.5" cy="854.2" r="1.6"/>
<circle cx="517.3" cy="854.3" r="1.6"/>
<circle cx="528.5" cy="854.3" r="1.6"/>
<circle cx="542.3" cy="854.3" r="1.6"/>
<circle cx="533.4" cy="854.3" r="1.6"/>
<circle cx="523.4" cy="854.4" r="1.6"/>
<circle cx="529.5" cy="854.4" r="1.6"/>
<circle cx="539.6" cy="854.5" r="1.6"/>
<circle cx="543.2" cy="854.5" r="1.6"/>
<circle cx="546.2" cy="854.5" r="1.6"/>
<circle cx="543.8" cy="854.5" r="1.6"/>
<circle cx="522.4" cy="854.5" r="1.6"/>
<circle cx="537.4" cy="854.6" r="1.6"/>
<circle cx="530.8" cy="854.6" r="1.6"/>
<circle cx="526.9" cy="854.6" r="1.6"/>
<circle cx="551.7" cy="854.6" r="1.6"/>
<circle cx="538.7" cy="854.6" r="1.6"/>
<circle cx="529.5" cy="854.6" r="1.6"/>
<circle cx="533.3" cy="854.6" r="1.6"/>
<circle cx="545.3" cy="854.7" r="1.6"/>
<circle cx="367.0" cy="854.7" r="1.6"/>
<circle cx="526.9" cy="854.7" r="1.6"/>
<circle cx="531.5" cy="854.7" r="1.6"/>
<circle cx="529.8" cy="854.7" r="1.6"/>
<circle cx="542.0" cy="854.7" r="1.6"/>
<circle cx="525.0" cy="854.7" r="1.6"/>
<circle cx="544.3" cy="854.7" r="1.6"/>
<circle cx="541.1" cy="854.8" r="1.6"/>
<circle cx="556.8" cy="854.8" r="1.6"/>
<circle cx="535.2" cy="854.8" r="1.6"/>
<circle cx="541.1" cy="854.8" r="1.6"/>
<circle cx="566.0" cy="854.8" r="1.6"/>
<circle cx="515.4" cy="854.9" r="1.6"/>
<circle cx="553.6" cy="854.9" r="1.6"/>
<circle cx="541.1" cy="854.9" r="1.6"/>
<circle cx="545.1" cy="854.9" r="1.6"/>
<circle cx="522.6" cy="854.9" r="1.6"/>
<circle cx="547.6" cy="855.0" r="1.6"/>
<circle cx="519.8" cy="855.0" r="1.6"/>
<circle cx="533.7" cy="855.0" r="1.6"/>
<circle cx="522.6" cy="855.0" r="1.6"/>
<circle cx="529.7" cy="855.0" r="1.6"/>
<circle cx="545.3" cy="855.0" r="1.6"/>
<circle cx="529.9" cy="855.0" r="1.6"/>
<circle cx="541.1" cy="855.0" r="1.6"/>
<circle cx="519.7" cy="855.1" r="1.6"/>
<circle cx="515.0" cy="855.1" r="1.6"/>
<circle cx="551.0" cy="855.1" r="1.6"/>
<circle cx="527.6" cy="855.1" r="1.6"/>
<circle cx="512.8" cy="855.1" r="1.6"/>
<circle cx="528.5" cy="855.1" r="1.6"/>
<circle cx="526.7" cy="855.2" r="1.6"/>
<circle cx="543.4" cy="855.2" r="1.6"/>
<circle cx="548.0" cy="855.2" r="1.6"/>
<circle cx="537.1" cy="855.2" r="1.6"/>
<circle cx="547.0" cy="855.2" r="1.6"/>
<circle cx="542.1" cy="855.3" r="1.6"/>
<circle cx="531.0" cy="855.3" r="1.6"/>
<circle cx="541.8" cy="855.3" r="1.6"/>
<circle cx="532.4" cy="855.3" r="1.6"/>
<circle cx="515.3" cy="855.4" r="1.6"/>
<circle cx="508.8" cy="855.4" r="1.6"/>
<circle cx="547.1" cy="855.4" r="1.6"/>
<circle cx="524.9" cy="855.5" r="1.6"/>
<circle cx="520.4" cy="855.5" r="1.6"/>
<circle cx="525.1" cy="855.6" r="1.6"/>
<circle cx="544.7" cy="855.6" r="1.6"/>
<circle cx="549.1" cy="855.6" r="1.6"/>
<circle cx="542.1" cy="855.7" r="1.6"/>
<circle cx="543.4" cy="855.7" r="1.6"/>
<circle cx="547.1" cy="855.7" r="1.6"/>
<circle cx="530.4" cy="855.7" r="1.6"/>
<circle cx="531.0" cy="855.8" r="1.6"/>
<circle cx="556.7" cy="855.8" r="1.6"/>
<circle cx="542.0" cy="855.8" r="1.6"/>
<circle cx="523.7" cy="855.8" r="1.6"/>
<circle cx="543.3" cy="855.9" r="1.6"/>
<circle cx="544.1" cy="855.9" r="1.6"/>
<circle cx="541.9" cy="855.9" r="1.6"/>
<circle cx="572.5" cy="855.9" r="1.6"/>
<circle cx="540.6" cy="855.9" r="1.6"/>
<circle cx="534.3" cy="856.0" r="1.6"/>
<circle cx="548.0" cy="856.1" r="1.5"/>
<circle cx="532.1" cy="856.1" r="1.5"/>
<circle cx="543.6" cy="856.1" r="1.5"/>
<circle cx="554.4" cy="856.2" r="1.5"/>
<circle cx="557.2" cy="856.2" r="1.5"/>
<circle cx="571.1" cy="856.2" r="1.5"/>
<circle cx="536.1" cy="856.2" r="1.5"/>
<circle cx="523.4" cy="856.2" r="1.5"/>
<circle cx="527.4" cy="856.2" r="1.5"/>
<circle cx="533.8" cy="856.2" r="1.5"/>
<circle cx="523.9" cy="856.2" r="1.5"/>
<circle cx="572.1" cy="856.2" r="1.5"/>
<circle cx="546.6" cy="856.2" r="1.5"/>
<circle cx="560.7" cy="856.2" r="1.5"/>
<circle cx="537.4" cy="856.3" r="1.5"/>
<circle cx="489.9" cy="856.3" r="1.5"/>
<circle cx="550.0" cy="856.4" r="1.5"/>
<circle cx="541.7" cy="856.4" r="1.5"/>
<circle cx="550.6" cy="856.4" r="1.5"/>
<circle cx="537.3" cy="856.4" r="1.5"/>
<circle cx="569.2" cy="856.4" r="1.5"/>
<circle cx="534.3" cy="856.5" r="1.5"/>
<circle cx="544.3" cy="856.5" r="1.5"/>
<circle cx="542.9" cy="856.5" r="1.5"/>
<circle cx="540.2" cy="856.5" r="1.5"/>
<circle cx="532.9" cy="856.6" r="1.5"/>
<circle cx="531.1" cy="856.6" r="1.5"/>
<circle cx="537.0" cy="856.7" r="1.5"/>
<circle cx="531.3" cy="856.7" r="1.5"/>
<circle cx="527.5" cy="856.7" r="1.5"/>
<circle cx="557.5" cy="856.7" r="1.5"/>
<circle cx="526.7" cy="856.7" r="1.5"/>
<circle cx="532.2" cy="856.7" r="1.5"/>
<circle cx="528.9" cy="856.7" r="1.5"/>
<circle cx="548.5" cy="856.7" r="1.5"/>
<circle cx="553.0" cy="856.8" r="1.5"/>
<circle cx="534.4" cy="856.8" r="1.5"/>
<circle cx="533.3" cy="856.8" r="1.5"/>
<circle cx="529.4" cy="856.9" r="1.5"/>
<circle cx="548.1" cy="856.9" r="1.5"/>
<circle cx="526.7" cy="857.0" r="1.5"/>
<circle cx="532.9" cy="857.0" r="1.5"/>
<circle cx="539.6" cy="857.0" r="1.5"/>
<circle cx="531.3" cy="857.0" r="1.5"/>
<circle cx="544.6" cy="857.0" r="1.5"/>
<circle cx="558.5" cy="857.1" r="1.5"/>
<circle cx="533.7" cy="857.1" r="1.5"/>
<circle cx="549.5" cy="857.1" r="1.5"/>
<circle cx="546.9" cy="857.1" r="1.5"/>
<circle cx="543.1" cy="857.2" r="1.5"/>
<circle cx="543.6" cy="857.2" r="1.5"/>
<circle cx="549.9" cy="857.2" r="1.5"/>
<circle cx="581.5" cy="857.2" r="1.5"/>
<circle cx="544.6" cy="857.3" r="1.5"/>
<circle cx="538.8" cy="857.3" r="1.5"/>
<circle cx="522.8" cy="857.3" r="1.5"/>
<circle cx="539.3" cy="857.3" r="1.5"/>
<circle cx="527.2" cy="857.4" r="1.5"/>
<circle cx="522.4" cy="857.4" r="1.5"/>
<circle cx="557.4" cy="857.4" r="1.5"/>
<circle cx="529.8" cy="857.4" r="1.5"/>
<circle cx="530.7" cy="857.4" r="1.5"/>
<circle cx="540.9" cy="857.4" r="1.5"/>
<circle cx="537.9" cy="857.5" r="1.5"/>
<circle cx="544.4" cy="857.5" r="1.5"/>
<circle cx="526.0" cy="857.5" r="1.5"/>
<circle cx="546.8" cy="857.5" r="1.5"/>
<circle cx="536.6" cy="857.5" r="1.5"/>
<circle cx="529.1" cy="857.5" r="1.5"/>
<circle cx="528.2" cy="857.5" r="1.5"/>
<circle cx="563.0" cy="857.5" r="1.5"/>
<circle cx="534.3" cy="857.7" r="1.5"/>
<circle cx="547.8" cy="857.7" r="1.5"/>
<circle cx="549.6" cy="857.7" r="1.5"/>
<circle cx="550.9" cy="857.7" r="1.5"/>
<circle cx="529.4" cy="857.7" r="1.5"/>
<circle cx="532.5" cy="857.8" r="1.5"/>
<circle cx="553.2" cy="857.8" r="1.5"/>
<circle cx="519.5" cy="857.8" r="1.5"/>
<circle cx="542.1" cy="857.8" r="1.5"/>
<circle cx="542.7" cy="857.8" r="1.5"/>
<circle cx="537.2" cy="857.8" r="1.5"/>
<circle cx="571.4" cy="857.8" r="1.5"/>
<circle cx="538.3" cy="857.9" r="1.5"/>
<circle cx="530.3" cy="857.9" r="1.5"/>
<circle cx="553.3" cy="857.9" r="1.5"/>
<circle cx="525.7" cy="857.9" r="1.5"/>
<circle cx="531.1" cy="857.9" r="1.5"/>
<circle cx="549.0" cy="857.9" r="1.5"/>
<circle cx="530.1" cy="857.9" r="1.5"/>
<circle cx="557.4" cy="858.0" r="1.5"/>
<circle cx="543.3" cy="858.0" r="1.5"/>
<circle cx="524.1" cy="858.0" r="1.5"/>
<circle cx="527.0" cy="858.0" r="1.5"/>
<circle cx="539.3" cy="858.0" r="1.5"/>
<circle cx="557.8" cy="858.0" r="1.5"/>
<circle cx="540.9" cy="858.0" r="1.5"/>
<circle cx="564.9" cy="858.1" r="1.5"/>
<circle cx="505.8" cy="858.1" r="1.5"/>
<circle cx="532.5" cy="858.1" r="1.5"/>
<circle cx="527.6" cy="858.2" r="1.5"/>
<circle cx="532.6" cy="858.2" r="1.5"/>
<circle cx="541.3" cy="858.2" r="1.5"/>
<circle cx="520.0" cy="858.2" r="1.5"/>
<circle cx="574.3" cy="858.3" r="1.5"/>
<circle cx="539.7" cy="858.3" r="1.5"/>
<circle cx="533.7" cy="858.3" r="1.5"/>
<circle cx="547.2" cy="858.3" r="1.5"/>
<circle cx="542.0" cy="858.3" r="1.5"/>
<circle cx="542.4" cy="858.3" r="1.5"/>
<circle cx="544.8" cy="858.3" r="1.5"/>
<circle cx="527.4" cy="858.3" r="1.5"/>
<circle cx="526.1" cy="858.4" r="1.5"/>
<circle cx="546.8" cy="858.4" r="1.5"/>
<circle cx="530.3" cy="858.4" r="1.5"/>
<circle cx="531.9" cy="858.4" r="1.5"/>
<circle cx="531.1" cy="858.5" r="1.5"/>
<circle cx="539.3" cy="858.5" r="1.5"/>
<circle cx="548.4" cy="858.6" r="1.5"/>
<circle cx="542.7" cy="858.7" r="1.5"/>
<circle cx="552.6" cy="858.7" r="1.5"/>
<circle cx="527.8" cy="858.7" r="1.5"/>
<circle cx="561.4" cy="858.8" r="1.5"/>
<circle cx="559.1" cy="858.8" r="1.5"/>
<circle cx="529.9" cy="858.9" r="1.5"/>
<circle cx="526.8" cy="858.9" r="1.5"/>
<circle cx="514.5" cy="859.0" r="1.5"/>
<circle cx="545.0" cy="859.0" r="1.5"/>
<circle cx="522.6" cy="859.0" r="1.5"/>
<circle cx="526.8" cy="859.0" r="1.5"/>
<circle cx="528.4" cy="859.0" r="1.5"/>
<circle cx="552.8" cy="859.1" r="1.5"/>
<circle cx="571.5" cy="859.1" r="1.5"/>
<circle cx="544.8" cy="859.1" r="1.5"/>
<circle cx="551.0" cy="859.1" r="1.5"/>
<circle cx="520.9" cy="859.1" r="1.5"/>
<circle cx="530.3" cy="859.1" r="1.5"/>
<circle cx="544.6" cy="859.1" r="1.5"/>
<circle cx="542.8" cy="859.2" r="1.5"/>
<circle cx="551.7" cy="859.2" r="1.5"/>
<circle cx="499.4" cy="859.2" r="1.5"/>
<circle cx="534.7" cy="859.2" r="1.5"/>
<circle cx="556.4" cy="859.3" r="1.5"/>
<circle cx="529.0" cy="859.3" r="1.5"/>
<circle cx="549.6" cy="859.4" r="1.5"/>
<circle cx="542.2" cy="859.4" r="1.5"/>
<circle cx="530.7" cy="859.4" r="1.5"/>
<circle cx="529.5" cy="859.4" r="1.5"/>
<circle cx="536.6" cy="859.4" r="1.5"/>
<circle cx="543.8" cy="859.4" r="1.5"/>
<circle cx="548.7" cy="859.4" r="1.5"/>
<circle cx="529.2" cy="859.5" r="1.5"/>
<circle cx="561.4" cy="859.5" r="1.5"/>
<circle cx="543.1" cy="859.5" r="1.5"/>
<circle cx="545.8" cy="859.5" r="1.5"/>
<circle cx="544.7" cy="859.5" r="1.5"/>
<circle cx="540.5" cy="859.5" r="1.5"/>
<circle cx="532.0" cy="859.5" r="1.5"/>
<circle cx="533.2" cy="859.6" r="1.4"/>
<circle cx="553.1" cy="859.6" r="1.4"/>
<circle cx="542.0" cy="859.6" r="1.4"/>
<circle cx="532.3" cy="859.7" r="1.4"/>
<circle cx="533.5" cy="859.7" r="1.4"/>
<circle cx="529.2" cy="859.7" r="1.4"/>
<circle cx="547.5" cy="859.7" r="1.4"/>
<circle cx="542.5" cy="859.8" r="1.4"/>
<circle cx="530.9" cy="859.8" r="1.4"/>
<circle cx="549.0" cy="859.8" r="1.4"/>
<circle cx="528.8" cy="859.8" r="1.4"/>
<circle cx="568.4" cy="859.8" r="1.4"/>
<circle cx="532.1" cy="859.9" r="1.4"/>
<circle cx="538.6" cy="859.9" r="1.4"/>
<circle cx="546.1" cy="859.9" r="1.4"/>
<circle cx="533.3" cy="860.0" r="1.4"/>
<circle cx="546.8" cy="860.0" r="1.4"/>
<circle cx="612.0" cy="860.0" r="1.4"/>
<circle cx="524.1" cy="860.0" r="1.4"/>
<circle cx="528.8" cy="860.0" r="1.4"/>
<circle cx="545.4" cy="860.1" r="1.4"/>
<circle cx="544.3" cy="860.1" r="1.4"/>
<circle cx="542.2" cy="860.1" r="1.4"/>
<circle cx="531.8" cy="860.2" r="1.4"/>
<circle cx="556.6" cy="860.2" r="1.4"/>
<circle cx="530.9" cy="860.2" r="1.4"/>
<circle cx="545.9" cy="860.3" r="1.4"/>
<circle cx="535.6" cy="860.3" r="1.4"/>
<circle cx="542.5" cy="860.3" r="1.4"/>
<circle cx="528.6" cy="860.4" r="1.4"/>
<circle cx="543.6" cy="860.4" r="1.4"/>
<circle cx="554.2" cy="860.4" r="1.4"/>
<circle cx="553.6" cy="860.5" r="1.4"/>
<circle cx="553.3" cy="860.5" r="1.4"/>
<circle cx="536.3" cy="860.5" r="1.4"/>
<circle cx="544.1" cy="860.5" r="1.4"/>
<circle cx="534.2" cy="860.5" r="1.4"/>
<circle cx="545.6" cy="860.6" r="1.4"/>
<circle cx="538.6" cy="860.6" r="1.4"/>
<circle cx="545.9" cy="860.6" r="1.4"/>
<circle cx="526.1" cy="860.7" r="1.4"/>
<circle cx="545.1" cy="860.7" r="1.4"/>
<circle cx="530.3" cy="860.7" r="1.4"/>
<circle cx="543.1" cy="860.7" r="1.4"/>
<circle cx="544.9" cy="860.7" r="1.4"/>
<circle cx="563.0" cy="860.7" r="1.4"/>
<circle cx="533.4" cy="860.7" r="1.4"/>
<circle cx="539.1" cy="860.8" r="1.4"/>
<circle cx="546.5" cy="860.8" r="1.4"/>
<circle cx="543.6" cy="860.9" r="1.4"/>
<circle cx="550.2" cy="860.9" r="1.4"/>
<circle cx="546.2" cy="860.9" r="1.4"/>
<circle cx="549.2" cy="861.0" r="1.4"/>
<circle cx="453.9" cy="861.0" r="1.4"/>
<circle cx="558.5" cy="861.0" r="1.4"/>
<circle cx="530.0" cy="861.1" r="1.4"/>
<circle cx="524.3" cy="861.1" r="1.4"/>
<circle cx="543.3" cy="861.1" r="1.4"/>
<circle cx="537.9" cy="861.2" r="1.4"/>
<circle cx="532.3" cy="861.2" r="1.4"/>
<circle cx="541.3" cy="861.2" r="1.4"/>
<circle cx="524.7" cy="861.2" r="1.4"/>
<circle cx="545.7" cy="861.3" r="1.4"/>
<circle cx="548.0" cy="861.3" r="1.4"/>
<circle cx="513.8" cy="861.3" r="1.4"/>
<circle cx="529.2" cy="861.4" r="1.4"/>
<circle cx="541.6" cy="861.4" r="1.4"/>
<circle cx="527.1" cy="861.4" r="1.4"/>
<circle cx="546.3" cy="861.4" r="1.4"/>
<circle cx="545.9" cy="861.4" r="1.4"/>
<circle cx="513.1" cy="861.5" r="1.4"/>
<circle cx="545.2" cy="861.5" r="1.4"/>
<circle cx="541.7" cy="861.5" r="1.4"/>
<circle cx="547.4" cy="861.5" r="1.4"/>
<circle cx="533.2" cy="861.5" r="1.4"/>
<circle cx="544.4" cy="861.6" r="1.4"/>
<circle cx="531.6" cy="861.7" r="1.4"/>
<circle cx="491.0" cy="861.7" r="1.4"/>
<circle cx="546.8" cy="861.8" r="1.4"/>
<circle cx="547.4" cy="861.8" r="1.4"/>
<circle cx="556.7" cy="861.8" r="1.4"/>
<circle cx="542.2" cy="861.8" r="1.4"/>
<circle cx="537.6" cy="861.8" r="1.4"/>
<circle cx="553.3" cy="861.9" r="1.4"/>
<circle cx="545.7" cy="861.9" r="1.4"/>
<circle cx="543.5" cy="861.9" r="1.4"/>
<circle cx="549.2" cy="861.9" r="1.4"/>
<circle cx="535.4" cy="861.9" r="1.4"/>
<circle cx="546.6" cy="861.9" r="1.4"/>
<circle cx="535.1" cy="862.0" r="1.4"/>
<circle cx="509.9" cy="862.0" r="1.4"/>
<circle cx="575.0" cy="862.0" r="1.4"/>
<circle cx="532.6" cy="862.0" r="1.4"/>
<circle cx="534.5" cy="862.0" r="1.4"/>
<circle cx="529.6" cy="862.0" r="1.4"/>
<circle cx="528.9" cy="862.1" r="1.4"/>
<circle cx="529.5" cy="862.1" r="1.4"/>
<circle cx="552.9" cy="862.1" r="1.4"/>
<circle cx="541.5" cy="862.2" r="1.4"/>
<circle cx="526.1" cy="862.2" r="1.4"/>
<circle cx="528.0" cy="862.2" r="1.4"/>
<circle cx="532.2" cy="862.2" r="1.4"/>
<circle cx="541.8" cy="862.2" r="1.4"/>
<circle cx="523.3" cy="862.3" r="1.4"/>
<circle cx="511.6" cy="862.3" r="1.4"/>
<circle cx="549.7" cy="862.3" r="1.4"/>
<circle cx="548.8" cy="862.3" r="1.4"/>
<circle cx="537.3" cy="862.3" r="1.4"/>
<circle cx="531.5" cy="862.3" r="1.4"/>
<circle cx="547.4" cy="862.4" r="1.4"/>
<circle cx="530.2" cy="862.4" r="1.4"/>
<circle cx="550.6" cy="862.4" r="1.4"/>
<circle cx="548.2" cy="862.5" r="1.4"/>
<circle cx="544.9" cy="862.5" r="1.4"/>
<circle cx="491.7" cy="862.5" r="1.4"/>
<circle cx="513.4" cy="862.6" r="1.4"/>
<circle cx="520.6" cy="862.6" r="1.4"/>
<circle cx="546.8" cy="862.6" r="1.4"/>
<circle cx="555.8" cy="862.6" r="1.4"/>
<circle cx="548.9" cy="862.7" r="1.4"/>
<circle cx="533.7" cy="862.7" r="1.4"/>
<circle cx="574.1" cy="862.7" r="1.4"/>
<circle cx="551.7" cy="862.7" r="1.4"/>
<circle cx="533.7" cy="862.7" r="1.4"/>
<circle cx="487.3" cy="862.8" r="1.4"/>
<circle cx="545.0" cy="862.8" r="1.4"/>
<circle cx="540.8" cy="862.8" r="1.4"/>
<circle cx="551.7" cy="862.8" r="1.3"/>
<circle cx="529.9" cy="862.8" r="1.3"/>
<circle cx="542.2" cy="862.8" r="1.3"/>
<circle cx="545.3" cy="862.9" r="1.3"/>
<circle cx="530.4" cy="862.9" r="1.3"/>
<circle cx="535.0" cy="862.9" r="1.3"/>
<circle cx="528.9" cy="863.0" r="1.3"/>
<circle cx="527.2" cy="863.0" r="1.3"/>
<circle cx="531.4" cy="863.0" r="1.3"/>
<circle cx="552.4" cy="863.0" r="1.3"/>
<circle cx="543.9" cy="863.0" r="1.3"/>
<circle cx="536.1" cy="863.0" r="1.3"/>
<circle cx="549.3" cy="863.0" r="1.3"/>
<circle cx="534.7" cy="863.0" r="1.3"/>
<circle cx="534.1" cy="863.0" r="1.3"/>
<circle cx="478.7" cy="863.0" r="1.3"/>
<circle cx="542.2" cy="863.0" r="1.3"/>
<circle cx="542.1" cy="863.1" r="1.3"/>
<circle cx="531.9" cy="863.1" r="1.3"/>
<circle cx="549.4" cy="863.1" r="1.3"/>
<circle cx="550.1" cy="863.1" r="1.3"/>
<circle cx="573.0" cy="863.1" r="1.3"/>
<circle cx="559.9" cy="863.1" r="1.3"/>
<circle cx="525.4" cy="863.1" r="1.3"/>
<circle cx="537.1" cy="863.1" r="1.3"/>
<circle cx="521.6" cy="863.1" r="1.3"/>
<circle cx="526.1" cy="863.1" r="1.3"/>
<circle cx="522.2" cy="863.1" r="1.3"/>
<circle cx="556.0" cy="863.1" r="1.3"/>
<circle cx="553.7" cy="863.2" r="1.3"/>
<circle cx="532.8" cy="863.2" r="1.3"/>
<circle cx="567.7" cy="863.2" r="1.3"/>
<circle cx="532.3" cy="863.2" r="1.3"/>
<circle cx="535.0" cy="863.3" r="1.3"/>
<circle cx="528.9" cy="863.3" r="1.3"/>
<circle cx="534.3" cy="863.3" r="1.3"/>
<circle cx="532.5" cy="863.4" r="1.3"/>
<circle cx="531.1" cy="863.4" r="1.3"/>
<circle cx="539.1" cy="863.4" r="1.3"/>
<circle cx="531.8" cy="863.5" r="1.3"/>
<circle cx="538.0" cy="863.5" r="1.3"/>
<circle cx="560.6" cy="863.5" r="1.3"/>
<circle cx="544.7" cy="863.5" r="1.3"/>
<circle cx="549.7" cy="863.6" r="1.3"/>
<circle cx="568.2" cy="863.6" r="1.3"/>
<circle cx="534.7" cy="863.6" r="1.3"/>
<circle cx="543.7" cy="863.6" r="1.3"/>
<circle cx="520.8" cy="863.6" r="1.3"/>
<circle cx="531.6" cy="863.7" r="1.3"/>
<circle cx="503.8" cy="863.7" r="1.3"/>
<circle cx="532.7" cy="863.7" r="1.3"/>
<circle cx="542.3" cy="863.7" r="1.3"/>
<circle cx="534.9" cy="863.7" r="1.3"/>
<circle cx="554.3" cy="863.8" r="1.3"/>
<circle cx="546.5" cy="863.8" r="1.3"/>
<circle cx="532.3" cy="863.8" r="1.3"/>
<circle cx="530.1" cy="863.8" r="1.3"/>
<circle cx="541.5" cy="863.8" r="1.3"/>
<circle cx="528.2" cy="863.8" r="1.3"/>
<circle cx="540.7" cy="863.8" r="1.3"/>
<circle cx="546.7" cy="863.8" r="1.3"/>
<circle cx="538.9" cy="863.8" r="1.3"/>
<circle cx="539.3" cy="863.8" r="1.3"/>
<circle cx="544.0" cy="863.9" r="1.3"/>
<circle cx="533.8" cy="863.9" r="1.3"/>
<circle cx="533.4" cy="864.0" r="1.3"/>
<circle cx="540.1" cy="864.0" r="1.3"/>
<circle cx="538.5" cy="864.0" r="1.3"/>
<circle cx="538.0" cy="864.1" r="1.3"/>
<circle cx="530.3" cy="864.1" r="1.3"/>
<circle cx="521.4" cy="864.1" r="1.3"/>
<circle cx="533.9" cy="864.1" r="1.3"/>
<circle cx="565.3" cy="864.1" r="1.3"/>
<circle cx="540.3" cy="864.2" r="1.3"/>
<circle cx="540.6" cy="864.2" r="1.3"/>
<circle cx="516.7" cy="864.2" r="1.3"/>
<circle cx="544.0" cy="864.2" r="1.3"/>
<circle cx="532.3" cy="864.2" r="1.3"/>
<circle cx="565.3" cy="864.2" r="1.3"/>
<circle cx="524.3" cy="864.2" r="1.3"/>
<circle cx="528.5" cy="864.3" r="1.3"/>
<circle cx="526.9" cy="864.3" r="1.3"/>
<circle cx="537.6" cy="864.3" r="1.3"/>
<circle cx="543.0" cy="864.3" r="1.3"/>
<circle cx="544.3" cy="864.3" r="1.3"/>
<circle cx="526.1" cy="864.3" r="1.3"/>
<circle cx="529.4" cy="864.4" r="1.3"/>
<circle cx="541.1" cy="864.4" r="1.3"/>
<circle cx="529.4" cy="864.4" r="1.3"/>
<circle cx="533.8" cy="864.4" r="1.3"/>
<circle cx="541.1" cy="864.4" r="1.3"/>
<circle cx="543.5" cy="864.4" r="1.3"/>
<circle cx="533.5" cy="864.5" r="1.3"/>
<circle cx="531.9" cy="864.5" r="1.3"/>
<circle cx="532.0" cy="864.5" r="1.3"/>
<circle cx="542.2" cy="864.5" r="1.3"/>
<circle cx="543.1" cy="864.5" r="1.3"/>
<circle cx="553.9" cy="864.5" r="1.3"/>
<circle cx="544.5" cy="864.5" r="1.3"/>
<circle cx="546.2" cy="864.5" r="1.3"/>
<circle cx="541.0" cy="864.5" r="1.3"/>
<circle cx="539.6" cy="864.5" r="1.3"/>
<circle cx="542.5" cy="864.5" r="1.3"/>
<circle cx="526.1" cy="864.6" r="1.3"/>
<circle cx="525.7" cy="864.6" r="1.3"/>
<circle cx="530.9" cy="864.6" r="1.3"/>
<circle cx="530.5" cy="864.6" r="1.3"/>
<circle cx="546.8" cy="864.6" r="1.3"/>
<circle cx="532.2" cy="864.6" r="1.3"/>
<circle cx="508.5" cy="864.6" r="1.3"/>
<circle cx="539.6" cy="864.6" r="1.3"/>
<circle cx="543.2" cy="864.6" r="1.3"/>
<circle cx="538.1" cy="864.7" r="1.3"/>
<circle cx="541.0" cy="864.7" r="1.3"/>
<circle cx="534.7" cy="864.7" r="1.3"/>
<circle cx="533.1" cy="864.7" r="1.3"/>
<circle cx="527.2" cy="864.8" r="1.3"/>
<circle cx="542.1" cy="864.8" r="1.3"/>
<circle cx="533.2" cy="864.8" r="1.3"/>
<circle cx="535.9" cy="864.9" r="1.3"/>
<circle cx="534.9" cy="864.9" r="1.3"/>
<circle cx="535.0" cy="864.9" r="1.3"/>
<circle cx="545.1" cy="864.9" r="1.3"/>
<circle cx="540.5" cy="864.9" r="1.3"/>
<circle cx="577.5" cy="864.9" r="1.3"/>
<circle cx="544.2" cy="864.9" r="1.3"/>
<circle cx="547.3" cy="864.9" r="1.3"/>
<circle cx="552.9" cy="864.9" r="1.3"/>
<circle cx="544.7" cy="865.0" r="1.3"/>
<circle cx="543.3" cy="865.0" r="1.3"/>
<circle cx="519.5" cy="865.0" r="1.3"/>
<circle cx="561.8" cy="865.0" r="1.3"/>
<circle cx="525.5" cy="865.1" r="1.3"/>
<circle cx="551.0" cy="865.1" r="1.3"/>
<circle cx="543.2" cy="865.1" r="1.3"/>
<circle cx="530.1" cy="865.1" r="1.3"/>
<circle cx="493.7" cy="865.1" r="1.3"/>
<circle cx="530.3" cy="865.2" r="1.3"/>
<circle cx="541.8" cy="865.2" r="1.3"/>
<circle cx="543.4" cy="865.2" r="1.3"/>
<circle cx="532.3" cy="865.2" r="1.3"/>
<circle cx="477.4" cy="865.2" r="1.3"/>
<circle cx="543.2" cy="865.2" r="1.3"/>
<circle cx="533.2" cy="865.3" r="1.3"/>
<circle cx="470.5" cy="865.3" r="1.3"/>
<circle cx="549.2" cy="865.3" r="1.3"/>
<circle cx="532.8" cy="865.3" r="1.3"/>
<circle cx="549.5" cy="865.4" r="1.3"/>
<circle cx="541.5" cy="865.4" r="1.3"/>
<circle cx="543.7" cy="865.4" r="1.3"/>
<circle cx="529.4" cy="865.4" r="1.3"/>
<circle cx="539.2" cy="865.4" r="1.3"/>
<circle cx="538.6" cy="865.5" r="1.3"/>
<circle cx="538.6" cy="865.5" r="1.3"/>
<circle cx="542.7" cy="865.5" r="1.3"/>
<circle cx="543.1" cy="865.5" r="1.3"/>
<circle cx="500.2" cy="865.5" r="1.3"/>
<circle cx="577.3" cy="865.5" r="1.3"/>
<circle cx="545.2" cy="865.5" r="1.3"/>
<circle cx="543.5" cy="865.5" r="1.3"/>
<circle cx="539.8" cy="865.5" r="1.3"/>
<circle cx="535.9" cy="865.5" r="1.3"/>
<circle cx="518.6" cy="865.5" r="1.3"/>
<circle cx="535.3" cy="865.6" r="1.3"/>
<circle cx="529.3" cy="865.6" r="1.3"/>
<circle cx="531.5" cy="865.6" r="1.3"/>
<circle cx="535.0" cy="865.6" r="1.3"/>
<circle cx="526.7" cy="865.6" r="1.3"/>
<circle cx="551.9" cy="865.6" r="1.3"/>
<circle cx="540.2" cy="865.6" r="1.3"/>
<circle cx="544.1" cy="865.7" r="1.3"/>
<circle cx="532.5" cy="865.7" r="1.3"/>
<circle cx="534.7" cy="865.7" r="1.3"/>
<circle cx="537.0" cy="865.7" r="1.3"/>
<circle cx="534.2" cy="865.7" r="1.3"/>
<circle cx="533.6" cy="865.7" r="1.3"/>
<circle cx="532.7" cy="865.7" r="1.3"/>
<circle cx="517.2" cy="865.7" r="1.3"/>
<circle cx="532.9" cy="865.8" r="1.3"/>
<circle cx="539.5" cy="865.8" r="1.3"/>
<circle cx="534.5" cy="865.8" r="1.3"/>
<circle cx="530.5" cy="865.9" r="1.3"/>
<circle cx="538.2" cy="865.9" r="1.2"/>
<circle cx="526.2" cy="865.9" r="1.2"/>
<circle cx="534.3" cy="865.9" r="1.2"/>
<circle cx="548.5" cy="865.9" r="1.2"/>
<circle cx="545.2" cy="865.9" r="1.2"/>
<circle cx="494.8" cy="866.0" r="1.2"/>
<circle cx="540.9" cy="866.0" r="1.2"/>
<circle cx="566.4" cy="866.0" r="1.2"/>
<circle cx="501.5" cy="866.0" r="1.2"/>
<circle cx="514.4" cy="866.0" r="1.2"/>
<circle cx="527.5" cy="866.0" r="1.2"/>
<circle cx="545.7" cy="866.0" r="1.2"/>
<circle cx="536.2" cy="866.0" r="1.2"/>
<circle cx="535.9" cy="866.1" r="1.2"/>
<circle cx="542.7" cy="866.1" r="1.2"/>
<circle cx="541.7" cy="866.1" r="1.2"/>
<circle cx="542.5" cy="866.1" r="1.2"/>
<circle cx="535.2" cy="866.2" r="1.2"/>
<circle cx="535.0" cy="866.2" r="1.2"/>
<circle cx="532.2" cy="866.2" r="1.2"/>
<circle cx="543.0" cy="866.2" r="1.2"/>
<circle cx="541.3" cy="866.2" r="1.2"/>
<circle cx="560.1" cy="866.2" r="1.2"/>
<circle cx="558.1" cy="866.2" r="1.2"/>
<circle cx="576.5" cy="866.3" r="1.2"/>
<circle cx="541.5" cy="866.3" r="1.2"/>
<circle cx="540.7" cy="866.3" r="1.2"/>
<circle cx="540.6" cy="866.3" r="1.2"/>
<circle cx="533.9" cy="866.3" r="1.2"/>
<circle cx="545.4" cy="866.4" r="1.2"/>
<circle cx="535.7" cy="866.4" r="1.2"/>
<circle cx="541.8" cy="866.4" r="1.2"/>
<circle cx="534.0" cy="866.4" r="1.2"/>
<circle cx="535.8" cy="866.4" r="1.2"/>
<circle cx="541.1" cy="866.5" r="1.2"/>
<circle cx="535.0" cy="866.5" r="1.2"/>
<circle cx="536.0" cy="866.5" r="1.2"/>
<circle cx="545.5" cy="866.5" r="1.2"/>
<circle cx="540.2" cy="866.5" r="1.2"/>
<circle cx="544.1" cy="866.5" r="1.2"/>
<circle cx="485.8" cy="866.5" r="1.2"/>
<circle cx="533.9" cy="866.5" r="1.2"/>
<circle cx="531.8" cy="866.6" r="1.2"/>
<circle cx="529.3" cy="866.6" r="1.2"/>
<circle cx="534.6" cy="866.6" r="1.2"/>
<circle cx="534.2" cy="866.6" r="1.2"/>
<circle cx="514.5" cy="866.6" r="1.2"/>
<circle cx="535.8" cy="866.6" r="1.2"/>
<circle cx="540.5" cy="866.6" r="1.2"/>
<circle cx="582.1" cy="866.7" r="1.2"/>
<circle cx="532.0" cy="866.7" r="1.2"/>
<circle cx="524.7" cy="866.7" r="1.2"/>
<circle cx="535.0" cy="866.7" r="1.2"/>
<circle cx="541.6" cy="866.7" r="1.2"/>
<circle cx="529.1" cy="866.7" r="1.2"/>
<circle cx="541.3" cy="866.8" r="1.2"/>
<circle cx="532.4" cy="866.8" r="1.2"/>
<circle cx="534.8" cy="866.8" r="1.2"/>
<circle cx="516.7" cy="866.9" r="1.2"/>
<circle cx="536.9" cy="866.9" r="1.2"/>
<circle cx="548.8" cy="866.9" r="1.2"/>
<circle cx="549.7" cy="866.9" r="1.2"/>
<circle cx="540.5" cy="866.9" r="1.2"/>
<circle cx="532.7" cy="866.9" r="1.2"/>
<circle cx="532.2" cy="866.9" r="1.2"/>
<circle cx="544.7" cy="867.0" r="1.2"/>
<circle cx="535.6" cy="867.0" r="1.2"/>
<circle cx="541.0" cy="867.0" r="1.2"/>
<circle cx="539.6" cy="867.0" r="1.2"/>
<circle cx="534.1" cy="867.1" r="1.2"/>
<circle cx="548.1" cy="867.1" r="1.2"/>
<circle cx="544.9" cy="867.1" r="1.2"/>
<circle cx="531.4" cy="867.1" r="1.2"/>
<circle cx="545.5" cy="867.1" r="1.2"/>
<circle cx="527.5" cy="867.1" r="1.2"/>
<circle cx="536.3" cy="867.1" r="1.2"/>
<circle cx="533.6" cy="867.2" r="1.2"/>
<circle cx="534.6" cy="867.2" r="1.2"/>
<circle cx="534.1" cy="867.2" r="1.2"/>
<circle cx="545.4" cy="867.2" r="1.2"/>
<circle cx="691.0" cy="867.2" r="1.2"/>
<circle cx="534.8" cy="867.2" r="1.2"/>
<circle cx="535.8" cy="867.2" r="1.2"/>
<circle cx="529.0" cy="867.2" r="1.2"/>
<circle cx="542.9" cy="867.2" r="1.2"/>
<circle cx="525.9" cy="867.2" r="1.2"/>
<circle cx="553.2" cy="867.3" r="1.2"/>
<circle cx="533.4" cy="867.3" r="1.2"/>
<circle cx="541.1" cy="867.3" r="1.2"/>
<circle cx="536.2" cy="867.3" r="1.2"/>
<circle cx="539.5" cy="867.3" r="1.2"/>
<circle cx="531.4" cy="867.4" r="1.2"/>
<circle cx="532.7" cy="867.4" r="1.2"/>
<circle cx="532.3" cy="867.4" r="1.2"/>
<circle cx="549.4" cy="867.4" r="1.2"/>
<circle cx="569.4" cy="867.4" r="1.2"/>
<circle cx="534.7" cy="867.4" r="1.2"/>
<circle cx="534.1" cy="867.5" r="1.2"/>
<circle cx="540.2" cy="867.5" r="1.2"/>
<circle cx="539.6" cy="867.5" r="1.2"/>
<circle cx="533.2" cy="867.5" r="1.2"/>
<circle cx="523.6" cy="867.5" r="1.2"/>
<circle cx="540.4" cy="867.5" r="1.2"/>
<circle cx="536.9" cy="867.6" r="1.2"/>
<circle cx="563.1" cy="867.6" r="1.2"/>
<circle cx="535.9" cy="867.6" r="1.2"/>
<circle cx="522.0" cy="867.6" r="1.2"/>
<circle cx="537.1" cy="867.6" r="1.2"/>
<circle cx="536.9" cy="867.7" r="1.2"/>
<circle cx="538.8" cy="867.7" r="1.2"/>
<circle cx="527.3" cy="867.7" r="1.2"/>
<circle cx="533.3" cy="867.7" r="1.2"/>
<circle cx="534.3" cy="867.7" r="1.2"/>
<circle cx="546.6" cy="867.7" r="1.2"/>
<circle cx="525.3" cy="867.7" r="1.2"/>
<circle cx="544.1" cy="867.7" r="1.2"/>
<circle cx="543.7" cy="867.7" r="1.2"/>
<circle cx="535.7" cy="867.7" r="1.2"/>
<circle cx="529.8" cy="867.8" r="1.2"/>
<circle cx="515.3" cy="867.8" r="1.2"/>
<circle cx="531.1" cy="867.8" r="1.2"/>
<circle cx="551.8" cy="867.8" r="1.2"/>
<circle cx="536.0" cy="867.8" r="1.2"/>
<circle cx="546.0" cy="867.8" r="1.2"/>
<circle cx="541.1" cy="867.8" r="1.2"/>
<circle cx="530.1" cy="867.8" r="1.2"/>
<circle cx="541.3" cy="867.8" r="1.2"/>
<circle cx="535.3" cy="867.9" r="1.2"/>
<circle cx="551.6" cy="867.9" r="1.2"/>
<circle cx="521.7" cy="867.9" r="1.2"/>
<circle cx="538.0" cy="867.9" r="1.2"/>
<circle cx="540.7" cy="867.9" r="1.2"/>
<circle cx="534.4" cy="867.9" r="1.2"/>
<circle cx="534.2" cy="867.9" r="1.2"/>
<circle cx="542.4" cy="868.0" r="1.2"/>
<circle cx="533.1" cy="868.0" r="1.2"/>
<circle cx="545.9" cy="868.0" r="1.2"/>
<circle cx="536.7" cy="868.0" r="1.2"/>
<circle cx="536.7" cy="868.0" r="1.2"/>
<circle cx="533.9" cy="868.0" r="1.2"/>
<circle cx="542.0" cy="868.0" r="1.2"/>
<circle cx="527.4" cy="868.1" r="1.2"/>
<circle cx="545.7" cy="868.1" r="1.2"/>
<circle cx="538.8" cy="868.1" r="1.2"/>
<circle cx="544.0" cy="868.1" r="1.2"/>
<circle cx="546.9" cy="868.1" r="1.2"/>
<circle cx="529.8" cy="868.2" r="1.2"/>
<circle cx="531.2" cy="868.2" r="1.2"/>
<circle cx="533.3" cy="868.2" r="1.2"/>
<circle cx="576.8" cy="868.2" r="1.2"/>
<circle cx="546.9" cy="868.2" r="1.2"/>
<circle cx="535.4" cy="868.2" r="1.2"/>
<circle cx="514.7" cy="868.2" r="1.2"/>
<circle cx="527.5" cy="868.3" r="1.2"/>
<circle cx="531.3" cy="868.3" r="1.2"/>
<circle cx="530.9" cy="868.3" r="1.2"/>
<circle cx="534.9" cy="868.3" r="1.2"/>
<circle cx="545.2" cy="868.3" r="1.2"/>
<circle cx="523.1" cy="868.3" r="1.2"/>
<circle cx="541.5" cy="868.3" r="1.2"/>
<circle cx="546.4" cy="868.3" r="1.2"/>
<circle cx="533.8" cy="868.4" r="1.2"/>
<circle cx="546.1" cy="868.4" r="1.2"/>
<circle cx="517.3" cy="868.4" r="1.2"/>
<circle cx="545.9" cy="868.4" r="1.2"/>
<circle cx="541.3" cy="868.4" r="1.2"/>
<circle cx="564.9" cy="868.4" r="1.2"/>
<circle cx="544.1" cy="868.4" r="1.2"/>
<circle cx="572.5" cy="868.4" r="1.2"/>
<circle cx="520.2" cy="868.4" r="1.2"/>
<circle cx="541.4" cy="868.5" r="1.2"/>
<circle cx="539.9" cy="868.5" r="1.2"/>
<circle cx="528.4" cy="868.5" r="1.2"/>
<circle cx="554.0" cy="868.5" r="1.2"/>
<circle cx="541.8" cy="868.5" r="1.2"/>
<circle cx="527.6" cy="868.5" r="1.2"/>
<circle cx="528.6" cy="868.6" r="1.2"/>
<circle cx="545.3" cy="868.6" r="1.2"/>
<circle cx="528.5" cy="868.6" r="1.2"/>
<circle cx="545.6" cy="868.6" r="1.2"/>
<circle cx="536.9" cy="868.7" r="1.2"/>
<circle cx="531.5" cy="868.7" r="1.1"/>
<circle cx="530.4" cy="868.7" r="1.1"/>
<circle cx="497.2" cy="868.7" r="1.1"/>
<circle cx="526.2" cy="868.8" r="1.1"/>
<circle cx="531.4" cy="868.8" r="1.1"/>
<circle cx="556.5" cy="868.8" r="1.1"/>
<circle cx="526.0" cy="868.8" r="1.1"/>
<circle cx="545.9" cy="868.8" r="1.1"/>
<circle cx="534.4" cy="868.8" r="1.1"/>
<circle cx="513.9" cy="868.9" r="1.1"/>
<circle cx="542.0" cy="868.9" r="1.1"/>
<circle cx="544.7" cy="868.9" r="1.1"/>
<circle cx="530.7" cy="868.9" r="1.1"/>
<circle cx="541.0" cy="868.9" r="1.1"/>
<circle cx="541.7" cy="868.9" r="1.1"/>
<circle cx="546.2" cy="868.9" r="1.1"/>
<circle cx="537.2" cy="868.9" r="1.1"/>
<circle cx="534.2" cy="868.9" r="1.1"/>
<circle cx="525.1" cy="868.9" r="1.1"/>
<circle cx="549.8" cy="868.9" r="1.1"/>
<circle cx="540.2" cy="868.9" r="1.1"/>
<circle cx="541.2" cy="869.0" r="1.1"/>
<circle cx="522.4" cy="869.0" r="1.1"/>
<circle cx="546.0" cy="869.0" r="1.1"/>
<circle cx="541.9" cy="869.0" r="1.1"/>
<circle cx="549.8" cy="869.0" r="1.1"/>
<circle cx="531.2" cy="869.0" r="1.1"/>
<circle cx="529.4" cy="869.0" r="1.1"/>
<circle cx="545.0" cy="869.0" r="1.1"/>
<circle cx="524.0" cy="869.1" r="1.1"/>
<circle cx="532.4" cy="869.1" r="1.1"/>
<circle cx="534.5" cy="869.1" r="1.1"/>
<circle cx="533.1" cy="869.1" r="1.1"/>
<circle cx="537.1" cy="869.1" r="1.1"/>
<circle cx="528.9" cy="869.1" r="1.1"/>
<circle cx="535.6" cy="869.1" r="1.1"/>
<circle cx="542.1" cy="869.1" r="1.1"/>
<circle cx="531.7" cy="869.2" r="1.1"/>
<circle cx="534.8" cy="869.2" r="1.1"/>
<circle cx="527.1" cy="869.2" r="1.1"/>
<circle cx="542.3" cy="869.2" r="1.1"/>
<circle cx="538.1" cy="869.2" r="1.1"/>
<circle cx="544.2" cy="869.2" r="1.1"/>
<circle cx="547.0" cy="869.3" r="1.1"/>
<circle cx="545.2" cy="869.3" r="1.1"/>
<circle cx="541.9" cy="869.3" r="1.1"/>
<circle cx="537.8" cy="869.4" r="1.1"/>
<circle cx="532.6" cy="869.4" r="1.1"/>
<circle cx="532.1" cy="869.4" r="1.1"/>
<circle cx="544.8" cy="869.4" r="1.1"/>
<circle cx="535.8" cy="869.4" r="1.1"/>
<circle cx="526.8" cy="869.4" r="1.1"/>
<circle cx="543.9" cy="869.4" r="1.1"/>
<circle cx="532.9" cy="869.4" r="1.1"/>
<circle cx="534.3" cy="869.4" r="1.1"/>
<circle cx="535.2" cy="869.4" r="1.1"/>
<circle cx="542.9" cy="869.4" r="1.1"/>
<circle cx="534.4" cy="869.4" r="1.1"/>
<circle cx="520.6" cy="869.4" r="1.1"/>
<circle cx="538.5" cy="869.5" r="1.1"/>
<circle cx="532.1" cy="869.5" r="1.1"/>
<circle cx="533.3" cy="869.5" r="1.1"/>
<circle cx="556.3" cy="869.5" r="1.1"/>
<circle cx="553.5" cy="869.5" r="1.1"/>
<circle cx="540.5" cy="869.5" r="1.1"/>
<circle cx="551.1" cy="869.5" r="1.1"/>
<circle cx="541.6" cy="869.6" r="1.1"/>
<circle cx="532.0" cy="869.6" r="1.1"/>
<circle cx="542.5" cy="869.6" r="1.1"/>
<circle cx="535.0" cy="869.6" r="1.1"/>
<circle cx="529.8" cy="869.6" r="1.1"/>
<circle cx="531.6" cy="869.6" r="1.1"/>
<circle cx="531.2" cy="869.6" r="1.1"/>
<circle cx="546.0" cy="869.7" r="1.1"/>
<circle cx="501.6" cy="869.7" r="1.1"/>
<circle cx="530.1" cy="869.7" r="1.1"/>
<circle cx="543.2" cy="869.7" r="1.1"/>
<circle cx="534.5" cy="869.7" r="1.1"/>
<circle cx="544.2" cy="869.7" r="1.1"/>
<circle cx="535.7" cy="869.7" r="1.1"/>
<circle cx="530.8" cy="869.7" r="1.1"/>
<circle cx="541.6" cy="869.7" r="1.1"/>
<circle cx="539.9" cy="869.7" r="1.1"/>
<circle cx="539.6" cy="869.8" r="1.1"/>
<circle cx="512.7" cy="869.8" r="1.1"/>
<circle cx="526.8" cy="869.8" r="1.1"/>
<circle cx="541.9" cy="869.8" r="1.1"/>
<circle cx="539.9" cy="869.8" r="1.1"/>
<circle cx="531.0" cy="869.8" r="1.1"/>
<circle cx="542.9" cy="869.8" r="1.1"/>
<circle cx="543.3" cy="869.9" r="1.1"/>
<circle cx="536.1" cy="869.9" r="1.1"/>
<circle cx="534.1" cy="869.9" r="1.1"/>
<circle cx="532.2" cy="869.9" r="1.1"/>
<circle cx="542.4" cy="869.9" r="1.1"/>
<circle cx="497.0" cy="869.9" r="1.1"/>
<circle cx="533.9" cy="869.9" r="1.1"/>
<circle cx="545.9" cy="869.9" r="1.1"/>
<circle cx="543.5" cy="869.9" r="1.1"/>
<circle cx="544.2" cy="869.9" r="1.1"/>
<circle cx="543.6" cy="869.9" r="1.1"/>
<circle cx="524.4" cy="870.0" r="1.1"/>
<circle cx="547.9" cy="870.0" r="1.1"/>
<circle cx="539.4" cy="870.0" r="1.1"/>
<circle cx="545.0" cy="870.0" r="1.1"/>
<circle cx="640.0" cy="870.0" r="1.1"/>
<circle cx="545.7" cy="870.0" r="1.1"/>
<circle cx="542.2" cy="870.0" r="1.1"/>
<circle cx="539.3" cy="870.1" r="1.1"/>
<circle cx="534.8" cy="870.1" r="1.1"/>
<circle cx="540.8" cy="870.1" r="1.1"/>
<circle cx="540.5" cy="870.1" r="1.1"/>
<circle cx="545.5" cy="870.1" r="1.1"/>
<circle cx="534.2" cy="870.1" r="1.1"/>
<circle cx="533.0" cy="870.2" r="1.1"/>
<circle cx="539.4" cy="870.2" r="1.1"/>
<circle cx="539.5" cy="870.2" r="1.1"/>
<circle cx="512.5" cy="870.2" r="1.1"/>
<circle cx="533.6" cy="870.3" r="1.1"/>
<circle cx="541.6" cy="870.3" r="1.1"/>
<circle cx="543.3" cy="870.3" r="1.1"/>
<circle cx="536.9" cy="870.3" r="1.1"/>
<circle cx="543.6" cy="870.3" r="1.1"/>
<circle cx="531.9" cy="870.4" r="1.1"/>
<circle cx="534.5" cy="870.4" r="1.1"/>
<circle cx="550.9" cy="870.4" r="1.1"/>
<circle cx="543.0" cy="870.4" r="1.1"/>
<circle cx="532.7" cy="870.5" r="1.1"/>
<circle cx="545.3" cy="870.5" r="1.1"/>
<circle cx="581.5" cy="870.5" r="1.1"/>
<circle cx="534.0" cy="870.5" r="1.1"/>
<circle cx="543.5" cy="870.5" r="1.1"/>
<circle cx="539.8" cy="870.5" r="1.1"/>
<circle cx="537.1" cy="870.6" r="1.1"/>
<circle cx="534.9" cy="870.6" r="1.1"/>
<circle cx="535.8" cy="870.6" r="1.1"/>
<circle cx="536.3" cy="870.6" r="1.1"/>
<circle cx="542.6" cy="870.6" r="1.1"/>
<circle cx="528.2" cy="870.6" r="1.1"/>
<circle cx="534.0" cy="870.6" r="1.1"/>
<circle cx="505.3" cy="870.6" r="1.1"/>
<circle cx="540.7" cy="870.6" r="1.1"/>
<circle cx="540.2" cy="870.6" r="1.1"/>
<circle cx="532.4" cy="870.6" r="1.1"/>
<circle cx="544.5" cy="870.7" r="1.1"/>
<circle cx="571.5" cy="870.7" r="1.1"/>
<circle cx="529.5" cy="870.7" r="1.1"/>
<circle cx="542.3" cy="870.7" r="1.1"/>
<circle cx="537.9" cy="870.7" r="1.1"/>
<circle cx="532.3" cy="870.7" r="1.1"/>
<circle cx="541.4" cy="870.7" r="1.1"/>
<circle cx="544.9" cy="870.7" r="1.1"/>
<circle cx="541.9" cy="870.7" r="1.1"/>
<circle cx="536.9" cy="870.7" r="1.1"/>
<circle cx="533.8" cy="870.8" r="1.1"/>
<circle cx="561.3" cy="870.8" r="1.1"/>
<circle cx="543.2" cy="870.8" r="1.1"/>
<circle cx="541.5" cy="870.8" r="1.1"/>
<circle cx="540.3" cy="870.8" r="1.1"/>
<circle cx="530.8" cy="870.8" r="1.1"/>
<circle cx="532.9" cy="870.9" r="1.1"/>
<circle cx="538.2" cy="870.9" r="1.1"/>
<circle cx="568.9" cy="870.9" r="1.1"/>
<circle cx="543.5" cy="870.9" r="1.1"/>
<circle cx="550.2" cy="870.9" r="1.1"/>
<circle cx="532.8" cy="870.9" r="1.1"/>
<circle cx="551.4" cy="870.9" r="1.1"/>
<circle cx="540.8" cy="870.9" r="1.1"/>
<circle cx="532.6" cy="871.0" r="1.1"/>
<circle cx="540.6" cy="871.0" r="1.1"/>
<circle cx="542.4" cy="871.0" r="1.1"/>
<circle cx="532.3" cy="871.0" r="1.1"/>
<circle cx="537.6" cy="871.0" r="1.1"/>
<circle cx="555.2" cy="871.1" r="1.1"/>
<circle cx="542.5" cy="871.1" r="1.1"/>
<circle cx="530.2" cy="871.1" r="1.1"/>
<circle cx="533.8" cy="871.1" r="1.1"/>
<circle cx="524.4" cy="871.1" r="1.1"/>
<circle cx="537.4" cy="871.1" r="1.1"/>
<circle cx="539.9" cy="871.1" r="1.1"/>
<circle cx="541.3" cy="871.1" r="1.1"/>
<circle cx="535.9" cy="871.1" r="1.1"/>
<circle cx="543.8" cy="871.1" r="1.1"/>
<circle cx="545.5" cy="871.1" r="1.1"/>
<circle cx="540.1" cy="871.1" r="1.1"/>
<circle cx="538.0" cy="871.1" r="1.1"/>
<circle cx="543.5" cy="871.2" r="1.1"/>
<circle cx="536.3" cy="871.2" r="1.1"/>
<circle cx="534.2" cy="871.2" r="1.1"/>
<circle cx="539.5" cy="871.2" r="1.1"/>
<circle cx="528.8" cy="871.2" r="1.1"/>
<circle cx="546.8" cy="871.2" r="1.1"/>
<circle cx="539.5" cy="871.2" r="1.1"/>
<circle cx="549.9" cy="871.2" r="1.1"/>
<circle cx="543.4" cy="871.2" r="1.1"/>
<circle cx="531.4" cy="871.3" r="1.1"/>
<circle cx="529.9" cy="871.3" r="1.1"/>
<circle cx="541.9" cy="871.3" r="1.0"/>
<circle cx="539.5" cy="871.3" r="1.0"/>
<circle cx="533.9" cy="871.3" r="1.0"/>
<circle cx="547.3" cy="871.4" r="1.0"/>
<circle cx="541.0" cy="871.4" r="1.0"/>
<circle cx="536.3" cy="871.4" r="1.0"/>
<circle cx="575.8" cy="871.4" r="1.0"/>
<circle cx="533.8" cy="871.4" r="1.0"/>
<circle cx="533.4" cy="871.4" r="1.0"/>
<circle cx="538.9" cy="871.4" r="1.0"/>
<circle cx="530.0" cy="871.4" r="1.0"/>
<circle cx="529.4" cy="871.4" r="1.0"/>
<circle cx="529.4" cy="871.4" r="1.0"/>
<circle cx="560.5" cy="871.5" r="1.0"/>
<circle cx="540.8" cy="871.5" r="1.0"/>
<circle cx="533.2" cy="871.5" r="1.0"/>
<circle cx="531.6" cy="871.5" r="1.0"/>
<circle cx="534.0" cy="871.5" r="1.0"/>
<circle cx="563.1" cy="871.5" r="1.0"/>
<circle cx="532.9" cy="871.5" r="1.0"/>
<circle cx="540.7" cy="871.5" r="1.0"/>
<circle cx="534.0" cy="871.5" r="1.0"/>
<circle cx="542.1" cy="871.6" r="1.0"/>
<circle cx="543.9" cy="871.6" r="1.0"/>
<circle cx="543.1" cy="871.6" r="1.0"/>
<circle cx="529.9" cy="871.6" r="1.0"/>
<circle cx="540.2" cy="871.6" r="1.0"/>
<circle cx="550.0" cy="871.6" r="1.0"/>
<circle cx="540.9" cy="871.7" r="1.0"/>
<circle cx="543.3" cy="871.7" r="1.0"/>
<circle cx="531.8" cy="871.7" r="1.0"/>
<circle cx="548.4" cy="871.7" r="1.0"/>
<circle cx="535.5" cy="871.7" r="1.0"/>
<circle cx="543.1" cy="871.7" r="1.0"/>
<circle cx="540.4" cy="871.7" r="1.0"/>
<circle cx="542.8" cy="871.7" r="1.0"/>
<circle cx="532.0" cy="871.8" r="1.0"/>
<circle cx="534.3" cy="871.8" r="1.0"/>
<circle cx="546.2" cy="871.8" r="1.0"/>
<circle cx="544.5" cy="871.8" r="1.0"/>
<circle cx="531.8" cy="871.9" r="1.0"/>
<circle cx="534.9" cy="871.9" r="1.0"/>
<circle cx="540.4" cy="871.9" r="1.0"/>
<circle cx="555.1" cy="871.9" r="1.0"/>
<circle cx="545.0" cy="871.9" r="1.0"/>
<circle cx="545.8" cy="871.9" r="1.0"/>
<circle cx="541.8" cy="871.9" r="1.0"/>
<circle cx="540.1" cy="871.9" r="1.0"/>
<circle cx="536.0" cy="871.9" r="1.0"/>
<circle cx="525.3" cy="871.9" r="1.0"/>
<circle cx="542.3" cy="871.9" r="1.0"/>
<circle cx="535.0" cy="871.9" r="1.0"/>
<circle cx="544.6" cy="872.0" r="1.0"/>
<circle cx="535.3" cy="872.0" r="1.0"/>
<circle cx="546.5" cy="872.0" r="1.0"/>
<circle cx="542.4" cy="872.0" r="1.0"/>
<circle cx="542.1" cy="872.0" r="1.0"/>
<circle cx="529.6" cy="872.0" r="1.0"/>
<circle cx="539.4" cy="872.0" r="1.0"/>
<circle cx="458.0" cy="872.0" r="1.0"/>
<circle cx="530.9" cy="872.0" r="1.0"/>
<circle cx="531.1" cy="872.0" r="1.0"/>
<circle cx="541.7" cy="872.0" r="1.0"/>
<circle cx="541.0" cy="872.0" r="1.0"/>
<circle cx="548.2" cy="872.1" r="1.0"/>
<circle cx="544.3" cy="872.1" r="1.0"/>
<circle cx="537.6" cy="872.1" r="1.0"/>
<circle cx="528.6" cy="872.1" r="1.0"/>
<circle cx="530.4" cy="872.1" r="1.0"/>
<circle cx="541.2" cy="872.1" r="1.0"/>
<circle cx="538.9" cy="872.1" r="1.0"/>
<circle cx="534.0" cy="872.1" r="1.0"/>
<circle cx="541.6" cy="872.2" r="1.0"/>
<circle cx="534.8" cy="872.2" r="1.0"/>
<circle cx="532.7" cy="872.2" r="1.0"/>
<circle cx="541.1" cy="872.2" r="1.0"/>
<circle cx="540.2" cy="872.2" r="1.0"/>
<circle cx="540.0" cy="872.2" r="1.0"/>
<circle cx="548.9" cy="872.2" r="1.0"/>
<circle cx="555.7" cy="872.3" r="1.0"/>
<circle cx="548.8" cy="872.3" r="1.0"/>
<circle cx="535.5" cy="872.3" r="1.0"/>
<circle cx="541.9" cy="872.3" r="1.0"/>
<circle cx="538.5" cy="872.3" r="1.0"/>
<circle cx="533.2" cy="872.3" r="1.0"/>
<circle cx="543.4" cy="872.3" r="1.0"/>
<circle cx="544.8" cy="872.3" r="1.0"/>
<circle cx="549.9" cy="872.3" r="1.0"/>
<circle cx="548.4" cy="872.3" r="1.0"/>
<circle cx="539.4" cy="872.4" r="1.0"/>
<circle cx="545.3" cy="872.4" r="1.0"/>
<circle cx="530.0" cy="872.4" r="1.0"/>
<circle cx="534.0" cy="872.4" r="1.0"/>
<circle cx="530.8" cy="872.4" r="1.0"/>
<circle cx="540.9" cy="872.4" r="1.0"/>
<circle cx="552.5" cy="872.4" r="1.0"/>
<circle cx="534.1" cy="872.4" r="1.0"/>
<circle cx="541.8" cy="872.4" r="1.0"/>
<circle cx="533.2" cy="872.5" r="1.0"/>
<circle cx="535.4" cy="872.5" r="1.0"/>
<circle cx="536.6" cy="872.5" r="1.0"/>
<circle cx="535.0" cy="872.5" r="1.0"/>
<circle cx="535.1" cy="872.5" r="1.0"/>
<circle cx="535.8" cy="872.5" r="1.0"/>
<circle cx="542.9" cy="872.5" r="1.0"/>
<circle cx="536.0" cy="872.5" r="1.0"/>
<circle cx="538.9" cy="872.6" r="1.0"/>
<circle cx="541.6" cy="872.6" r="1.0"/>
<circle cx="539.9" cy="872.6" r="1.0"/>
<circle cx="529.2" cy="872.6" r="1.0"/>
<circle cx="532.8" cy="872.6" r="1.0"/>
<circle cx="526.8" cy="872.6" r="1.0"/>
<circle cx="540.5" cy="872.6" r="1.0"/>
<circle cx="543.4" cy="872.6" r="1.0"/>
<circle cx="544.4" cy="872.6" r="1.0"/>
<circle cx="536.3" cy="872.6" r="1.0"/>
<circle cx="539.9" cy="872.6" r="1.0"/>
<circle cx="541.4" cy="872.7" r="1.0"/>
<circle cx="543.0" cy="872.7" r="1.0"/>
<circle cx="534.6" cy="872.7" r="1.0"/>
<circle cx="538.7" cy="872.7" r="1.0"/>
<circle cx="526.8" cy="872.7" r="1.0"/>
<circle cx="534.1" cy="872.7" r="1.0"/>
<circle cx="548.4" cy="872.7" r="1.0"/>
<circle cx="535.1" cy="872.7" r="1.0"/>
<circle cx="543.3" cy="872.8" r="1.0"/>
<circle cx="544.5" cy="872.8" r="1.0"/>
<circle cx="533.6" cy="872.8" r="1.0"/>
<circle cx="527.8" cy="872.8" r="1.0"/>
<circle cx="542.6" cy="872.8" r="1.0"/>
<circle cx="545.7" cy="872.8" r="1.0"/>
<circle cx="543.4" cy="872.8" r="1.0"/>
<circle cx="539.0" cy="872.8" r="1.0"/>
<circle cx="534.9" cy="872.8" r="1.0"/>
<circle cx="542.5" cy="872.9" r="1.0"/>
<circle cx="535.1" cy="872.9" r="1.0"/>
<circle cx="543.9" cy="872.9" r="1.0"/>
<circle cx="541.6" cy="872.9" r="1.0"/>
<circle cx="534.6" cy="872.9" r="1.0"/>
<circle cx="540.2" cy="872.9" r="1.0"/>
<circle cx="532.3" cy="872.9" r="1.0"/>
<circle cx="544.5" cy="872.9" r="1.0"/>
<circle cx="536.3" cy="872.9" r="1.0"/>
<circle cx="544.8" cy="872.9" r="1.0"/>
<circle cx="540.8" cy="872.9" r="1.0"/>
<circle cx="540.2" cy="872.9" r="1.0"/>
<circle cx="539.7" cy="872.9" r="1.0"/>
<circle cx="535.7" cy="873.0" r="1.0"/>
<circle cx="542.0" cy="873.0" r="1.0"/>
<circle cx="526.0" cy="873.0" r="1.0"/>
<circle cx="548.3" cy="873.1" r="1.0"/>
<circle cx="546.0" cy="873.1" r="1.0"/>
<circle cx="533.2" cy="873.1" r="1.0"/>
<circle cx="533.4" cy="873.1" r="1.0"/>
<circle cx="536.0" cy="873.1" r="1.0"/>
<circle cx="535.5" cy="873.2" r="1.0"/>
<circle cx="538.9" cy="873.2" r="1.0"/>
<circle cx="539.9" cy="873.2" r="1.0"/>
<circle cx="536.7" cy="873.2" r="1.0"/>
<circle cx="544.6" cy="873.2" r="1.0"/>
<circle cx="540.3" cy="873.2" r="1.0"/>
<circle cx="541.2" cy="873.3" r="1.0"/>
<circle cx="537.7" cy="873.3" r="1.0"/>
<circle cx="538.9" cy="873.3" r="1.0"/>
<circle cx="533.4" cy="873.3" r="1.0"/>
<circle cx="527.2" cy="873.3" r="1.0"/>
<circle cx="535.8" cy="873.3" r="1.0"/>
<circle cx="537.6" cy="873.3" r="1.0"/>
<circle cx="525.4" cy="873.3" r="1.0"/>
<circle cx="536.2" cy="873.3" r="1.0"/>
<circle cx="535.6" cy="873.3" r="1.0"/>
<circle cx="535.2" cy="873.3" r="1.0"/>
<circle cx="541.3" cy="873.3" r="1.0"/>
<circle cx="533.3" cy="873.3" r="1.0"/>
<circle cx="535.5" cy="873.4" r="1.0"/>
<circle cx="531.1" cy="873.4" r="1.0"/>
<circle cx="533.8" cy="873.4" r="1.0"/>
<circle cx="546.9" cy="873.4" r="1.0"/>
<circle cx="543.8" cy="873.4" r="1.0"/>
<circle cx="539.6" cy="873.4" r="1.0"/>
<circle cx="540.3" cy="873.4" r="1.0"/>
<circle cx="527.3" cy="873.4" r="1.0"/>
<circle cx="540.8" cy="873.4" r="1.0"/>
<circle cx="536.9" cy="873.4" r="1.0"/>
<circle cx="529.8" cy="873.4" r="1.0"/>
<circle cx="531.2" cy="873.5" r="1.0"/>
<circle cx="530.7" cy="873.5" r="1.0"/>
<circle cx="533.4" cy="873.5" r="1.0"/>
<circle cx="528.8" cy="873.5" r="1.0"/>
<circle cx="541.4" cy="873.5" r="1.0"/>
<circle cx="528.6" cy="873.5" r="1.0"/>
<circle cx="534.6" cy="873.5" r="1.0"/>
<circle cx="533.6" cy="873.5" r="1.0"/>
<circle cx="541.6" cy="873.6" r="1.0"/>
<circle cx="533.4" cy="873.6" r="1.0"/>
<circle cx="508.5" cy="873.6" r="1.0"/>
<circle cx="547.2" cy="873.6" r="1.0"/>
<circle cx="536.2" cy="873.6" r="1.0"/>
<circle cx="555.7" cy="873.6" r="1.0"/>
<circle cx="543.7" cy="873.6" r="0.9"/>
<circle cx="534.8" cy="873.6" r="0.9"/>
<circle cx="534.9" cy="873.6" r="0.9"/>
<circle cx="537.9" cy="873.6" r="0.9"/>
<circle cx="539.6" cy="873.6" r="0.9"/>
<circle cx="546.3" cy="873.6" r="0.9"/>
<circle cx="554.9" cy="873.6" r="0.9"/>
<circle cx="536.2" cy="873.7" r="0.9"/>
<circle cx="533.5" cy="873.7" r="0.9"/>
<circle cx="534.0" cy="873.7" r="0.9"/>
<circle cx="545.5" cy="873.7" r="0.9"/>
<circle cx="533.8" cy="873.7" r="0.9"/>
<circle cx="537.4" cy="873.7" r="0.9"/>
<circle cx="543.2" cy="873.7" r="0.9"/>
<circle cx="530.1" cy="873.7" r="0.9"/>
<circle cx="537.1" cy="873.7" r="0.9"/>
<circle cx="496.3" cy="873.7" r="0.9"/>
<circle cx="544.8" cy="873.7" r="0.9"/>
<circle cx="539.4" cy="873.7" r="0.9"/>
<circle cx="534.2" cy="873.8" r="0.9"/>
<circle cx="547.5" cy="873.8" r="0.9"/>
<circle cx="542.2" cy="873.8" r="0.9"/>
<circle cx="535.4" cy="873.8" r="0.9"/>
<circle cx="539.4" cy="873.8" r="0.9"/>
<circle cx="544.7" cy="873.8" r="0.9"/>
<circle cx="541.7" cy="873.8" r="0.9"/>
<circle cx="540.4" cy="873.8" r="0.9"/>
<circle cx="521.3" cy="873.8" r="0.9"/>
<circle cx="534.0" cy="873.8" r="0.9"/>
<circle cx="534.8" cy="873.9" r="0.9"/>
<circle cx="527.3" cy="873.9" r="0.9"/>
<circle cx="566.5" cy="873.9" r="0.9"/>
<circle cx="532.8" cy="873.9" r="0.9"/>
<circle cx="527.5" cy="873.9" r="0.9"/>
<circle cx="536.0" cy="873.9" r="0.9"/>
<circle cx="546.7" cy="873.9" r="0.9"/>
<circle cx="541.5" cy="873.9" r="0.9"/>
<circle cx="518.1" cy="873.9" r="0.9"/>
<circle cx="533.4" cy="873.9" r="0.9"/>
<circle cx="528.3" cy="873.9" r="0.9"/>
<circle cx="537.2" cy="874.0" r="0.9"/>
<circle cx="541.7" cy="874.0" r="0.9"/>
<circle cx="540.7" cy="874.0" r="0.9"/>
<circle cx="539.7" cy="874.0" r="0.9"/>
<circle cx="528.8" cy="874.0" r="0.9"/>
<circle cx="539.8" cy="874.0" r="0.9"/>
<circle cx="547.4" cy="874.0" r="0.9"/>
<circle cx="531.7" cy="874.1" r="0.9"/>
<circle cx="544.1" cy="874.1" r="0.9"/>
<circle cx="532.6" cy="874.1" r="0.9"/>
<circle cx="538.6" cy="874.1" r="0.9"/>
<circle cx="530.0" cy="874.1" r="0.9"/>
<circle cx="524.4" cy="874.1" r="0.9"/>
<circle cx="523.5" cy="874.1" r="0.9"/>
<circle cx="537.4" cy="874.1" r="0.9"/>
<circle cx="538.2" cy="874.1" r="0.9"/>
<circle cx="540.9" cy="874.1" r="0.9"/>
<circle cx="535.0" cy="874.1" r="0.9"/>
<circle cx="531.0" cy="874.1" r="0.9"/>
<circle cx="541.3" cy="874.1" r="0.9"/>
<circle cx="525.7" cy="874.2" r="0.9"/>
<circle cx="533.9" cy="874.2" r="0.9"/>
<circle cx="536.0" cy="874.2" r="0.9"/>
<circle cx="548.1" cy="874.2" r="0.9"/>
<circle cx="539.2" cy="874.2" r="0.9"/>
<circle cx="542.3" cy="874.2" r="0.9"/>
<circle cx="533.0" cy="874.3" r="0.9"/>
<circle cx="540.1" cy="874.3" r="0.9"/>
<circle cx="535.2" cy="874.3" r="0.9"/>
<circle cx="540.6" cy="874.3" r="0.9"/>
<circle cx="540.2" cy="874.3" r="0.9"/>
<circle cx="534.6" cy="874.3" r="0.9"/>
<circle cx="539.9" cy="874.3" r="0.9"/>
<circle cx="535.7" cy="874.3" r="0.9"/>
<circle cx="552.1" cy="874.3" r="0.9"/>
<circle cx="541.3" cy="874.3" r="0.9"/>
<circle cx="534.4" cy="874.3" r="0.9"/>
<circle cx="536.8" cy="874.3" r="0.9"/>
<circle cx="534.6" cy="874.3" r="0.9"/>
<circle cx="540.8" cy="874.3" r="0.9"/>
<circle cx="535.5" cy="874.3" r="0.9"/>
<circle cx="525.5" cy="874.4" r="0.9"/>
<circle cx="538.7" cy="874.4" r="0.9"/>
<circle cx="534.9" cy="874.4" r="0.9"/>
<circle cx="554.1" cy="874.4" r="0.9"/>
<circle cx="549.4" cy="874.4" r="0.9"/>
<circle cx="546.2" cy="874.4" r="0.9"/>
<circle cx="533.7" cy="874.4" r="0.9"/>
<circle cx="540.6" cy="874.4" r="0.9"/>
<circle cx="543.7" cy="874.4" r="0.9"/>
<circle cx="533.9" cy="874.4" r="0.9"/>
<circle cx="535.1" cy="874.4" r="0.9"/>
<circle cx="539.7" cy="874.5" r="0.9"/>
<circle cx="531.2" cy="874.5" r="0.9"/>
<circle cx="539.7" cy="874.5" r="0.9"/>
<circle cx="540.9" cy="874.5" r="0.9"/>
<circle cx="539.9" cy="874.5" r="0.9"/>
<circle cx="545.4" cy="874.5" r="0.9"/>
<circle cx="541.0" cy="874.5" r="0.9"/>
<circle cx="551.4" cy="874.5" r="0.9"/>
<circle cx="540.8" cy="874.5" r="0.9"/>
<circle cx="553.5" cy="874.5" r="0.9"/>
<circle cx="540.1" cy="874.5" r="0.9"/>
<circle cx="530.0" cy="874.6" r="0.9"/>
<circle cx="543.0" cy="874.6" r="0.9"/>
<circle cx="534.1" cy="874.6" r="0.9"/>
<circle cx="528.6" cy="874.6" r="0.9"/>
<circle cx="523.5" cy="874.6" r="0.9"/>
<circle cx="534.6" cy="874.6" r="0.9"/>
<circle cx="523.4" cy="874.6" r="0.9"/>
<circle cx="533.5" cy="874.6" r="0.9"/>
<circle cx="537.7" cy="874.6" r="0.9"/>
<circle cx="542.0" cy="874.6" r="0.9"/>
<circle cx="540.5" cy="874.6" r="0.9"/>
<circle cx="542.9" cy="874.6" r="0.9"/>
<circle cx="535.3" cy="874.6" r="0.9"/>
<circle cx="537.1" cy="874.6" r="0.9"/>
<circle cx="540.1" cy="874.7" r="0.9"/>
<circle cx="535.9" cy="874.7" r="0.9"/>
<circle cx="549.5" cy="874.7" r="0.9"/>
<circle cx="561.0" cy="874.8" r="0.9"/>
<circle cx="539.9" cy="874.8" r="0.9"/>
<circle cx="544.2" cy="874.8" r="0.9"/>
<circle cx="544.0" cy="874.8" r="0.9"/>
<circle cx="540.6" cy="874.8" r="0.9"/>
<circle cx="542.3" cy="874.8" r="0.9"/>
<circle cx="532.7" cy="874.8" r="0.9"/>
<circle cx="536.6" cy="874.8" r="0.9"/>
<circle cx="529.7" cy="874.9" r="0.9"/>
<circle cx="532.0" cy="874.9" r="0.9"/>
<circle cx="539.2" cy="874.9" r="0.9"/>
<circle cx="534.4" cy="874.9" r="0.9"/>
<circle cx="549.6" cy="874.9" r="0.9"/>
<circle cx="534.9" cy="874.9" r="0.9"/>
<circle cx="540.4" cy="874.9" r="0.9"/>
<circle cx="549.6" cy="874.9" r="0.9"/>
<circle cx="529.7" cy="874.9" r="0.9"/>
<circle cx="529.9" cy="874.9" r="0.9"/>
<circle cx="522.0" cy="874.9" r="0.9"/>
<circle cx="532.3" cy="875.0" r="0.9"/>
<circle cx="539.3" cy="875.0" r="0.9"/>
<circle cx="536.7" cy="875.0" r="0.9"/>
<circle cx="535.1" cy="875.0" r="0.9"/>
<circle cx="538.0" cy="875.0" r="0.9"/>
<circle cx="541.0" cy="875.0" r="0.9"/>
<circle cx="533.3" cy="875.0" r="0.9"/>
<circle cx="534.7" cy="875.0" r="0.9"/>
<circle cx="536.6" cy="875.0" r="0.9"/>
<circle cx="534.8" cy="875.0" r="0.9"/>
<circle cx="538.6" cy="875.0" r="0.9"/>
<circle cx="535.6" cy="875.0" r="0.9"/>
<circle cx="533.8" cy="875.0" r="0.9"/>
<circle cx="540.1" cy="875.0" r="0.9"/>
<circle cx="563.9" cy="875.0" r="0.9"/>
<circle cx="541.3" cy="875.0" r="0.9"/>
<circle cx="538.7" cy="875.0" r="0.9"/>
<circle cx="537.2" cy="875.1" r="0.9"/>
<circle cx="546.1" cy="875.1" r="0.9"/>
<circle cx="537.9" cy="875.1" r="0.9"/>
<circle cx="538.9" cy="875.1" r="0.9"/>
<circle cx="557.0" cy="875.1" r="0.9"/>
<circle cx="544.8" cy="875.1" r="0.9"/>
<circle cx="534.7" cy="875.1" r="0.9"/>
<circle cx="532.2" cy="875.1" r="0.9"/>
<circle cx="540.6" cy="875.1" r="0.9"/>
<circle cx="537.9" cy="875.1" r="0.9"/>
<circle cx="540.1" cy="875.1" r="0.9"/>
<circle cx="534.9" cy="875.1" r="0.9"/>
<circle cx="516.0" cy="875.1" r="0.9"/>
<circle cx="539.6" cy="875.1" r="0.9"/>
<circle cx="537.9" cy="875.1" r="0.9"/>
<circle cx="545.2" cy="875.2" r="0.9"/>
<circle cx="534.0" cy="875.2" r="0.9"/>
<circle cx="536.6" cy="875.2" r="0.9"/>
<circle cx="534.5" cy="875.2" r="0.9"/>
<circle cx="534.7" cy="875.2" r="0.9"/>
<circle cx="553.7" cy="875.2" r="0.9"/>
<circle cx="541.7" cy="875.2" r="0.9"/>
<circle cx="544.0" cy="875.2" r="0.9"/>
<circle cx="542.7" cy="875.2" r="0.9"/>
<circle cx="538.9" cy="875.2" r="0.9"/>
<circle cx="540.7" cy="875.2" r="0.9"/>
<circle cx="544.9" cy="875.2" r="0.9"/>
<circle cx="534.9" cy="875.2" r="0.9"/>
<circle cx="529.9" cy="875.3" r="0.9"/>
<circle cx="536.0" cy="875.3" r="0.9"/>
<circle cx="539.3" cy="875.4" r="0.9"/>
<circle cx="538.7" cy="875.4" r="0.9"/>
<circle cx="551.4" cy="875.4" r="0.9"/>
<circle cx="540.1" cy="875.4" r="0.9"/>
<circle cx="541.5" cy="875.4" r="0.9"/>
<circle cx="537.2" cy="875.4" r="0.9"/>
<circle cx="541.4" cy="875.4" r="0.9"/>
<circle cx="557.7" cy="875.4" r="0.9"/>
<circle cx="535.3" cy="875.4" r="0.9"/>
<circle cx="538.0" cy="875.4" r="0.9"/>
<circle cx="535.7" cy="875.5" r="0.9"/>
<circle cx="539.5" cy="875.5" r="0.9"/>
<circle cx="544.8" cy="875.5" r="0.9"/>
<circle cx="548.4" cy="875.5" r="0.9"/>
<circle cx="537.1" cy="875.5" r="0.9"/>
<circle cx="537.1" cy="875.5" r="0.9"/>
<circle cx="533.4" cy="875.5" r="0.9"/>
<circle cx="535.4" cy="875.5" r="0.9"/>
<circle cx="534.5" cy="875.5" r="0.9"/>
<circle cx="540.9" cy="875.5" r="0.9"/>
<circle cx="534.5" cy="875.5" r="0.9"/>
<circle cx="529.8" cy="875.5" r="0.9"/>
<circle cx="542.0" cy="875.5" r="0.9"/>
<circle cx="546.4" cy="875.6" r="0.9"/>
<circle cx="538.6" cy="875.6" r="0.9"/>
<circle cx="540.3" cy="875.6" r="0.9"/>
<circle cx="535.9" cy="875.6" r="0.9"/>
<circle cx="541.7" cy="875.6" r="0.9"/>
<circle cx="555.4" cy="875.6" r="0.9"/>
<circle cx="543.1" cy="875.6" r="0.9"/>
<circle cx="534.0" cy="875.6" r="0.9"/>
<circle cx="541.7" cy="875.6" r="0.9"/>
<circle cx="536.1" cy="875.6" r="0.9"/>
<circle cx="531.5" cy="875.7" r="0.9"/>
<circle cx="535.3" cy="875.7" r="0.9"/>
<circle cx="542.3" cy="875.7" r="0.9"/>
<circle cx="533.2" cy="875.7" r="0.9"/>
<circle cx="539.6" cy="875.7" r="0.9"/>
<circle cx="539.3" cy="875.7" r="0.9"/>
<circle cx="541.5" cy="875.7" r="0.9"/>
<circle cx="538.1" cy="875.7" r="0.9"/>
<circle cx="534.7" cy="875.7" r="0.8"/>
<circle cx="541.1" cy="875.7" r="0.8"/>
<circle cx="541.9" cy="875.8" r="0.8"/>
<circle cx="535.3" cy="875.8" r="0.8"/>
<circle cx="536.3" cy="875.8" r="0.8"/>
<circle cx="537.5" cy="875.8" r="0.8"/>
<circle cx="545.4" cy="875.8" r="0.8"/>
<circle cx="548.8" cy="875.8" r="0.8"/>
<circle cx="565.0" cy="875.8" r="0.8"/>
<circle cx="539.8" cy="875.8" r="0.8"/>
<circle cx="536.7" cy="875.8" r="0.8"/>
<circle cx="539.1" cy="875.8" r="0.8"/>
<circle cx="532.4" cy="875.8" r="0.8"/>
<circle cx="545.9" cy="875.9" r="0.8"/>
<circle cx="532.3" cy="875.9" r="0.8"/>
<circle cx="538.9" cy="875.9" r="0.8"/>
<circle cx="531.2" cy="875.9" r="0.8"/>
<circle cx="541.0" cy="875.9" r="0.8"/>
<circle cx="536.3" cy="876.0" r="0.8"/>
<circle cx="537.2" cy="876.0" r="0.8"/>
<circle cx="534.7" cy="876.0" r="0.8"/>
<circle cx="534.4" cy="876.0" r="0.8"/>
<circle cx="542.8" cy="876.0" r="0.8"/>
<circle cx="535.8" cy="876.0" r="0.8"/>
<circle cx="538.5" cy="876.0" r="0.8"/>
<circle cx="533.8" cy="876.0" r="0.8"/>
<circle cx="544.0" cy="876.1" r="0.8"/>
<circle cx="535.0" cy="876.1" r="0.8"/>
<circle cx="535.0" cy="876.1" r="0.8"/>
<circle cx="545.6" cy="876.1" r="0.8"/>
<circle cx="540.6" cy="876.1" r="0.8"/>
<circle cx="535.7" cy="876.1" r="0.8"/>
<circle cx="540.4" cy="876.1" r="0.8"/>
<circle cx="542.6" cy="876.2" r="0.8"/>
<circle cx="536.2" cy="876.2" r="0.8"/>
<circle cx="536.5" cy="876.2" r="0.8"/>
<circle cx="570.2" cy="876.2" r="0.8"/>
<circle cx="538.9" cy="876.2" r="0.8"/>
<circle cx="528.6" cy="876.2" r="0.8"/>
<circle cx="539.6" cy="876.2" r="0.8"/>
<circle cx="532.1" cy="876.2" r="0.8"/>
<circle cx="544.9" cy="876.2" r="0.8"/>
<circle cx="547.2" cy="876.2" r="0.8"/>
<circle cx="539.0" cy="876.2" r="0.8"/>
<circle cx="530.2" cy="876.3" r="0.8"/>
<circle cx="531.4" cy="876.3" r="0.8"/>
<circle cx="534.2" cy="876.4" r="0.8"/>
<circle cx="542.1" cy="876.4" r="0.8"/>
<circle cx="524.5" cy="876.4" r="0.8"/>
<circle cx="540.6" cy="876.4" r="0.8"/>
<circle cx="544.7" cy="876.4" r="0.8"/>
<circle cx="532.2" cy="876.4" r="0.8"/>
<circle cx="552.3" cy="876.4" r="0.8"/>
<circle cx="547.4" cy="876.4" r="0.8"/>
<circle cx="533.2" cy="876.4" r="0.8"/>
<circle cx="538.6" cy="876.4" r="0.8"/>
<circle cx="536.2" cy="876.4" r="0.8"/>
<circle cx="500.2" cy="876.4" r="0.8"/>
<circle cx="536.7" cy="876.4" r="0.8"/>
<circle cx="534.6" cy="876.4" r="0.8"/>
<circle cx="547.2" cy="876.4" r="0.8"/>
<circle cx="537.5" cy="876.4" r="0.8"/>
<circle cx="537.0" cy="876.4" r="0.8"/>
<circle cx="550.3" cy="876.5" r="0.8"/>
<circle cx="543.4" cy="876.5" r="0.8"/>
<circle cx="545.0" cy="876.5" r="0.8"/>
<circle cx="544.4" cy="876.5" r="0.8"/>
<circle cx="543.6" cy="876.5" r="0.8"/>
<circle cx="532.8" cy="876.5" r="0.8"/>
<circle cx="569.0" cy="876.5" r="0.8"/>
<circle cx="535.2" cy="876.5" r="0.8"/>
<circle cx="535.9" cy="876.5" r="0.8"/>
<circle cx="536.3" cy="876.5" r="0.8"/>
<circle cx="536.5" cy="876.5" r="0.8"/>
<circle cx="531.2" cy="876.5" r="0.8"/>
<circle cx="543.5" cy="876.5" r="0.8"/>
<circle cx="534.6" cy="876.5" r="0.8"/>
<circle cx="536.3" cy="876.6" r="0.8"/>
<circle cx="542.4" cy="876.6" r="0.8"/>
<circle cx="532.5" cy="876.6" r="0.8"/>
<circle cx="536.0" cy="876.6" r="0.8"/>
<circle cx="548.8" cy="876.6" r="0.8"/>
<circle cx="531.1" cy="876.6" r="0.8"/>
<circle cx="540.5" cy="876.6" r="0.8"/>
<circle cx="531.6" cy="876.6" r="0.8"/>
<circle cx="541.0" cy="876.6" r="0.8"/>
<circle cx="536.8" cy="876.7" r="0.8"/>
<circle cx="530.5" cy="876.7" r="0.8"/>
<circle cx="529.3" cy="876.7" r="0.8"/>
<circle cx="539.5" cy="876.7" r="0.8"/>
<circle cx="540.2" cy="876.7" r="0.8"/>
<circle cx="535.9" cy="876.7" r="0.8"/>
<circle cx="535.9" cy="876.7" r="0.8"/>
<circle cx="536.0" cy="876.7" r="0.8"/>
<circle cx="538.5" cy="876.7" r="0.8"/>
<circle cx="539.0" cy="876.7" r="0.8"/>
<circle cx="534.6" cy="876.7" r="0.8"/>
<circle cx="545.1" cy="876.7" r="0.8"/>
<circle cx="530.3" cy="876.7" r="0.8"/>
<circle cx="538.2" cy="876.7" r="0.8"/>
<circle cx="572.6" cy="876.7" r="0.8"/>
<circle cx="528.6" cy="876.7" r="0.8"/>
<circle cx="540.0" cy="876.7" r="0.8"/>
<circle cx="534.8" cy="876.7" r="0.8"/>
<circle cx="531.4" cy="876.8" r="0.8"/>
<circle cx="539.8" cy="876.8" r="0.8"/>
<circle cx="527.9" cy="876.8" r="0.8"/>
<circle cx="533.5" cy="876.8" r="0.8"/>
<circle cx="544.4" cy="876.8" r="0.8"/>
<circle cx="541.7" cy="876.8" r="0.8"/>
<circle cx="534.8" cy="876.8" r="0.8"/>
<circle cx="540.1" cy="876.8" r="0.8"/>
<circle cx="533.7" cy="876.8" r="0.8"/>
<circle cx="536.1" cy="876.8" r="0.8"/>
<circle cx="541.1" cy="876.8" r="0.8"/>
<circle cx="548.2" cy="876.8" r="0.8"/>
<circle cx="535.4" cy="876.8" r="0.8"/>
<circle cx="534.5" cy="876.9" r="0.8"/>
<circle cx="535.8" cy="876.9" r="0.8"/>
<circle cx="539.3" cy="876.9" r="0.8"/>
<circle cx="546.4" cy="876.9" r="0.8"/>
<circle cx="544.7" cy="876.9" r="0.8"/>
<circle cx="532.4" cy="876.9" r="0.8"/>
<circle cx="538.0" cy="876.9" r="0.8"/>
<circle cx="540.9" cy="876.9" r="0.8"/>
<circle cx="533.4" cy="877.0" r="0.8"/>
<circle cx="534.2" cy="877.0" r="0.8"/>
<circle cx="538.9" cy="877.0" r="0.8"/>
<circle cx="550.9" cy="877.0" r="0.8"/>
<circle cx="532.6" cy="877.0" r="0.8"/>
<circle cx="537.3" cy="877.0" r="0.8"/>
<circle cx="540.8" cy="877.1" r="0.8"/>
<circle cx="539.8" cy="877.1" r="0.8"/>
<circle cx="543.1" cy="877.1" r="0.8"/>
<circle cx="530.7" cy="877.1" r="0.8"/>
<circle cx="535.0" cy="877.1" r="0.8"/>
<circle cx="539.0" cy="877.1" r="0.8"/>
<circle cx="539.6" cy="877.1" r="0.8"/>
<circle cx="546.7" cy="877.1" r="0.8"/>
<circle cx="544.0" cy="877.1" r="0.8"/>
<circle cx="551.0" cy="877.1" r="0.8"/>
<circle cx="546.8" cy="877.1" r="0.8"/>
<circle cx="530.0" cy="877.1" r="0.8"/>
<circle cx="537.6" cy="877.1" r="0.8"/>
<circle cx="542.3" cy="877.1" r="0.8"/>
<circle cx="536.1" cy="877.1" r="0.8"/>
<circle cx="533.1" cy="877.1" r="0.8"/>
<circle cx="532.2" cy="877.2" r="0.8"/>
<circle cx="545.2" cy="877.2" r="0.8"/>
<circle cx="543.8" cy="877.2" r="0.8"/>
<circle cx="538.9" cy="877.2" r="0.8"/>
<circle cx="536.5" cy="877.2" r="0.8"/>
<circle cx="535.6" cy="877.2" r="0.8"/>
<circle cx="541.7" cy="877.2" r="0.8"/>
<circle cx="542.2" cy="877.2" r="0.8"/>
<circle cx="532.3" cy="877.2" r="0.8"/>
<circle cx="535.8" cy="877.2" r="0.8"/>
<circle cx="542.8" cy="877.2" r="0.8"/>
<circle cx="545.3" cy="877.3" r="0.8"/>
<circle cx="531.7" cy="877.3" r="0.8"/>
<circle cx="537.4" cy="877.3" r="0.8"/>
<circle cx="549.0" cy="877.3" r="0.8"/>
<circle cx="540.1" cy="877.3" r="0.8"/>
<circle cx="529.9" cy="877.3" r="0.8"/>
<circle cx="532.7" cy="877.3" r="0.8"/>
<circle cx="529.6" cy="877.3" r="0.8"/>
<circle cx="538.7" cy="877.3" r="0.8"/>
<circle cx="536.8" cy="877.3" r="0.8"/>
<circle cx="537.9" cy="877.4" r="0.8"/>
<circle cx="538.5" cy="877.4" r="0.8"/>
<circle cx="540.2" cy="877.4" r="0.8"/>
<circle cx="531.5" cy="877.4" r="0.8"/>
<circle cx="538.9" cy="877.4" r="0.8"/>
<circle cx="528.6" cy="877.4" r="0.8"/>
<circle cx="537.7" cy="877.4" r="0.8"/>
<circle cx="540.9" cy="877.4" r="0.8"/>
<circle cx="546.0" cy="877.4" r="0.8"/>
<circle cx="529.5" cy="877.4" r="0.8"/>
<circle cx="528.2" cy="877.4" r="0.8"/>
<circle cx="534.0" cy="877.4" r="0.8"/>
<circle cx="537.8" cy="877.4" r="0.8"/>
<circle cx="534.8" cy="877.4" r="0.8"/>
<circle cx="538.5" cy="877.5" r="0.8"/>
<circle cx="540.8" cy="877.5" r="0.8"/>
<circle cx="529.9" cy="877.5" r="0.8"/>
<circle cx="541.5" cy="877.5" r="0.8"/>
<circle cx="542.3" cy="877.5" r="0.8"/>
<circle cx="541.0" cy="877.5" r="0.8"/>
<circle cx="534.5" cy="877.5" r="0.8"/>
<circle cx="547.5" cy="877.5" r="0.8"/>
<circle cx="537.0" cy="877.5" r="0.8"/>
<circle cx="536.5" cy="877.5" r="0.8"/>
<circle cx="542.7" cy="877.5" r="0.8"/>
<circle cx="541.3" cy="877.5" r="0.8"/>
<circle cx="542.1" cy="877.5" r="0.8"/>
<circle cx="538.9" cy="877.5" r="0.8"/>
<circle cx="542.2" cy="877.6" r="0.8"/>
<circle cx="535.1" cy="877.6" r="0.8"/>
<circle cx="536.2" cy="877.6" r="0.8"/>
<circle cx="538.7" cy="877.6" r="0.8"/>
<circle cx="526.1" cy="877.6" r="0.7"/>
<circle cx="534.7" cy="877.6" r="0.7"/>
<circle cx="532.0" cy="877.6" r="0.7"/>
<circle cx="539.2" cy="877.6" r="0.7"/>
<circle cx="540.0" cy="877.7" r="0.7"/>
<circle cx="540.7" cy="877.7" r="0.7"/>
<circle cx="547.2" cy="877.7" r="0.7"/>
<circle cx="538.6" cy="877.7" r="0.7"/>
<circle cx="535.9" cy="877.7" r="0.7"/>
<circle cx="543.1" cy="877.7" r="0.7"/>
<circle cx="522.8" cy="877.7" r="0.7"/>
<circle cx="536.5" cy="877.7" r="0.7"/>
<circle cx="532.2" cy="877.7" r="0.7"/>
<circle cx="557.7" cy="877.8" r="0.7"/>
<circle cx="540.5" cy="877.8" r="0.7"/>
<circle cx="541.7" cy="877.8" r="0.7"/>
<circle cx="533.8" cy="877.8" r="0.7"/>
<circle cx="541.0" cy="877.8" r="0.7"/>
<circle cx="539.5" cy="877.8" r="0.7"/>
<circle cx="537.4" cy="877.8" r="0.7"/>
<circle cx="547.9" cy="877.8" r="0.7"/>
<circle cx="527.4" cy="877.8" r="0.7"/>
<circle cx="538.4" cy="877.8" r="0.7"/>
<circle cx="539.0" cy="877.8" r="0.7"/>
<circle cx="540.0" cy="877.8" r="0.7"/>
<circle cx="535.1" cy="877.8" r="0.7"/>
<circle cx="533.1" cy="877.8" r="0.7"/>
<circle cx="540.6" cy="877.8" r="0.7"/>
<circle cx="531.4" cy="877.8" r="0.7"/>
<circle cx="548.8" cy="877.9" r="0.7"/>
<circle cx="542.2" cy="877.9" r="0.7"/>
<circle cx="521.0" cy="877.9" r="0.7"/>
<circle cx="533.8" cy="877.9" r="0.7"/>
<circle cx="531.9" cy="877.9" r="0.7"/>
<circle cx="537.0" cy="877.9" r="0.7"/>
<circle cx="527.5" cy="877.9" r="0.7"/>
<circle cx="508.0" cy="877.9" r="0.7"/>
<circle cx="537.1" cy="878.0" r="0.7"/>
<circle cx="534.8" cy="878.0" r="0.7"/>
<circle cx="533.2" cy="878.0" r="0.7"/>
<circle cx="517.3" cy="878.0" r="0.7"/>
<circle cx="536.3" cy="878.0" r="0.7"/>
<circle cx="543.2" cy="878.0" r="0.7"/>
<circle cx="531.5" cy="878.0" r="0.7"/>
<circle cx="541.9" cy="878.0" r="0.7"/>
<circle cx="538.5" cy="878.0" r="0.7"/>
<circle cx="532.6" cy="878.0" r="0.7"/>
<circle cx="535.9" cy="878.0" r="0.7"/>
<circle cx="543.8" cy="878.0" r="0.7"/>
<circle cx="540.3" cy="878.0" r="0.7"/>
<circle cx="531.8" cy="878.0" r="0.7"/>
<circle cx="532.9" cy="878.1" r="0.7"/>
<circle cx="527.4" cy="878.1" r="0.7"/>
<circle cx="539.7" cy="878.1" r="0.7"/>
<circle cx="543.3" cy="878.1" r="0.7"/>
<circle cx="534.9" cy="878.1" r="0.7"/>
<circle cx="551.5" cy="878.1" r="0.7"/>
<circle cx="539.4" cy="878.1" r="0.7"/>
<circle cx="535.0" cy="878.1" r="0.7"/>
<circle cx="536.8" cy="878.1" r="0.7"/>
<circle cx="535.0" cy="878.1" r="0.7"/>
<circle cx="532.4" cy="878.1" r="0.7"/>
<circle cx="540.7" cy="878.2" r="0.7"/>
<circle cx="542.7" cy="878.2" r="0.7"/>
<circle cx="535.7" cy="878.2" r="0.7"/>
<circle cx="569.4" cy="878.2" r="0.7"/>
<circle cx="539.0" cy="878.2" r="0.7"/>
<circle cx="547.8" cy="878.2" r="0.7"/>
<circle cx="534.1" cy="878.2" r="0.7"/>
<circle cx="540.8" cy="878.2" r="0.7"/>
<circle cx="544.5" cy="878.2" r="0.7"/>
<circle cx="535.5" cy="878.3" r="0.7"/>
<circle cx="547.3" cy="878.3" r="0.7"/>
<circle cx="527.5" cy="878.3" r="0.7"/>
<circle cx="535.3" cy="878.3" r="0.7"/>
<circle cx="534.6" cy="878.3" r="0.7"/>
<circle cx="531.6" cy="878.3" r="0.7"/>
<circle cx="535.3" cy="878.3" r="0.7"/>
<circle cx="539.3" cy="878.3" r="0.7"/>
<circle cx="536.0" cy="878.3" r="0.7"/>
<circle cx="543.3" cy="878.3" r="0.7"/>
<circle cx="548.8" cy="878.3" r="0.7"/>
<circle cx="528.1" cy="878.3" r="0.7"/>
<circle cx="533.8" cy="878.3" r="0.7"/>
<circle cx="537.2" cy="878.4" r="0.7"/>
<circle cx="535.3" cy="878.4" r="0.7"/>
<circle cx="531.2" cy="878.4" r="0.7"/>
<circle cx="534.8" cy="878.4" r="0.7"/>
<circle cx="535.8" cy="878.4" r="0.7"/>
<circle cx="543.6" cy="878.4" r="0.7"/>
<circle cx="536.0" cy="878.4" r="0.7"/>
<circle cx="540.9" cy="878.4" r="0.7"/>
<circle cx="540.4" cy="878.5" r="0.7"/>
<circle cx="558.9" cy="878.5" r="0.7"/>
<circle cx="543.7" cy="878.5" r="0.7"/>
<circle cx="541.8" cy="878.5" r="0.7"/>
<circle cx="538.9" cy="878.5" r="0.7"/>
<circle cx="546.6" cy="878.5" r="0.7"/>
<circle cx="545.2" cy="878.5" r="0.7"/>
<circle cx="538.4" cy="878.5" r="0.7"/>
<circle cx="531.7" cy="878.5" r="0.7"/>
<circle cx="525.1" cy="878.5" r="0.7"/>
<circle cx="525.5" cy="878.5" r="0.7"/>
<circle cx="535.5" cy="878.5" r="0.7"/>
<circle cx="545.4" cy="878.5" r="0.7"/>
<circle cx="535.7" cy="878.5" r="0.7"/>
<circle cx="549.6" cy="878.5" r="0.7"/>
<circle cx="536.6" cy="878.5" r="0.7"/>
<circle cx="536.2" cy="878.5" r="0.7"/>
<circle cx="539.2" cy="878.5" r="0.7"/>
<circle cx="539.9" cy="878.6" r="0.7"/>
<circle cx="526.3" cy="878.6" r="0.7"/>
<circle cx="536.9" cy="878.6" r="0.7"/>
<circle cx="516.6" cy="878.6" r="0.7"/>
<circle cx="531.0" cy="878.6" r="0.7"/>
<circle cx="516.3" cy="878.6" r="0.7"/>
<circle cx="513.5" cy="878.6" r="0.7"/>
<circle cx="536.6" cy="878.6" r="0.7"/>
<circle cx="539.9" cy="878.6" r="0.7"/>
<circle cx="533.9" cy="878.6" r="0.7"/>
<circle cx="535.3" cy="878.6" r="0.7"/>
<circle cx="541.1" cy="878.6" r="0.7"/>
<circle cx="539.0" cy="878.7" r="0.7"/>
<circle cx="567.2" cy="878.7" r="0.7"/>
<circle cx="537.7" cy="878.7" r="0.7"/>
<circle cx="538.6" cy="878.7" r="0.7"/>
<circle cx="531.5" cy="878.7" r="0.7"/>
<circle cx="540.3" cy="878.7" r="0.7"/>
<circle cx="536.8" cy="878.7" r="0.7"/>
<circle cx="539.2" cy="878.7" r="0.7"/>
<circle cx="526.1" cy="878.7" r="0.7"/>
<circle cx="542.1" cy="878.7" r="0.7"/>
<circle cx="542.2" cy="878.7" r="0.7"/>
<circle cx="539.7" cy="878.7" r="0.7"/>
<circle cx="538.9" cy="878.7" r="0.7"/>
<circle cx="537.7" cy="878.7" r="0.7"/>
<circle cx="542.1" cy="878.8" r="0.7"/>
<circle cx="538.3" cy="878.8" r="0.7"/>
<circle cx="532.3" cy="878.8" r="0.7"/>
<circle cx="536.1" cy="878.8" r="0.7"/>
<circle cx="535.9" cy="878.8" r="0.7"/>
<circle cx="551.1" cy="878.8" r="0.7"/>
<circle cx="536.4" cy="878.8" r="0.7"/>
<circle cx="528.1" cy="878.8" r="0.7"/>
<circle cx="557.7" cy="878.8" r="0.7"/>
<circle cx="544.5" cy="878.8" r="0.7"/>
<circle cx="536.9" cy="878.8" r="0.7"/>
<circle cx="540.6" cy="878.8" r="0.7"/>
<circle cx="540.9" cy="878.8" r="0.7"/>
<circle cx="539.4" cy="878.8" r="0.7"/>
<circle cx="539.8" cy="878.8" r="0.7"/>
<circle cx="533.8" cy="878.9" r="0.7"/>
<circle cx="536.0" cy="878.9" r="0.7"/>
<circle cx="535.8" cy="878.9" r="0.7"/>
<circle cx="533.5" cy="878.9" r="0.7"/>
<circle cx="536.3" cy="878.9" r="0.7"/>
<circle cx="532.7" cy="878.9" r="0.7"/>
<circle cx="536.0" cy="878.9" r="0.7"/>
<circle cx="538.9" cy="878.9" r="0.7"/>
<circle cx="538.1" cy="878.9" r="0.7"/>
<circle cx="537.8" cy="878.9" r="0.7"/>
<circle cx="540.5" cy="878.9" r="0.7"/>
<circle cx="534.2" cy="878.9" r="0.7"/>
<circle cx="539.8" cy="878.9" r="0.7"/>
<circle cx="541.7" cy="878.9" r="0.7"/>
<circle cx="539.1" cy="878.9" r="0.7"/>
<circle cx="533.8" cy="878.9" r="0.7"/>
<circle cx="538.5" cy="878.9" r="0.7"/>
<circle cx="547.6" cy="878.9" r="0.7"/>
<circle cx="533.9" cy="879.0" r="0.7"/>
<circle cx="536.9" cy="879.0" r="0.7"/>
<circle cx="523.2" cy="879.0" r="0.7"/>
<circle cx="536.2" cy="879.0" r="0.7"/>
<circle cx="535.7" cy="879.0" r="0.7"/>
<circle cx="553.0" cy="879.0" r="0.7"/>
<circle cx="533.0" cy="879.0" r="0.7"/>
<circle cx="541.9" cy="879.0" r="0.7"/>
<circle cx="532.1" cy="879.0" r="0.7"/>
<circle cx="540.4" cy="879.0" r="0.7"/>
<circle cx="531.3" cy="879.0" r="0.7"/>
<circle cx="537.3" cy="879.0" r="0.7"/>
<circle cx="532.2" cy="879.1" r="0.7"/>
<circle cx="533.9" cy="879.1" r="0.7"/>
<circle cx="545.3" cy="879.1" r="0.7"/>
<circle cx="541.6" cy="879.1" r="0.7"/>
<circle cx="534.0" cy="879.1" r="0.7"/>
<circle cx="542.2" cy="879.1" r="0.7"/>
<circle cx="526.6" cy="879.1" r="0.7"/>
<circle cx="532.0" cy="879.1" r="0.7"/>
<circle cx="535.0" cy="879.1" r="0.7"/>
<circle cx="532.4" cy="879.1" r="0.7"/>
<circle cx="537.2" cy="879.1" r="0.7"/>
<circle cx="531.0" cy="879.1" r="0.7"/>
<circle cx="538.7" cy="879.2" r="0.7"/>
<circle cx="536.1" cy="879.2" r="0.7"/>
<circle cx="535.1" cy="879.2" r="0.7"/>
<circle cx="536.9" cy="879.2" r="0.7"/>
<circle cx="529.5" cy="879.2" r="0.7"/>
<circle cx="532.6" cy="879.2" r="0.7"/>
<circle cx="514.4" cy="879.2" r="0.7"/>
<circle cx="538.7" cy="879.2" r="0.7"/>
<circle cx="532.6" cy="879.2" r="0.7"/>
<circle cx="531.2" cy="879.2" r="0.7"/>
<circle cx="540.6" cy="879.2" r="0.7"/>
<circle cx="540.4" cy="879.2" r="0.7"/>
<circle cx="541.5" cy="879.2" r="0.7"/>
<circle cx="549.9" cy="879.2" r="0.7"/>
<circle cx="545.3" cy="879.3" r="0.6"/>
<circle cx="539.8" cy="879.3" r="0.6"/>
<circle cx="539.4" cy="879.3" r="0.6"/>
<circle cx="538.6" cy="879.3" r="0.6"/>
<circle cx="532.5" cy="879.3" r="0.6"/>
<circle cx="529.4" cy="879.3" r="0.6"/>
<circle cx="516.7" cy="879.3" r="0.6"/>
<circle cx="549.2" cy="879.3" r="0.6"/>
<circle cx="542.1" cy="879.3" r="0.6"/>
<circle cx="545.2" cy="879.3" r="0.6"/>
<circle cx="541.4" cy="879.3" r="0.6"/>
<circle cx="548.1" cy="879.3" r="0.6"/>
<circle cx="545.2" cy="879.3" r="0.6"/>
<circle cx="545.6" cy="879.4" r="0.6"/>
<circle cx="536.5" cy="879.4" r="0.6"/>
<circle cx="535.0" cy="879.4" r="0.6"/>
<circle cx="544.2" cy="879.4" r="0.6"/>
<circle cx="548.0" cy="879.4" r="0.6"/>
<circle cx="541.8" cy="879.4" r="0.6"/>
<circle cx="534.7" cy="879.4" r="0.6"/>
<circle cx="530.0" cy="879.4" r="0.6"/>
<circle cx="535.9" cy="879.4" r="0.6"/>
<circle cx="537.2" cy="879.4" r="0.6"/>
<circle cx="533.8" cy="879.4" r="0.6"/>
<circle cx="516.5" cy="879.4" r="0.6"/>
<circle cx="538.1" cy="879.4" r="0.6"/>
<circle cx="537.2" cy="879.4" r="0.6"/>
<circle cx="536.7" cy="879.4" r="0.6"/>
<circle cx="541.7" cy="879.4" r="0.6"/>
<circle cx="534.7" cy="879.4" r="0.6"/>
<circle cx="532.5" cy="879.5" r="0.6"/>
<circle cx="537.4" cy="879.5" r="0.6"/>
<circle cx="535.8" cy="879.5" r="0.6"/>
<circle cx="549.8" cy="879.5" r="0.6"/>
<circle cx="536.2" cy="879.5" r="0.6"/>
<circle cx="539.2" cy="879.5" r="0.6"/>
<circle cx="532.0" cy="879.5" r="0.6"/>
<circle cx="536.6" cy="879.5" r="0.6"/>
<circle cx="526.1" cy="879.5" r="0.6"/>
<circle cx="524.8" cy="879.5" r="0.6"/>
<circle cx="535.4" cy="879.5" r="0.6"/>
<circle cx="540.5" cy="879.5" r="0.6"/>
<circle cx="535.8" cy="879.5" r="0.6"/>
<circle cx="538.4" cy="879.5" r="0.6"/>
<circle cx="541.4" cy="879.5" r="0.6"/>
<circle cx="539.3" cy="879.5" r="0.6"/>
<circle cx="543.2" cy="879.5" r="0.6"/>
<circle cx="521.1" cy="879.5" r="0.6"/>
<circle cx="539.7" cy="879.6" r="0.6"/>
<circle cx="535.1" cy="879.6" r="0.6"/>
<circle cx="545.2" cy="879.6" r="0.6"/>
<circle cx="536.0" cy="879.6" r="0.6"/>
<circle cx="540.8" cy="879.6" r="0.6"/>
<circle cx="508.4" cy="879.6" r="0.6"/>
<circle cx="538.8" cy="879.6" r="0.6"/>
<circle cx="534.2" cy="879.6" r="0.6"/>
<circle cx="539.7" cy="879.6" r="0.6"/>
<circle cx="535.9" cy="879.6" r="0.6"/>
<circle cx="526.6" cy="879.7" r="0.6"/>
<circle cx="527.7" cy="879.7" r="0.6"/>
<circle cx="525.0" cy="879.7" r="0.6"/>
<circle cx="532.5" cy="879.7" r="0.6"/>
<circle cx="531.6" cy="879.7" r="0.6"/>
<circle cx="536.5" cy="879.7" r="0.6"/>
<circle cx="533.2" cy="879.7" r="0.6"/>
<circle cx="534.7" cy="879.7" r="0.6"/>
<circle cx="535.0" cy="879.7" r="0.6"/>
<circle cx="533.8" cy="879.7" r="0.6"/>
<circle cx="537.2" cy="879.7" r="0.6"/>
<circle cx="536.2" cy="879.7" r="0.6"/>
<circle cx="535.2" cy="879.7" r="0.6"/>
<circle cx="531.3" cy="879.7" r="0.6"/>
<circle cx="542.8" cy="879.7" r="0.6"/>
<circle cx="540.1" cy="879.8" r="0.6"/>
<circle cx="538.5" cy="879.8" r="0.6"/>
<circle cx="542.4" cy="879.8" r="0.6"/>
<circle cx="543.4" cy="879.8" r="0.6"/>
<circle cx="535.3" cy="879.8" r="0.6"/>
<circle cx="552.5" cy="879.8" r="0.6"/>
<circle cx="518.6" cy="879.8" r="0.6"/>
<circle cx="530.5" cy="879.8" r="0.6"/>
<circle cx="543.7" cy="879.8" r="0.6"/>
<circle cx="548.1" cy="879.8" r="0.6"/>
<circle cx="543.0" cy="879.8" r="0.6"/>
<circle cx="532.8" cy="879.8" r="0.6"/>
<circle cx="537.6" cy="879.8" r="0.6"/>
<circle cx="538.1" cy="879.8" r="0.6"/>
<circle cx="546.6" cy="879.8" r="0.6"/>
<circle cx="539.3" cy="879.8" r="0.6"/>
<circle cx="527.5" cy="879.8" r="0.6"/>
<circle cx="533.2" cy="879.8" r="0.6"/>
<circle cx="543.7" cy="879.8" r="0.6"/>
<circle cx="548.6" cy="879.8" r="0.6"/>
<circle cx="532.3" cy="879.8" r="0.6"/>
<circle cx="538.3" cy="879.9" r="0.6"/>
<circle cx="532.4" cy="879.9" r="0.6"/>
<circle cx="531.2" cy="879.9" r="0.6"/>
<circle cx="537.5" cy="879.9" r="0.6"/>
<circle cx="540.1" cy="879.9" r="0.6"/>
<circle cx="539.4" cy="879.9" r="0.6"/>
<circle cx="535.2" cy="879.9" r="0.6"/>
<circle cx="531.3" cy="879.9" r="0.6"/>
<circle cx="539.4" cy="879.9" r="0.6"/>
<circle cx="531.2" cy="879.9" r="0.6"/>
<circle cx="532.9" cy="879.9" r="0.6"/>
<circle cx="531.1" cy="879.9" r="0.6"/>
<circle cx="535.8" cy="879.9" r="0.6"/>
<circle cx="541.4" cy="879.9" r="0.6"/>
<circle cx="543.4" cy="879.9" r="0.6"/>
<circle cx="551.3" cy="879.9" r="0.6"/>
<circle cx="538.6" cy="879.9" r="0.6"/>
<circle cx="528.9" cy="879.9" r="0.6"/>
<circle cx="537.0" cy="879.9" r="0.6"/>
<circle cx="541.7" cy="879.9" r="0.6"/>
<circle cx="536.0" cy="879.9" r="0.6"/>
<circle cx="532.1" cy="880.0" r="0.6"/>
<circle cx="528.8" cy="880.0" r="0.6"/>
<circle cx="540.9" cy="880.0" r="0.6"/>
<circle cx="530.0" cy="880.0" r="0.6"/>
<circle cx="533.0" cy="880.0" r="0.6"/>
<circle cx="615.0" cy="880.0" r="0.6"/>
<circle cx="536.8" cy="880.0" r="0.6"/>
<circle cx="541.2" cy="880.0" r="0.6"/>
<circle cx="561.1" cy="880.0" r="0.6"/>
<circle cx="538.0" cy="880.0" r="0.6"/>
<circle cx="529.9" cy="880.0" r="0.6"/>
<circle cx="533.7" cy="880.0" r="0.6"/>
<circle cx="536.9" cy="880.0" r="0.6"/>
<circle cx="539.6" cy="880.0" r="0.6"/>
<circle cx="532.5" cy="880.0" r="0.6"/>
<circle cx="538.6" cy="880.0" r="0.6"/>
<circle cx="534.0" cy="880.1" r="0.6"/>
<circle cx="539.2" cy="880.1" r="0.6"/>
<circle cx="541.1" cy="880.1" r="0.6"/>
<circle cx="534.9" cy="880.1" r="0.6"/>
<circle cx="544.9" cy="880.1" r="0.6"/>
<circle cx="542.0" cy="880.1" r="0.6"/>
<circle cx="540.2" cy="880.1" r="0.6"/>
<circle cx="534.2" cy="880.1" r="0.6"/>
<circle cx="538.7" cy="880.1" r="0.6"/>
<circle cx="529.1" cy="880.1" r="0.6"/>
<circle cx="539.6" cy="880.1" r="0.6"/>
<circle cx="536.8" cy="880.1" r="0.6"/>
<circle cx="529.1" cy="880.1" r="0.6"/>
<circle cx="533.2" cy="880.1" r="0.6"/>
<circle cx="536.7" cy="880.1" r="0.6"/>
<circle cx="541.8" cy="880.1" r="0.6"/>
<circle cx="535.5" cy="880.1" r="0.6"/>
<circle cx="520.2" cy="880.1" r="0.6"/>
<circle cx="535.3" cy="880.1" r="0.6"/>
<circle cx="547.8" cy="880.1" r="0.6"/>
<circle cx="536.8" cy="880.2" r="0.6"/>
<circle cx="525.7" cy="880.2" r="0.6"/>
<circle cx="540.8" cy="880.2" r="0.6"/>
<circle cx="539.9" cy="880.2" r="0.6"/>
<circle cx="532.2" cy="880.2" r="0.6"/>
<circle cx="539.7" cy="880.2" r="0.6"/>
<circle cx="536.2" cy="880.2" r="0.6"/>
<circle cx="538.6" cy="880.2" r="0.6"/>
<circle cx="528.9" cy="880.2" r="0.6"/>
<circle cx="542.6" cy="880.2" r="0.6"/>
<circle cx="537.0" cy="880.2" r="0.6"/>
<circle cx="543.6" cy="880.2" r="0.6"/>
<circle cx="539.4" cy="880.2" r="0.6"/>
<circle cx="556.8" cy="880.2" r="0.6"/>
<circle cx="539.4" cy="880.2" r="0.6"/>
<circle cx="531.7" cy="880.2" r="0.6"/>
<circle cx="544.3" cy="880.3" r="0.6"/>
<circle cx="535.8" cy="880.3" r="0.6"/>
<circle cx="530.9" cy="880.3" r="0.6"/>
<circle cx="536.4" cy="880.3" r="0.6"/>
<circle cx="542.8" cy="880.3" r="0.6"/>
<circle cx="534.5" cy="880.3" r="0.6"/>
<circle cx="542.7" cy="880.3" r="0.6"/>
<circle cx="526.6" cy="880.3" r="0.6"/>
<circle cx="536.1" cy="880.3" r="0.6"/>
<circle cx="536.3" cy="880.3" r="0.6"/>
<circle cx="530.2" cy="880.3" r="0.6"/>
<circle cx="539.7" cy="880.3" r="0.6"/>
<circle cx="534.3" cy="880.3" r="0.6"/>
<circle cx="534.9" cy="880.3" r="0.6"/>
<circle cx="526.4" cy="880.3" r="0.6"/>
<circle cx="543.6" cy="880.3" r="0.6"/>
<circle cx="541.4" cy="880.3" r="0.6"/>
<circle cx="534.8" cy="880.3" r="0.6"/>
<circle cx="537.1" cy="880.3" r="0.6"/>
<circle cx="533.7" cy="880.3" r="0.6"/>
<circle cx="563.7" cy="880.3" r="0.6"/>
<circle cx="539.8" cy="880.3" r="0.6"/>
<circle cx="544.1" cy="880.3" r="0.6"/>
<circle cx="540.0" cy="880.3" r="0.6"/>
<circle cx="546.7" cy="880.3" r="0.6"/>
<circle cx="536.5" cy="880.3" r="0.6"/>
<circle cx="536.6" cy="880.3" r="0.6"/>
<circle cx="539.2" cy="880.4" r="0.6"/>
<circle cx="539.3" cy="880.4" r="0.6"/>
<circle cx="536.2" cy="880.4" r="0.6"/>
<circle cx="535.4" cy="880.4" r="0.6"/>
<circle cx="543.1" cy="880.4" r="0.6"/>
<circle cx="542.7" cy="880.4" r="0.6"/>
<circle cx="534.6" cy="880.4" r="0.6"/>
<circle cx="540.3" cy="880.4" r="0.6"/>
<circle cx="564.1" cy="880.4" r="0.6"/>
<circle cx="527.0" cy="880.4" r="0.6"/>
<circle cx="524.7" cy="880.4" r="0.6"/>
<circle cx="526.1" cy="880.5" r="0.6"/>
<circle cx="543.9" cy="880.5" r="0.6"/>
<circle cx="530.3" cy="880.5" r="0.6"/>
<circle cx="538.9" cy="880.5" r="0.6"/>
<circle cx="542.0" cy="880.5" r="0.6"/>
<circle cx="538.0" cy="880.5" r="0.6"/>
<circle cx="543.2" cy="880.5" r="0.6"/>
<circle cx="549.7" cy="880.5" r="0.6"/>
<circle cx="538.9" cy="880.5" r="0.6"/>
<circle cx="540.8" cy="880.5" r="0.6"/>
<circle cx="539.3" cy="880.5" r="0.6"/>
<circle cx="539.3" cy="880.5" r="0.6"/>
<circle cx="542.8" cy="880.5" r="0.6"/>
<circle cx="538.6" cy="880.5" r="0.6"/>
<circle cx="537.5" cy="880.5" r="0.6"/>
<circle cx="542.7" cy="880.5" r="0.6"/>
<circle cx="544.0" cy="880.5" r="0.6"/>
<circle cx="545.3" cy="880.5" r="0.6"/>
<circle cx="537.7" cy="880.6" r="0.6"/>
<circle cx="555.3" cy="880.6" r="0.6"/>
<circle cx="537.7" cy="880.6" r="0.6"/>
<circle cx="537.3" cy="880.6" r="0.6"/>
<circle cx="511.1" cy="880.6" r="0.6"/>
<circle cx="558.5" cy="880.6" r="0.6"/>
<circle cx="538.6" cy="880.6" r="0.6"/>
<circle cx="538.0" cy="880.6" r="0.6"/>
<circle cx="538.7" cy="880.6" r="0.6"/>
<circle cx="542.8" cy="880.6" r="0.6"/>
<circle cx="536.7" cy="880.6" r="0.6"/>
<circle cx="542.5" cy="880.6" r="0.6"/>
<circle cx="533.2" cy="880.6" r="0.6"/>
<circle cx="537.8" cy="880.6" r="0.6"/>
<circle cx="532.7" cy="880.6" r="0.6"/>
<circle cx="537.6" cy="880.7" r="0.5"/>
<circle cx="545.2" cy="880.7" r="0.5"/>
<circle cx="539.9" cy="880.7" r="0.5"/>
<circle cx="542.1" cy="880.7" r="0.5"/>
<circle cx="536.9" cy="880.7" r="0.5"/>
<circle cx="538.1" cy="880.7" r="0.5"/>
<circle cx="527.0" cy="880.7" r="0.5"/>
<circle cx="535.6" cy="880.7" r="0.5"/>
<circle cx="535.7" cy="880.7" r="0.5"/>
<circle cx="549.5" cy="880.7" r="0.5"/>
<circle cx="538.4" cy="880.7" r="0.5"/>
<circle cx="531.0" cy="880.7" r="0.5"/>
<circle cx="545.3" cy="880.7" r="0.5"/>
<circle cx="541.6" cy="880.7" r="0.5"/>
<circle cx="545.3" cy="880.7" r="0.5"/>
<circle cx="533.3" cy="880.7" r="0.5"/>
<circle cx="537.3" cy="880.7" r="0.5"/>
<circle cx="536.2" cy="880.7" r="0.5"/>
<circle cx="538.5" cy="880.7" r="0.5"/>
<circle cx="559.3" cy="880.7" r="0.5"/>
<circle cx="539.0" cy="880.7" r="0.5"/>
<circle cx="548.3" cy="880.7" r="0.5"/>
<circle cx="540.0" cy="880.7" r="0.5"/>
<circle cx="529.5" cy="880.7" r="0.5"/>
<circle cx="536.5" cy="880.7" r="0.5"/>
<circle cx="536.7" cy="880.7" r="0.5"/>
<circle cx="539.6" cy="880.7" r="0.5"/>
<circle cx="551.1" cy="880.8" r="0.5"/>
<circle cx="547.6" cy="880.8" r="0.5"/>
<circle cx="540.5" cy="880.8" r="0.5"/>
<circle cx="540.1" cy="880.8" r="0.5"/>
<circle cx="550.1" cy="880.8" r="0.5"/>
<circle cx="538.7" cy="880.8" r="0.5"/>
<circle cx="538.4" cy="880.8" r="0.5"/>
<circle cx="538.0" cy="880.8" r="0.5"/>
<circle cx="536.9" cy="880.8" r="0.5"/>
<circle cx="539.9" cy="880.8" r="0.5"/>
<circle cx="536.8" cy="880.8" r="0.5"/>
<circle cx="537.9" cy="880.8" r="0.5"/>
<circle cx="539.0" cy="880.8" r="0.5"/>
<circle cx="538.7" cy="880.8" r="0.5"/>
<circle cx="526.8" cy="880.8" r="0.5"/>
<circle cx="534.0" cy="880.8" r="0.5"/>
<circle cx="537.1" cy="880.9" r="0.5"/>
<circle cx="533.0" cy="880.9" r="0.5"/>
<circle cx="538.0" cy="880.9" r="0.5"/>
<circle cx="536.3" cy="880.9" r="0.5"/>
<circle cx="529.3" cy="880.9" r="0.5"/>
<circle cx="547.4" cy="880.9" r="0.5"/>
<circle cx="542.0" cy="880.9" r="0.5"/>
<circle cx="527.4" cy="880.9" r="0.5"/>
<circle cx="545.1" cy="880.9" r="0.5"/>
<circle cx="537.2" cy="880.9" r="0.5"/>
<circle cx="541.6" cy="880.9" r="0.5"/>
<circle cx="534.7" cy="880.9" r="0.5"/>
<circle cx="547.8" cy="880.9" r="0.5"/>
<circle cx="537.8" cy="880.9" r="0.5"/>
<circle cx="535.6" cy="880.9" r="0.5"/>
<circle cx="540.2" cy="880.9" r="0.5"/>
<circle cx="532.3" cy="880.9" r="0.5"/>
<circle cx="535.9" cy="880.9" r="0.5"/>
<circle cx="531.9" cy="881.0" r="0.5"/>
<circle cx="538.3" cy="881.0" r="0.5"/>
<circle cx="543.7" cy="881.0" r="0.5"/>
<circle cx="534.5" cy="881.0" r="0.5"/>
<circle cx="558.3" cy="881.0" r="0.5"/>
<circle cx="533.9" cy="881.0" r="0.5"/>
<circle cx="542.6" cy="881.0" r="0.5"/>
<circle cx="537.9" cy="881.0" r="0.5"/>
<circle cx="536.6" cy="881.0" r="0.5"/>
<circle cx="543.0" cy="881.0" r="0.5"/>
<circle cx="541.2" cy="881.0" r="0.5"/>
<circle cx="538.5" cy="881.0" r="0.5"/>
<circle cx="531.9" cy="881.1" r="0.5"/>
<circle cx="548.4" cy="881.1" r="0.5"/>
<circle cx="540.2" cy="881.1" r="0.5"/>
<circle cx="534.6" cy="881.1" r="0.5"/>
<circle cx="539.3" cy="881.1" r="0.5"/>
<circle cx="532.3" cy="881.1" r="0.5"/>
<circle cx="531.5" cy="881.1" r="0.5"/>
<circle cx="544.0" cy="881.1" r="0.5"/>
<circle cx="536.3" cy="881.1" r="0.5"/>
<circle cx="535.3" cy="881.1" r="0.5"/>
<circle cx="542.7" cy="881.1" r="0.5"/>
<circle cx="545.3" cy="881.1" r="0.5"/>
<circle cx="533.9" cy="881.1" r="0.5"/>
<circle cx="529.6" cy="881.1" r="0.5"/>
<circle cx="531.9" cy="881.1" r="0.5"/>
<circle cx="531.5" cy="881.1" r="0.5"/>
<circle cx="537.2" cy="881.1" r="0.5"/>
<circle cx="536.9" cy="881.1" r="0.5"/>
<circle cx="538.7" cy="881.1" r="0.5"/>
<circle cx="532.7" cy="881.2" r="0.5"/>
<circle cx="537.1" cy="881.2" r="0.5"/>
<circle cx="537.5" cy="881.2" r="0.5"/>
<circle cx="539.7" cy="881.2" r="0.5"/>
<circle cx="528.9" cy="881.2" r="0.5"/>
<circle cx="535.5" cy="881.2" r="0.5"/>
<circle cx="522.9" cy="881.2" r="0.5"/>
<circle cx="537.3" cy="881.2" r="0.5"/>
<circle cx="541.7" cy="881.2" r="0.5"/>
<circle cx="537.2" cy="881.2" r="0.5"/>
<circle cx="538.3" cy="881.2" r="0.5"/>
<circle cx="536.1" cy="881.2" r="0.5"/>
<circle cx="547.2" cy="881.2" r="0.5"/>
<circle cx="534.7" cy="881.2" r="0.5"/>
<circle cx="546.7" cy="881.2" r="0.5"/>
<circle cx="526.6" cy="881.2" r="0.5"/>
<circle cx="535.0" cy="881.2" r="0.5"/>
<circle cx="536.2" cy="881.2" r="0.5"/>
<circle cx="533.0" cy="881.3" r="0.5"/>
<circle cx="539.9" cy="881.3" r="0.5"/>
<circle cx="549.5" cy="881.3" r="0.5"/>
<circle cx="538.7" cy="881.3" r="0.5"/>
<circle cx="544.4" cy="881.3" r="0.5"/>
<circle cx="536.5" cy="881.3" r="0.5"/>
<circle cx="535.1" cy="881.3" r="0.5"/>
<circle cx="540.3" cy="881.3" r="0.5"/>
<circle cx="539.1" cy="881.3" r="0.5"/>
<circle cx="541.4" cy="881.3" r="0.5"/>
<circle cx="529.0" cy="881.3" r="0.5"/>
<circle cx="539.2" cy="881.3" r="0.5"/>
<circle cx="531.1" cy="881.3" r="0.5"/>
<circle cx="539.2" cy="881.3" r="0.5"/>
<circle cx="537.0" cy="881.3" r="0.5"/>
<circle cx="537.3" cy="881.3" r="0.5"/>
<circle cx="537.8" cy="881.4" r="0.5"/>
<circle cx="534.9" cy="881.4" r="0.5"/>
<circle cx="540.1" cy="881.4" r="0.5"/>
<circle cx="538.5" cy="881.4" r="0.5"/>
<circle cx="522.2" cy="881.4" r="0.5"/>
<circle cx="538.9" cy="881.4" r="0.5"/>
<circle cx="543.0" cy="881.4" r="0.5"/>
<circle cx="535.2" cy="881.4" r="0.5"/>
<circle cx="540.8" cy="881.4" r="0.5"/>
<circle cx="538.9" cy="881.4" r="0.5"/>
<circle cx="536.9" cy="881.4" r="0.5"/>
<circle cx="536.4" cy="881.4" r="0.5"/>
<circle cx="535.3" cy="881.4" r="0.5"/>
<circle cx="539.0" cy="881.4" r="0.5"/>
<circle cx="551.6" cy="881.4" r="0.5"/>
<circle cx="532.1" cy="881.4" r="0.5"/>
<circle cx="536.7" cy="881.4" r="0.5"/>
<circle cx="543.0" cy="881.4" r="0.5"/>
<circle cx="531.9" cy="881.4" r="0.5"/>
<circle cx="536.9" cy="881.4" r="0.5"/>
<circle cx="535.0" cy="881.4" r="0.5"/>
<circle cx="537.1" cy="881.5" r="0.5"/>
<circle cx="543.6" cy="881.5" r="0.5"/>
<circle cx="537.4" cy="881.5" r="0.5"/>
<circle cx="535.4" cy="881.5" r="0.5"/>
<circle cx="534.3" cy="881.5" r="0.5"/>
<circle cx="536.1" cy="881.5" r="0.5"/>
<circle cx="538.8" cy="881.5" r="0.5"/>
<circle cx="539.0" cy="881.5" r="0.5"/>
<circle cx="536.2" cy="881.5" r="0.5"/>
<circle cx="539.9" cy="881.5" r="0.5"/>
<circle cx="563.1" cy="881.5" r="0.5"/>
<circle cx="540.5" cy="881.5" r="0.5"/>
<circle cx="539.9" cy="881.5" r="0.5"/>
<circle cx="539.0" cy="881.5" r="0.5"/>
<circle cx="524.2" cy="881.5" r="0.5"/>
<circle cx="541.6" cy="881.5" r="0.5"/>
<circle cx="532.0" cy="881.6" r="0.5"/>
<circle cx="539.8" cy="881.6" r="0.5"/>
<circle cx="537.7" cy="881.6" r="0.5"/>
<circle cx="537.3" cy="881.6" r="0.5"/>
<circle cx="540.4" cy="881.6" r="0.5"/>
<circle cx="538.6" cy="881.6" r="0.5"/>
<circle cx="544.4" cy="881.6" r="0.5"/>
<circle cx="534.9" cy="881.6" r="0.5"/>
<circle cx="530.7" cy="881.6" r="0.5"/>
<circle cx="538.3" cy="881.6" r="0.5"/>
<circle cx="556.1" cy="881.6" r="0.5"/>
<circle cx="538.4" cy="881.6" r="0.5"/>
<circle cx="536.5" cy="881.6" r="0.5"/>
<circle cx="536.8" cy="881.6" r="0.5"/>
<circle cx="542.7" cy="881.6" r="0.5"/>
<circle cx="547.2" cy="881.6" r="0.5"/>
<circle cx="544.0" cy="881.6" r="0.5"/>
<circle cx="529.3" cy="881.6" r="0.5"/>
<circle cx="536.2" cy="881.6" r="0.5"/>
<circle cx="537.2" cy="881.6" r="0.5"/>
<circle cx="535.2" cy="881.7" r="0.5"/>
<circle cx="536.8" cy="881.7" r="0.5"/>
<circle cx="540.4" cy="881.7" r="0.5"/>
<circle cx="537.0" cy="881.7" r="0.5"/>
<circle cx="548.0" cy="881.7" r="0.5"/>
<circle cx="534.6" cy="881.7" r="0.5"/>
<circle cx="542.9" cy="881.7" r="0.5"/>
<circle cx="537.1" cy="881.7" r="0.5"/>
<circle cx="535.7" cy="881.7" r="0.5"/>
<circle cx="536.1" cy="881.7" r="0.5"/>
<circle cx="541.6" cy="881.7" r="0.5"/>
<circle cx="552.5" cy="881.7" r="0.5"/>
<circle cx="536.1" cy="881.7" r="0.5"/>
<circle cx="536.7" cy="881.7" r="0.5"/>
<circle cx="539.1" cy="881.7" r="0.5"/>
<circle cx="540.5" cy="881.7" r="0.5"/>
<circle cx="545.6" cy="881.7" r="0.5"/>
<circle cx="535.0" cy="881.7" r="0.5"/>
<circle cx="518.1" cy="881.7" r="0.5"/>
<circle cx="526.7" cy="881.7" r="0.5"/>
<circle cx="543.0" cy="881.7" r="0.5"/>
<circle cx="537.7" cy="881.7" r="0.5"/>
<circle cx="531.8" cy="881.7" r="0.5"/>
<circle cx="536.5" cy="881.7" r="0.5"/>
<circle cx="541.8" cy="881.7" r="0.5"/>
<circle cx="536.7" cy="881.8" r="0.5"/>
<circle cx="534.4" cy="881.8" r="0.5"/>
<circle cx="538.5" cy="881.8" r="0.5"/>
<circle cx="540.3" cy="881.8" r="0.5"/>
<circle cx="540.0" cy="881.8" r="0.5"/>
<circle cx="534.5" cy="881.8" r="0.5"/>
<circle cx="535.3" cy="881.8" r="0.5"/>
<circle cx="534.9" cy="881.8" r="0.5"/>
<circle cx="546.9" cy="881.8" r="0.5"/>
<circle cx="545.0" cy="881.8" r="0.5"/>
<circle cx="534.7" cy="881.8" r="0.5"/>
<circle cx="547.6" cy="881.8" r="0.5"/>
<circle cx="538.8" cy="881.8" r="0.5"/>
<circle cx="536.5" cy="881.8" r="0.5"/>
<circle cx="534.8" cy="881.8" r="0.5"/>
<circle cx="532.6" cy="881.8" r="0.5"/>
<circle cx="540.0" cy="881.8" r="0.5"/>
<circle cx="540.6" cy="881.8" r="0.5"/>
<circle cx="543.2" cy="881.8" r="0.5"/>
<circle cx="533.4" cy="881.8" r="0.5"/>
<circle cx="534.7" cy="881.8" r="0.5"/>
<circle cx="534.5" cy="881.8" r="0.5"/>
<circle cx="538.5" cy="881.8" r="0.5"/>
<circle cx="537.6" cy="881.8" r="0.5"/>
<circle cx="537.2" cy="881.8" r="0.5"/>
<circle cx="528.7" cy="881.9" r="0.5"/>
<circle cx="532.6" cy="881.9" r="0.5"/>
<circle cx="533.9" cy="881.9" r="0.5"/>
<circle cx="537.1" cy="881.9" r="0.5"/>
<circle cx="539.2" cy="881.9" r="0.5"/>
<circle cx="536.8" cy="881.9" r="0.5"/>
<circle cx="549.0" cy="881.9" r="0.5"/>
<circle cx="538.5" cy="881.9" r="0.5"/>
<circle cx="534.1" cy="881.9" r="0.5"/>
<circle cx="541.2" cy="881.9" r="0.5"/>
<circle cx="532.9" cy="881.9" r="0.5"/>
<circle cx="541.4" cy="882.0" r="0.5"/>
<circle cx="536.8" cy="882.0" r="0.5"/>
<circle cx="536.8" cy="882.0" r="0.5"/>
<circle cx="538.6" cy="882.0" r="0.5"/>
<circle cx="542.3" cy="882.0" r="0.5"/>
<circle cx="531.7" cy="882.0" r="0.5"/>
<circle cx="536.6" cy="882.0" r="0.5"/>
<circle cx="532.7" cy="882.0" r="0.5"/>
<circle cx="531.2" cy="882.0" r="0.5"/>
<circle cx="545.1" cy="882.0" r="0.5"/>
<circle cx="538.5" cy="882.0" r="0.5"/>
<circle cx="534.2" cy="882.0" r="0.5"/>
<circle cx="535.6" cy="882.0" r="0.5"/>
<circle cx="534.1" cy="882.0" r="0.5"/>
<circle cx="533.1" cy="882.0" r="0.5"/>
<circle cx="532.1" cy="882.0" r="0.5"/>
<circle cx="539.0" cy="882.0" r="0.5"/>
<circle cx="543.0" cy="882.0" r="0.5"/>
<circle cx="545.3" cy="882.0" r="0.5"/>
<circle cx="543.5" cy="882.0" r="0.5"/>
<circle cx="537.9" cy="882.0" r="0.5"/>
<circle cx="540.4" cy="882.0" r="0.5"/>
<circle cx="535.0" cy="882.0" r="0.5"/>
<circle cx="538.8" cy="882.0" r="0.5"/>
<circle cx="543.2" cy="882.0" r="0.5"/>
<circle cx="536.1" cy="882.0" r="0.5"/>
<circle cx="533.7" cy="882.0" r="0.5"/>
<circle cx="538.3" cy="882.0" r="0.5"/>
<circle cx="537.3" cy="882.0" r="0.5"/>
<circle cx="529.0" cy="882.0" r="0.5"/>
<circle cx="511.0" cy="882.0" r="0.5"/>
<circle cx="538.3" cy="882.0" r="0.5"/>
<circle cx="536.0" cy="882.0" r="0.5"/>
<circle cx="520.9" cy="882.0" r="0.5"/>
<circle cx="537.3" cy="882.1" r="0.5"/>
<circle cx="539.2" cy="882.1" r="0.5"/>
<circle cx="533.6" cy="882.1" r="0.5"/>
<circle cx="534.0" cy="882.1" r="0.5"/>
<circle cx="553.5" cy="882.1" r="0.5"/>
<circle cx="530.4" cy="882.1" r="0.5"/>
<circle cx="536.6" cy="882.1" r="0.5"/>
<circle cx="535.0" cy="882.1" r="0.5"/>
<circle cx="536.0" cy="882.1" r="0.5"/>
<circle cx="535.9" cy="882.1" r="0.5"/>
<circle cx="531.7" cy="882.1" r="0.5"/>
<circle cx="540.3" cy="882.1" r="0.5"/>
<circle cx="524.9" cy="882.1" r="0.5"/>
<circle cx="546.2" cy="882.1" r="0.5"/>
<circle cx="539.5" cy="882.1" r="0.5"/>
<circle cx="537.7" cy="882.1" r="0.5"/>
<circle cx="540.6" cy="882.1" r="0.5"/>
<circle cx="538.9" cy="882.1" r="0.5"/>
<circle cx="543.9" cy="882.1" r="0.5"/>
<circle cx="541.4" cy="882.1" r="0.5"/>
<circle cx="535.9" cy="882.1" r="0.5"/>
<circle cx="536.1" cy="882.1" r="0.5"/>
<circle cx="538.7" cy="882.1" r="0.5"/>
<circle cx="534.1" cy="882.1" r="0.5"/>
<circle cx="536.9" cy="882.2" r="0.5"/>
<circle cx="542.2" cy="882.2" r="0.5"/>
<circle cx="544.5" cy="882.2" r="0.5"/>
<circle cx="549.8" cy="882.2" r="0.5"/>
<circle cx="537.7" cy="882.2" r="0.5"/>
<circle cx="542.5" cy="882.2" r="0.5"/>
<circle cx="521.4" cy="882.2" r="0.5"/>
<circle cx="532.7" cy="882.2" r="0.5"/>
<circle cx="538.4" cy="882.2" r="0.5"/>
<circle cx="534.2" cy="882.2" r="0.5"/>
<circle cx="550.6" cy="882.2" r="0.5"/>
<circle cx="546.7" cy="882.2" r="0.5"/>
<circle cx="539.4" cy="882.2" r="0.5"/>
<circle cx="537.4" cy="882.2" r="0.5"/>
<circle cx="543.2" cy="882.2" r="0.5"/>
<circle cx="526.8" cy="882.2" r="0.5"/>
<circle cx="534.7" cy="882.2" r="0.5"/>
<circle cx="533.9" cy="882.2" r="0.5"/>
<circle cx="529.6" cy="882.2" r="0.5"/>
<circle cx="532.4" cy="882.2" r="0.5"/>
<circle cx="538.4" cy="882.2" r="0.5"/>
<circle cx="509.2" cy="882.2" r="0.5"/>
<circle cx="534.0" cy="882.2" r="0.5"/>
<circle cx="541.6" cy="882.2" r="0.5"/>
<circle cx="534.7" cy="882.2" r="0.5"/>
<circle cx="561.1" cy="882.2" r="0.5"/>
<circle cx="538.1" cy="882.3" r="0.5"/>
<circle cx="533.2" cy="882.3" r="0.5"/>
<circle cx="539.8" cy="882.3" r="0.5"/>
<circle cx="539.9" cy="882.3" r="0.5"/>
<circle cx="543.2" cy="882.3" r="0.5"/>
<circle cx="536.6" cy="882.3" r="0.5"/>
<circle cx="531.6" cy="882.3" r="0.5"/>
<circle cx="532.6" cy="882.3" r="0.5"/>
<circle cx="543.1" cy="882.3" r="0.5"/>
<circle cx="544.7" cy="882.3" r="0.5"/>
<circle cx="529.7" cy="882.3" r="0.5"/>
<circle cx="542.7" cy="882.3" r="0.5"/>
<circle cx="537.3" cy="882.3" r="0.5"/>
<circle cx="533.9" cy="882.3" r="0.5"/>
<circle cx="532.7" cy="882.3" r="0.5"/>
<circle cx="535.7" cy="882.3" r="0.5"/>
<circle cx="537.0" cy="882.3" r="0.5"/>
<circle cx="537.3" cy="882.3" r="0.5"/>
<circle cx="540.6" cy="882.3" r="0.5"/>
<circle cx="538.2" cy="882.3" r="0.5"/>
<circle cx="531.5" cy="882.4" r="0.5"/>
<circle cx="538.6" cy="882.4" r="0.5"/>
<circle cx="545.3" cy="882.4" r="0.5"/>
<circle cx="528.7" cy="882.4" r="0.5"/>
<circle cx="537.0" cy="882.4" r="0.5"/>
<circle cx="529.9" cy="882.4" r="0.5"/>
<circle cx="542.6" cy="882.4" r="0.5"/>
<circle cx="550.1" cy="882.4" r="0.5"/>
<circle cx="537.5" cy="882.4" r="0.5"/>
<circle cx="539.2" cy="882.4" r="0.5"/>
<circle cx="536.8" cy="882.4" r="0.5"/>
<circle cx="543.9" cy="882.4" r="0.5"/>
<circle cx="532.7" cy="882.4" r="0.5"/>
<circle cx="541.6" cy="882.4" r="0.5"/>
<circle cx="541.4" cy="882.4" r="0.5"/>
<circle cx="542.3" cy="882.4" r="0.5"/>
<circle cx="537.3" cy="882.4" r="0.5"/>
<circle cx="541.0" cy="882.4" r="0.5"/>
<circle cx="529.8" cy="882.4" r="0.5"/>
<circle cx="536.5" cy="882.4" r="0.5"/>
<circle cx="539.4" cy="882.5" r="0.5"/>
<circle cx="540.7" cy="882.5" r="0.5"/>
<circle cx="546.5" cy="882.5" r="0.5"/>
<circle cx="541.3" cy="882.5" r="0.5"/>
<circle cx="548.5" cy="882.5" r="0.5"/>
<circle cx="542.9" cy="882.5" r="0.5"/>
<circle cx="538.8" cy="882.5" r="0.5"/>
<circle cx="535.4" cy="882.5" r="0.5"/>
<circle cx="541.5" cy="882.5" r="0.5"/>
<circle cx="532.7" cy="882.5" r="0.5"/>
<circle cx="541.5" cy="882.5" r="0.5"/>
<circle cx="543.9" cy="882.5" r="0.5"/>
<circle cx="537.3" cy="882.5" r="0.5"/>
<circle cx="539.2" cy="882.5" r="0.5"/>
<circle cx="538.0" cy="882.5" r="0.5"/>
<circle cx="535.2" cy="882.5" r="0.5"/>
<circle cx="539.2" cy="882.5" r="0.5"/>
<circle cx="538.9" cy="882.5" r="0.5"/>
<circle cx="570.4" cy="882.6" r="0.5"/>
<circle cx="552.6" cy="882.6" r="0.5"/>
<circle cx="537.4" cy="882.6" r="0.5"/>
<circle cx="533.6" cy="882.6" r="0.5"/>
<circle cx="547.9" cy="882.6" r="0.5"/>
<circle cx="539.1" cy="882.6" r="0.5"/>
<circle cx="535.7" cy="882.6" r="0.5"/>
<circle cx="540.6" cy="882.6" r="0.5"/>
<circle cx="537.5" cy="882.6" r="0.5"/>
<circle cx="539.7" cy="882.6" r="0.5"/>
<circle cx="547.4" cy="882.6" r="0.5"/>
<circle cx="538.7" cy="882.6" r="0.5"/>
<circle cx="537.1" cy="882.6" r="0.5"/>
<circle cx="542.9" cy="882.6" r="0.5"/>
<circle cx="541.4" cy="882.6" r="0.5"/>
<circle cx="546.0" cy="882.6" r="0.5"/>
<circle cx="537.2" cy="882.6" r="0.5"/>
<circle cx="547.7" cy="882.6" r="0.5"/>
<circle cx="530.1" cy="882.6" r="0.5"/>
<circle cx="542.7" cy="882.7" r="0.5"/>
<circle cx="540.5" cy="882.7" r="0.5"/>
<circle cx="537.7" cy="882.7" r="0.5"/>
<circle cx="543.0" cy="882.7" r="0.5"/>
<circle cx="538.5" cy="882.7" r="0.5"/>
<circle cx="534.2" cy="882.7" r="0.5"/>
<circle cx="535.3" cy="882.7" r="0.5"/>
<circle cx="538.6" cy="882.7" r="0.5"/>
<circle cx="537.7" cy="882.7" r="0.5"/>
<circle cx="558.5" cy="882.7" r="0.5"/>
<circle cx="538.0" cy="882.7" r="0.5"/>
<circle cx="541.5" cy="882.7" r="0.5"/>
<circle cx="536.9" cy="882.7" r="0.5"/>
<circle cx="538.2" cy="882.8" r="0.5"/>
<circle cx="542.2" cy="882.8" r="0.5"/>
<circle cx="535.7" cy="882.8" r="0.5"/>
<circle cx="534.5" cy="882.8" r="0.5"/>
<circle cx="537.2" cy="882.8" r="0.5"/>
<circle cx="542.3" cy="882.8" r="0.5"/>
<circle cx="537.2" cy="882.8" r="0.5"/>
<circle cx="528.8" cy="882.8" r="0.5"/>
<circle cx="538.6" cy="882.8" r="0.5"/>
<circle cx="529.9" cy="882.8" r="0.5"/>
<circle cx="531.8" cy="882.8" r="0.5"/>
<circle cx="538.2" cy="882.8" r="0.5"/>
<circle cx="536.1" cy="882.8" r="0.5"/>
<circle cx="532.0" cy="882.8" r="0.5"/>
<circle cx="539.6" cy="882.8" r="0.5"/>
<circle cx="537.0" cy="882.8" r="0.5"/>
<circle cx="509.7" cy="882.8" r="0.5"/>
<circle cx="531.1" cy="882.8" r="0.5"/>
<circle cx="539.9" cy="882.8" r="0.5"/>
<circle cx="546.8" cy="882.8" r="0.5"/>
<circle cx="531.1" cy="882.8" r="0.5"/>
<circle cx="538.1" cy="882.8" r="0.5"/>
<circle cx="555.1" cy="882.8" r="0.5"/>
<circle cx="549.1" cy="882.8" r="0.5"/>
<circle cx="537.4" cy="882.8" r="0.5"/>
<circle cx="534.1" cy="882.8" r="0.5"/>
<circle cx="535.5" cy="882.8" r="0.5"/>
<circle cx="533.6" cy="882.8" r="0.5"/>
<circle cx="536.7" cy="882.8" r="0.5"/>
<circle cx="537.5" cy="882.9" r="0.5"/>
<circle cx="538.6" cy="882.9" r="0.5"/>
<circle cx="557.3" cy="882.9" r="0.5"/>
<circle cx="537.7" cy="882.9" r="0.5"/>
<circle cx="541.2" cy="882.9" r="0.5"/>
<circle cx="549.8" cy="882.9" r="0.5"/>
<circle cx="529.5" cy="882.9" r="0.5"/>
<circle cx="539.2" cy="882.9" r="0.5"/>
<circle cx="505.0" cy="882.9" r="0.5"/>
<circle cx="533.4" cy="882.9" r="0.5"/>
<circle cx="543.5" cy="882.9" r="0.5"/>
<circle cx="540.6" cy="882.9" r="0.5"/>
<circle cx="537.4" cy="882.9" r="0.5"/>
<circle cx="528.5" cy="882.9" r="0.5"/>
<circle cx="536.9" cy="882.9" r="0.5"/>
<circle cx="532.8" cy="882.9" r="0.5"/>
<circle cx="533.5" cy="882.9" r="0.5"/>
<circle cx="534.0" cy="882.9" r="0.5"/>
<circle cx="536.3" cy="882.9" r="0.5"/>
<circle cx="537.5" cy="882.9" r="0.5"/>
<circle cx="536.2" cy="882.9" r="0.5"/>
<circle cx="546.1" cy="882.9" r="0.5"/>
<circle cx="537.0" cy="882.9" r="0.5"/>
<circle cx="528.7" cy="883.0" r="0.5"/>
<circle cx="537.6" cy="883.0" r="0.5"/>
<circle cx="538.3" cy="883.0" r="0.5"/>
<circle cx="546.2" cy="883.0" r="0.5"/>
<circle cx="531.0" cy="883.0" r="0.5"/>
<circle cx="538.6" cy="883.0" r="0.5"/>
<circle cx="536.4" cy="883.0" r="0.5"/>
<circle cx="540.0" cy="883.0" r="0.5"/>
<circle cx="540.3" cy="883.0" r="0.5"/>
<circle cx="542.5" cy="883.0" r="0.5"/>
<circle cx="532.7" cy="883.0" r="0.5"/>
<circle cx="535.0" cy="883.0" r="0.5"/>
<circle cx="533.2" cy="883.0" r="0.5"/>
<circle cx="537.5" cy="883.0" r="0.5"/>
<circle cx="529.9" cy="883.0" r="0.5"/>
<circle cx="539.7" cy="883.1" r="0.5"/>
<circle cx="537.4" cy="883.1" r="0.5"/>
<circle cx="546.9" cy="883.1" r="0.5"/>
<circle cx="536.6" cy="883.1" r="0.5"/>
<circle cx="541.9" cy="883.1" r="0.5"/>
<circle cx="537.6" cy="883.1" r="0.5"/>
<circle cx="535.3" cy="883.1" r="0.5"/>
<circle cx="534.3" cy="883.1" r="0.5"/>
<circle cx="540.9" cy="883.1" r="0.5"/>
<circle cx="537.7" cy="883.1" r="0.5"/>
<circle cx="528.1" cy="883.1" r="0.5"/>
<circle cx="547.6" cy="883.1" r="0.5"/>
<circle cx="538.1" cy="883.1" r="0.5"/>
<circle cx="530.3" cy="883.1" r="0.5"/>
<circle cx="551.2" cy="883.1" r="0.5"/>
<circle cx="544.3" cy="883.1" r="0.5"/>
<circle cx="529.5" cy="883.1" r="0.5"/>
<circle cx="535.5" cy="883.1" r="0.5"/>
<circle cx="537.4" cy="883.1" r="0.5"/>
<circle cx="541.9" cy="883.1" r="0.5"/>
<circle cx="540.1" cy="883.1" r="0.5"/>
<circle cx="536.6" cy="883.1" r="0.5"/>
<circle cx="535.2" cy="883.1" r="0.5"/>
<circle cx="547.6" cy="883.1" r="0.5"/>
<circle cx="530.3" cy="883.1" r="0.5"/>
<circle cx="543.0" cy="883.2" r="0.5"/>
<circle cx="541.9" cy="883.2" r="0.5"/>
<circle cx="510.0" cy="883.2" r="0.5"/>
<circle cx="536.4" cy="883.2" r="0.5"/>
<circle cx="537.4" cy="883.2" r="0.5"/>
<circle cx="534.0" cy="883.2" r="0.5"/>
<circle cx="542.9" cy="883.2" r="0.5"/>
<circle cx="530.6" cy="883.2" r="0.5"/>
<circle cx="550.0" cy="883.2" r="0.5"/>
<circle cx="546.0" cy="883.2" r="0.5"/>
<circle cx="540.9" cy="883.2" r="0.5"/>
<circle cx="539.0" cy="883.2" r="0.5"/>
<circle cx="530.1" cy="883.2" r="0.5"/>
<circle cx="540.4" cy="883.2" r="0.5"/>
<circle cx="541.5" cy="883.2" r="0.5"/>
<circle cx="550.6" cy="883.2" r="0.5"/>
<circle cx="534.5" cy="883.2" r="0.5"/>
<circle cx="538.1" cy="883.2" r="0.5"/>
<circle cx="538.2" cy="883.2" r="0.5"/>
<circle cx="529.9" cy="883.2" r="0.5"/>
<circle cx="538.4" cy="883.2" r="0.5"/>
<circle cx="556.0" cy="883.2" r="0.5"/>
<circle cx="533.8" cy="883.2" r="0.5"/>
<circle cx="537.6" cy="883.2" r="0.5"/>
<circle cx="549.7" cy="883.2" r="0.5"/>
<circle cx="531.8" cy="883.2" r="0.5"/>
<circle cx="509.6" cy="883.3" r="0.5"/>
<circle cx="543.3" cy="883.3" r="0.5"/>
<circle cx="535.3" cy="883.3" r="0.5"/>
<circle cx="538.0" cy="883.3" r="0.5"/>
<circle cx="532.8" cy="883.3" r="0.5"/>
<circle cx="537.7" cy="883.3" r="0.5"/>
<circle cx="544.9" cy="883.3" r="0.5"/>
<circle cx="545.6" cy="883.3" r="0.5"/>
<circle cx="541.9" cy="883.3" r="0.5"/>
<circle cx="537.5" cy="883.3" r="0.5"/>
<circle cx="542.6" cy="883.3" r="0.5"/>
<circle cx="535.9" cy="883.3" r="0.5"/>
<circle cx="543.5" cy="883.3" r="0.5"/>
<circle cx="536.0" cy="883.3" r="0.5"/>
<circle cx="536.7" cy="883.3" r="0.5"/>
<circle cx="544.3" cy="883.3" r="0.5"/>
<circle cx="539.1" cy="883.3" r="0.5"/>
<circle cx="534.2" cy="883.3" r="0.5"/>
<circle cx="535.2" cy="883.3" r="0.5"/>
<circle cx="536.8" cy="883.3" r="0.5"/>
<circle cx="533.7" cy="883.3" r="0.5"/>
<circle cx="535.0" cy="883.3" r="0.5"/>
<circle cx="540.1" cy="883.3" r="0.5"/>
<circle cx="541.2" cy="883.3" r="0.5"/>
<circle cx="533.4" cy="883.3" r="0.5"/>
<circle cx="549.8" cy="883.3" r="0.5"/>
<circle cx="538.4" cy="883.3" r="0.5"/>
<circle cx="532.1" cy="883.3" r="0.5"/>
<circle cx="529.2" cy="883.4" r="0.5"/>
<circle cx="543.2" cy="883.4" r="0.5"/>
<circle cx="537.8" cy="883.4" r="0.5"/>
<circle cx="545.1" cy="883.4" r="0.5"/>
<circle cx="538.1" cy="883.4" r="0.5"/>
<circle cx="524.9" cy="883.4" r="0.5"/>
<circle cx="539.8" cy="883.4" r="0.5"/>
<circle cx="540.7" cy="883.4" r="0.5"/>
<circle cx="538.6" cy="883.4" r="0.5"/>
<circle cx="536.1" cy="883.4" r="0.5"/>
<circle cx="540.5" cy="883.4" r="0.5"/>
<circle cx="543.9" cy="883.4" r="0.5"/>
<circle cx="538.0" cy="883.4" r="0.5"/>
<circle cx="537.9" cy="883.4" r="0.5"/>
<circle cx="539.0" cy="883.4" r="0.5"/>
<circle cx="540.1" cy="883.4" r="0.5"/>
<circle cx="527.9" cy="883.4" r="0.5"/>
<circle cx="538.2" cy="883.4" r="0.5"/>
<circle cx="528.3" cy="883.4" r="0.5"/>
<circle cx="539.4" cy="883.4" r="0.5"/>
<circle cx="540.7" cy="883.4" r="0.5"/>
<circle cx="541.6" cy="883.5" r="0.5"/>
<circle cx="534.5" cy="883.5" r="0.5"/>
<circle cx="537.4" cy="883.5" r="0.5"/>
<circle cx="528.7" cy="883.5" r="0.5"/>
<circle cx="545.7" cy="883.5" r="0.5"/>
<circle cx="542.2" cy="883.5" r="0.5"/>
<circle cx="522.6" cy="883.5" r="0.5"/>
<circle cx="533.8" cy="883.5" r="0.5"/>
<circle cx="538.0" cy="883.5" r="0.5"/>
<circle cx="545.3" cy="883.5" r="0.5"/>
<circle cx="535.9" cy="883.5" r="0.5"/>
<circle cx="536.8" cy="883.5" r="0.5"/>
<circle cx="537.1" cy="883.5" r="0.5"/>
<circle cx="537.6" cy="883.5" r="0.5"/>
<circle cx="543.8" cy="883.5" r="0.5"/>
<circle cx="535.1" cy="883.5" r="0.5"/>
<circle cx="537.6" cy="883.5" r="0.5"/>
<circle cx="540.6" cy="883.5" r="0.5"/>
<circle cx="533.2" cy="883.5" r="0.5"/>
<circle cx="541.2" cy="883.5" r="0.5"/>
<circle cx="538.1" cy="883.5" r="0.5"/>
<circle cx="542.3" cy="883.5" r="0.5"/>
<circle cx="538.8" cy="883.5" r="0.5"/>
<circle cx="541.3" cy="883.5" r="0.5"/>
<circle cx="537.7" cy="883.5" r="0.5"/>
<circle cx="530.6" cy="883.5" r="0.5"/>
<circle cx="533.8" cy="883.5" r="0.5"/>
<circle cx="537.0" cy="883.5" r="0.5"/>
<circle cx="520.5" cy="883.5" r="0.5"/>
<circle cx="538.2" cy="883.5" r="0.5"/>
<circle cx="539.2" cy="883.6" r="0.5"/>
<circle cx="536.9" cy="883.6" r="0.5"/>
<circle cx="536.2" cy="883.6" r="0.5"/>
<circle cx="539.7" cy="883.6" r="0.5"/>
<circle cx="542.2" cy="883.6" r="0.5"/>
<circle cx="548.2" cy="883.6" r="0.5"/>
<circle cx="540.8" cy="883.6" r="0.5"/>
<circle cx="534.4" cy="883.6" r="0.5"/>
<circle cx="539.2" cy="883.6" r="0.5"/>
<circle cx="538.9" cy="883.6" r="0.5"/>
<circle cx="532.6" cy="883.6" r="0.5"/>
<circle cx="541.6" cy="883.6" r="0.5"/>
<circle cx="538.0" cy="883.6" r="0.5"/>
<circle cx="531.7" cy="883.6" r="0.5"/>
<circle cx="538.1" cy="883.6" r="0.5"/>
<circle cx="524.4" cy="883.6" r="0.5"/>
<circle cx="538.7" cy="883.6" r="0.5"/>
<circle cx="540.6" cy="883.6" r="0.5"/>
<circle cx="532.5" cy="883.6" r="0.5"/>
<circle cx="543.4" cy="883.6" r="0.5"/>
<circle cx="538.2" cy="883.6" r="0.5"/>
<circle cx="532.8" cy="883.6" r="0.5"/>
<circle cx="540.3" cy="883.6" r="0.5"/>
<circle cx="545.2" cy="883.6" r="0.5"/>
<circle cx="541.8" cy="883.6" r="0.5"/>
<circle cx="537.4" cy="883.6" r="0.5"/>
<circle cx="537.7" cy="883.6" r="0.5"/>
<circle cx="538.7" cy="883.6" r="0.5"/>
<circle cx="537.0" cy="883.6" r="0.5"/>
<circle cx="538.0" cy="883.6" r="0.5"/>
<circle cx="536.6" cy="883.7" r="0.5"/>
<circle cx="534.0" cy="883.7" r="0.5"/>
<circle cx="544.7" cy="883.7" r="0.5"/>
<circle cx="535.6" cy="883.7" r="0.5"/>
<circle cx="538.2" cy="883.7" r="0.5"/>
<circle cx="538.5" cy="883.7" r="0.5"/>
<circle cx="536.9" cy="883.7" r="0.5"/>
<circle cx="538.2" cy="883.7" r="0.5"/>
<circle cx="542.1" cy="883.7" r="0.5"/>
<circle cx="537.0" cy="883.7" r="0.5"/>
<circle cx="530.6" cy="883.7" r="0.5"/>
<circle cx="537.7" cy="883.7" r="0.5"/>
<circle cx="527.3" cy="883.7" r="0.5"/>
<circle cx="540.9" cy="883.7" r="0.5"/>
<circle cx="538.1" cy="883.8" r="0.5"/>
<circle cx="533.2" cy="883.8" r="0.5"/>
<circle cx="540.5" cy="883.8" r="0.5"/>
<circle cx="542.3" cy="883.8" r="0.5"/>
<circle cx="530.5" cy="883.8" r="0.5"/>
<circle cx="541.0" cy="883.8" r="0.5"/>
<circle cx="530.7" cy="883.8" r="0.5"/>
<circle cx="533.9" cy="883.8" r="0.5"/>
<circle cx="540.5" cy="883.8" r="0.5"/>
<circle cx="546.8" cy="883.8" r="0.5"/>
<circle cx="526.4" cy="883.8" r="0.5"/>
<circle cx="544.9" cy="883.8" r="0.5"/>
<circle cx="538.0" cy="883.8" r="0.5"/>
<circle cx="539.1" cy="883.8" r="0.5"/>
<circle cx="537.1" cy="883.8" r="0.5"/>
<circle cx="541.2" cy="883.8" r="0.5"/>
<circle cx="543.3" cy="883.8" r="0.5"/>
<circle cx="537.6" cy="883.8" r="0.5"/>
<circle cx="544.9" cy="883.8" r="0.5"/>
<circle cx="542.8" cy="883.8" r="0.5"/>
<circle cx="540.9" cy="883.8" r="0.5"/>
<circle cx="527.4" cy="883.8" r="0.5"/>
<circle cx="534.2" cy="883.8" r="0.5"/>
<circle cx="533.4" cy="883.8" r="0.5"/>
<circle cx="569.2" cy="883.8" r="0.5"/>
<circle cx="546.5" cy="883.9" r="0.5"/>
<circle cx="530.6" cy="883.9" r="0.5"/>
<circle cx="537.7" cy="883.9" r="0.5"/>
<circle cx="535.7" cy="883.9" r="0.5"/>
<circle cx="540.2" cy="883.9" r="0.5"/>
<circle cx="541.0" cy="883.9" r="0.5"/>
<circle cx="539.2" cy="883.9" r="0.5"/>
<circle cx="532.8" cy="883.9" r="0.5"/>
<circle cx="543.2" cy="883.9" r="0.5"/>
<circle cx="529.5" cy="883.9" r="0.5"/>
<circle cx="538.8" cy="883.9" r="0.5"/>
<circle cx="537.9" cy="883.9" r="0.5"/>
<circle cx="539.8" cy="883.9" r="0.5"/>
<circle cx="541.5" cy="883.9" r="0.5"/>
<circle cx="527.2" cy="883.9" r="0.5"/>
<circle cx="542.8" cy="883.9" r="0.5"/>
<circle cx="530.7" cy="884.0" r="0.5"/>
<circle cx="537.8" cy="884.0" r="0.5"/>
<circle cx="542.8" cy="884.0" r="0.5"/>
<circle cx="537.9" cy="884.0" r="0.5"/>
<circle cx="542.2" cy="884.0" r="0.5"/>
<circle cx="538.4" cy="884.0" r="0.5"/>
<circle cx="537.1" cy="884.0" r="0.5"/>
<circle cx="540.6" cy="884.0" r="0.5"/>
<circle cx="535.1" cy="884.0" r="0.5"/>
<circle cx="535.1" cy="884.0" r="0.5"/>
<circle cx="538.6" cy="884.0" r="0.5"/>
<circle cx="553.7" cy="884.0" r="0.5"/>
<circle cx="535.1" cy="884.0" r="0.5"/>
<circle cx="541.3" cy="884.0" r="0.5"/>
<circle cx="547.2" cy="884.0" r="0.5"/>
<circle cx="534.3" cy="884.0" r="0.5"/>
<circle cx="537.9" cy="884.0" r="0.5"/>
<circle cx="537.7" cy="884.0" r="0.5"/>
<circle cx="537.1" cy="884.0" r="0.5"/>
<circle cx="544.3" cy="884.0" r="0.5"/>
<circle cx="541.9" cy="884.0" r="0.5"/>
<circle cx="533.0" cy="884.0" r="0.5"/>
<circle cx="531.2" cy="884.0" r="0.5"/>
<circle cx="538.3" cy="884.0" r="0.5"/>
<circle cx="534.9" cy="884.0" r="0.5"/>
<circle cx="527.6" cy="884.1" r="0.5"/>
<circle cx="538.5" cy="884.1" r="0.5"/>
<circle cx="535.0" cy="884.1" r="0.5"/>
<circle cx="536.7" cy="884.1" r="0.5"/>
<circle cx="535.8" cy="884.1" r="0.5"/>
<circle cx="551.0" cy="884.1" r="0.5"/>
<circle cx="537.9" cy="884.1" r="0.5"/>
<circle cx="535.5" cy="884.1" r="0.5"/>
<circle cx="537.8" cy="884.1" r="0.5"/>
<circle cx="532.4" cy="884.1" r="0.5"/>
<circle cx="534.6" cy="884.1" r="0.5"/>
<circle cx="538.7" cy="884.1" r="0.5"/>
<circle cx="539.6" cy="884.1" r="0.5"/>
<circle cx="531.8" cy="884.1" r="0.5"/>
<circle cx="533.5" cy="884.1" r="0.5"/>
<circle cx="536.2" cy="884.1" r="0.5"/>
<circle cx="544.7" cy="884.1" r="0.5"/>
<circle cx="537.8" cy="884.1" r="0.5"/>
<circle cx="540.1" cy="884.1" r="0.5"/>
<circle cx="529.3" cy="884.1" r="0.5"/>
<circle cx="540.6" cy="884.1" r="0.5"/>
<circle cx="537.8" cy="884.1" r="0.5"/>
<circle cx="533.2" cy="884.1" r="0.5"/>
<circle cx="537.9" cy="884.1" r="0.5"/>
<circle cx="550.5" cy="884.2" r="0.5"/>
<circle cx="531.9" cy="884.2" r="0.5"/>
<circle cx="537.8" cy="884.2" r="0.5"/>
<circle cx="542.9" cy="884.2" r="0.5"/>
<circle cx="541.6" cy="884.2" r="0.5"/>
<circle cx="537.8" cy="884.2" r="0.5"/>
<circle cx="539.8" cy="884.2" r="0.5"/>
<circle cx="534.5" cy="884.2" r="0.5"/>
<circle cx="537.8" cy="884.2" r="0.5"/>
<circle cx="533.0" cy="884.2" r="0.5"/>
<circle cx="537.8" cy="884.2" r="0.5"/>
<circle cx="527.4" cy="884.2" r="0.5"/>
<circle cx="532.4" cy="884.2" r="0.5"/>
</g>
<line x1="96" y1="602.05" x2="981" y2="602.05" stroke="#999999" stroke-width="2.2" stroke-dasharray="17.4 7.7" stroke-dashoffset="0.4"/>
<line x1="472.63" y1="62" x2="472.63" y2="946" stroke="#5DC35D" stroke-width="2.1" stroke-dasharray="17.4 7.7" stroke-dashoffset="12.3"/>
<line x1="602.97" y1="62" x2="602.97" y2="946" stroke="#EC6B78" stroke-width="2.1" stroke-dasharray="17.4 7.7" stroke-dashoffset="12.3"/>
<g stroke="#A8A8A8" stroke-width="0.9" stroke-opacity="0.42">
<line x1="259" y1="285" x2="262" y2="277"/>
<line x1="150" y1="494" x2="140" y2="503"/>
<line x1="400" y1="445" x2="395" y2="452"/>
<line x1="350" y1="506" x2="344" y2="513"/>
<line x1="400" y1="559" x2="396" y2="566"/>
<line x1="378" y1="589" x2="384" y2="583"/>
<line x1="704" y1="297" x2="705" y2="304"/>
<line x1="713" y1="338" x2="705" y2="341"/>
<line x1="765" y1="364" x2="760" y2="371"/>
<line x1="697" y1="398" x2="692" y2="405"/>
<line x1="655" y1="437" x2="658" y2="428"/>
<line x1="752" y1="421" x2="748" y2="430"/>
<line x1="690" y1="463" x2="695" y2="456"/>
<line x1="686" y1="493" x2="678" y2="494"/>
<line x1="668" y1="524" x2="673" y2="531"/>
<line x1="716" y1="563" x2="712" y2="555"/>
<line x1="787" y1="584" x2="782" y2="576"/>
<line x1="683" y1="590" x2="687" y2="583"/>
<line x1="728" y1="612" x2="731" y2="604"/>
</g>
<circle cx="335.8" cy="102.0" r="9.2" fill="#D7F4D7"/>
<circle cx="335.8" cy="102.0" r="7.799999999999999" fill="#38C838"/>
<circle cx="266.3" cy="270.4" r="8.0" fill="#D6F3D6"/>
<circle cx="266.3" cy="270.4" r="6.6" fill="#33C633"/>
<circle cx="135.6" cy="508.2" r="6.9" fill="#DBF3D7"/>
<circle cx="135.6" cy="508.2" r="5.5" fill="#4CC43A"/>
<circle cx="391.7" cy="458.3" r="7.3" fill="#EBECD1"/>
<circle cx="391.7" cy="458.3" r="5.8999999999999995" fill="#9EA21C"/>
<circle cx="340.5" cy="518.6" r="7.0" fill="#E9EED2"/>
<circle cx="340.5" cy="518.6" r="5.6" fill="#94AA1E"/>
<circle cx="393.1" cy="570.8" r="6.2" fill="#EDECD1"/>
<circle cx="393.1" cy="570.8" r="4.8" fill="#A8A01C"/>
<circle cx="387.6" cy="579.7" r="6.1" fill="#EDECD1"/>
<circle cx="387.6" cy="579.7" r="4.699999999999999" fill="#A8A01C"/>
<circle cx="449.8" cy="553.9" r="6.1" fill="#EEEAD1"/>
<circle cx="449.8" cy="553.9" r="4.699999999999999" fill="#AE9A1A"/>
<circle cx="436.7" cy="570.0" r="6.0" fill="#EEEAD1"/>
<circle cx="436.7" cy="570.0" r="4.6" fill="#AE9A1A"/>
<circle cx="448.5" cy="578.6" r="6.0" fill="#EEEAD1"/>
<circle cx="448.5" cy="578.6" r="4.6" fill="#AE9A1A"/>
<circle cx="466.1" cy="577.7" r="6.0" fill="#EFEAD1"/>
<circle cx="466.1" cy="577.7" r="4.6" fill="#B0981A"/>
<circle cx="443.3" cy="595.9" r="5.9" fill="#EFEAD1"/>
<circle cx="443.3" cy="595.9" r="4.5" fill="#B0981A"/>
<circle cx="464.8" cy="593.4" r="5.9" fill="#EFEAD1"/>
<circle cx="464.8" cy="593.4" r="4.5" fill="#B0981A"/>
<circle cx="706.1" cy="311.2" r="8.0" fill="#F9DFCE"/>
<circle cx="706.1" cy="311.2" r="6.6" fill="#E2600C"/>
<circle cx="699.8" cy="343.3" r="7.7" fill="#F9DFCE"/>
<circle cx="699.8" cy="343.3" r="6.3" fill="#E2620C"/>
<circle cx="757.1" cy="377.0" r="7.6" fill="#FADDCE"/>
<circle cx="757.1" cy="377.0" r="6.199999999999999" fill="#E6580E"/>
<circle cx="689.3" cy="411.0" r="7.3" fill="#F8E0CE"/>
<circle cx="689.3" cy="411.0" r="5.8999999999999995" fill="#DE680C"/>
<circle cx="662.1" cy="422.6" r="7.2" fill="#F7E3CE"/>
<circle cx="662.1" cy="422.6" r="5.8" fill="#D8760E"/>
<circle cx="744.3" cy="435.7" r="7.1" fill="#F9DFCE"/>
<circle cx="744.3" cy="435.7" r="5.699999999999999" fill="#E2600E"/>
<circle cx="698.8" cy="451.2" r="7.0" fill="#F8E1CE"/>
<circle cx="698.8" cy="451.2" r="5.6" fill="#DE6C0E"/>
<circle cx="618.5" cy="488.9" r="6.7" fill="#F6E4CF"/>
<circle cx="618.5" cy="488.9" r="5.3" fill="#D27C10"/>
<circle cx="639.0" cy="496.7" r="6.7" fill="#F6E4CF"/>
<circle cx="639.0" cy="496.7" r="5.3" fill="#D47A10"/>
<circle cx="672.5" cy="495.1" r="6.7" fill="#F7E3CF"/>
<circle cx="672.5" cy="495.1" r="5.3" fill="#D87410"/>
<circle cx="676.9" cy="536.3" r="6.5" fill="#F7E3CF"/>
<circle cx="676.9" cy="536.3" r="5.1" fill="#D87410"/>
<circle cx="628.4" cy="545.2" r="6.4" fill="#F6E4CF"/>
<circle cx="628.4" cy="545.2" r="5.0" fill="#D27C10"/>
<circle cx="707.9" cy="550.2" r="6.4" fill="#F7E2CF"/>
<circle cx="707.9" cy="550.2" r="5.0" fill="#DA7010"/>
<circle cx="778.0" cy="571.1" r="6.2" fill="#F8DFCE"/>
<circle cx="778.0" cy="571.1" r="4.8" fill="#E0600E"/>
<circle cx="606.7" cy="571.5" r="6.2" fill="#F5E5CF"/>
<circle cx="606.7" cy="571.5" r="4.8" fill="#D07E10"/>
<circle cx="617.2" cy="575.1" r="6.1" fill="#F5E5CF"/>
<circle cx="617.2" cy="575.1" r="4.699999999999999" fill="#D07E10"/>
<circle cx="622.0" cy="568.8" r="6.2" fill="#F5E5CF"/>
<circle cx="622.0" cy="568.8" r="4.8" fill="#D07E10"/>
<circle cx="634.0" cy="569.2" r="6.2" fill="#F6E4CF"/>
<circle cx="634.0" cy="569.2" r="4.8" fill="#D27C10"/>
<circle cx="662.1" cy="564.1" r="6.2" fill="#F6E4CF"/>
<circle cx="662.1" cy="564.1" r="4.8" fill="#D47A10"/>
<circle cx="690.2" cy="577.8" r="6.1" fill="#F7E3CF"/>
<circle cx="690.2" cy="577.8" r="4.699999999999999" fill="#D87410"/>
<circle cx="639.5" cy="583.3" r="6.0" fill="#F6E4CF"/>
<circle cx="639.5" cy="583.3" r="4.6" fill="#D27C10"/>
<circle cx="647.0" cy="583.5" r="6.0" fill="#F6E4CF"/>
<circle cx="647.0" cy="583.5" r="4.6" fill="#D27C10"/>
<circle cx="614.2" cy="591.0" r="6.0" fill="#F5E5CF"/>
<circle cx="614.2" cy="591.0" r="4.6" fill="#D07E10"/>
<circle cx="734.1" cy="598.3" r="5.9" fill="#F8E1CF"/>
<circle cx="734.1" cy="598.3" r="4.5" fill="#DC6A10"/>
<g style="font-family:'Liberation Sans',sans-serif" font-size="15.2">
<text transform="translate(291.3,127.7) scale(1.0074,1)" fill="#4A7858" stroke="#4A7858" stroke-width="0.2">Apba1</text>
<text transform="translate(212.7,297.0) scale(1.0553,1)" fill="#4A7858" stroke="#4A7858" stroke-width="0.2">Macrod1</text>
<text transform="translate(132.3,492.6) scale(1.0605,1)" fill="#4A7858" stroke="#4A7858" stroke-width="0.2">Lypla1</text>
<text transform="translate(385.5,443.0) scale(1.0893,1)" fill="#4A7858" stroke="#4A7858" stroke-width="0.2">Psmd9</text>
<text transform="translate(340.4,503.5) scale(1.0716,1)" fill="#4A7858" stroke="#4A7858" stroke-width="0.2">Uba5</text>
<text transform="translate(394.0,556.7) scale(1.1157,1)" fill="#4A7858" stroke="#4A7858" stroke-width="0.2">Fech</text>
<text transform="translate(347.7,606.4) scale(1.1185,1)" fill="#4A7858" stroke="#4A7858" stroke-width="0.2">Sdhc</text>
<text transform="translate(669.7,295.8) scale(1.1002,1)" fill="#985A62" stroke="#985A62" stroke-width="0.2">Psd</text>
<text transform="translate(715.6,336.9) scale(1.0442,1)" fill="#985A62" stroke="#985A62" stroke-width="0.2">Tmem35</text>
<text transform="translate(755.7,362.3) scale(1.04,1)" fill="#985A62" stroke="#985A62" stroke-width="0.2">Rpl24</text>
<text transform="translate(684.6,395.8) scale(1.0801,1)" fill="#985A62" stroke="#985A62" stroke-width="0.2">Bles03</text>
<text transform="translate(613.3,449.7) scale(1.06,1)" fill="#985A62" stroke="#985A62" stroke-width="0.2">Pgm2l1</text>
<text transform="translate(742.3,420.0) scale(1.0527,1)" fill="#985A62" stroke="#985A62" stroke-width="0.2">Rrbp1</text>
<text transform="translate(644.4,473.4) scale(1.0431,1)" fill="#985A62" stroke="#985A62" stroke-width="0.2">Gyg1</text>
<text transform="translate(686.0,495.0) scale(1.0588,1)" fill="#985A62" stroke="#985A62" stroke-width="0.2">Bcas1</text>
<text transform="translate(607.3,521.2) scale(1.0605,1)" fill="#985A62" stroke="#985A62" stroke-width="0.2">RGD1309188</text>
<text transform="translate(712.7,576.7) scale(1.0405,1)" fill="#985A62" stroke="#985A62" stroke-width="0.2">Pmm1</text>
<text transform="translate(770.5,598.3) scale(1.0539,1)" fill="#985A62" stroke="#985A62" stroke-width="0.2">Hspa1a</text>
<text transform="translate(648.9,601.1) scale(1.0846,1)" fill="#985A62" stroke="#985A62" stroke-width="0.2">Vim</text>
<text transform="translate(688.6,625.2) scale(1.035,1)" fill="#985A62" stroke="#985A62" stroke-width="0.2">Lgals1</text>
</g>
<rect x="156.8" y="609.3" width="93.7" height="41.8" rx="6" ry="6" fill="#FFFFFF" fill-opacity="0.82" stroke="#8C7E28" stroke-width="2.2"/>
<text x="168.3" y="635" style="font-family:'Liberation Sans',sans-serif" font-size="19.5" fill="#7A6C2A" stroke="#7A6C2A" stroke-width="0.12" font-style="italic">p</text><text x="183.6" y="635" style="font-family:'Liberation Sans',sans-serif" font-size="19.5" fill="#7A6C2A" stroke="#7A6C2A" stroke-width="0.12">=</text><text x="199.5" y="635" style="font-family:'Liberation Sans',sans-serif" font-size="19.5" fill="#7A6C2A" stroke="#7A6C2A" stroke-width="0.12">0.05</text>
<rect x="440.5" y="886.4" width="65.2" height="38.6" rx="6" ry="6" fill="#FFFFFF" fill-opacity="0.82" stroke="#8C7E28" stroke-width="2.2"/>
<text x="450.2" y="912.2" style="font-family:'Liberation Sans',sans-serif" font-size="19.5" fill="#7A6C2A" stroke="#7A6C2A" stroke-width="0.12">−</text><text x="465.7" y="912.2" style="font-family:'Liberation Sans',sans-serif" font-size="19.5" fill="#7A6C2A" stroke="#7A6C2A" stroke-width="0.12">1.5</text>
<rect x="571" y="886.4" width="64.6" height="38.6" rx="6" ry="6" fill="#FFFFFF" fill-opacity="0.82" stroke="#8C7E28" stroke-width="2.2"/>
<text x="580.6" y="912.2" style="font-family:'Liberation Sans',sans-serif" font-size="19.5" fill="#7A6C2A" stroke="#7A6C2A" stroke-width="0.12">+</text><text x="596.9" y="912.2" style="font-family:'Liberation Sans',sans-serif" font-size="19.5" fill="#7A6C2A" stroke="#7A6C2A" stroke-width="0.12">1.5</text>
<g stroke="#333333" stroke-width="3.2">
<line x1="86" y1="884.20" x2="96" y2="884.20"/>
<line x1="86" y1="667.33" x2="96" y2="667.33"/>
<line x1="86" y1="450.46" x2="96" y2="450.46"/>
<line x1="86" y1="233.59" x2="96" y2="233.59"/>
<line x1="315.00" y1="946" x2="315.00" y2="955.5"/>
<line x1="537.80" y1="946" x2="537.80" y2="955.5"/>
<line x1="760.60" y1="946" x2="760.60" y2="955.5"/>
</g>
<g style="font-family:'Liberation Sans',sans-serif" font-size="30.5" fill="#4A4A4A">
<text x="78.4" y="894.50" text-anchor="end">0</text>
<text x="78.4" y="677.63" text-anchor="end">1</text>
<text x="78.4" y="460.76" text-anchor="end">2</text>
<text x="78.4" y="243.89" text-anchor="end">3</text>
<text x="314.40" y="984.9" text-anchor="middle">-2</text>
<text x="537.20" y="984.9" text-anchor="middle">0</text>
<text x="760.00" y="984.9" text-anchor="middle">2</text>
</g>
<text x="448.3" y="1034.3" style="font-family:'Liberation Sans',sans-serif" fill="#000" font-size="37.5">log</text>
<text x="499" y="1040.3" style="font-family:'Liberation Sans',sans-serif" fill="#000" font-size="25">2</text>
<text x="522.6" y="1034.6" style="font-family:'Liberation Sans',sans-serif" fill="#000" font-size="44">(</text>
<text transform="translate(538.1,1034.3) scale(0.975,1)" style="font-family:'Liberation Sans',sans-serif" fill="#000" font-size="37.5">ratio</text>
<text x="607.7" y="1034.6" style="font-family:'Liberation Sans',sans-serif" fill="#000" font-size="44">)</text>
<g transform="translate(33.6,0) rotate(-90)">
<text x="-637.7" y="0" style="font-family:'Liberation Sans',sans-serif" fill="#000" font-size="37.5">−</text>
<text x="-609.8" y="0" style="font-family:'Liberation Sans',sans-serif" fill="#000" font-size="37.5">log</text>
<text x="-559.0" y="6.3" style="font-family:'Liberation Sans',sans-serif" fill="#000" font-size="25">10</text>
<text x="-522.5" y="0.3" style="font-family:'Liberation Sans',sans-serif" fill="#000" font-size="44">(</text>
<text transform="translate(-505.2,0) scale(0.98,1)" style="font-family:'Liberation Sans',sans-serif" fill="#000" font-size="37.5">p.value</text>
<text x="-387.3" y="0.3" style="font-family:'Liberation Sans',sans-serif" fill="#000" font-size="44">)</text>
</g>
<text transform="translate(96.0,34.3) scale(0.942,1)" style="font-family:'Liberation Sans',sans-serif" font-size="46.6" fill="#000">SS--S</text>
<text transform="translate(1034.9,417.4) scale(1.0507,1)" style="font-family:'Liberation Sans',sans-serif" font-size="38" fill="#000">Significant legend</text>
<rect x="1037.4" y="452.4" width="53.5" height="53.5" fill="#F2F2F2"/>
<circle cx="1063.8" cy="479.0" r="5.9" fill="#DAEECA"/><circle cx="1063.8" cy="479.0" r="5.0" fill="#6CBE2C"/>
<text transform="translate(1111.4,491.1) scale(1.0357,1)" style="font-family:'Liberation Sans',sans-serif" font-size="32.39" fill="#000">Down-regulated</text>
<rect x="1037.4" y="510.1" width="53.5" height="53.5" fill="#F2F2F2"/>
<circle cx="1063.8" cy="536.7" r="5.9" fill="#EBE2C4"/><circle cx="1063.8" cy="536.7" r="5.0" fill="#B08C16"/>
<text transform="translate(1111.8,549.3) scale(1.0409,1)" style="font-family:'Liberation Sans',sans-serif" font-size="32.11" fill="#000">Not-significant</text>
<rect x="1037.4" y="567.8" width="53.5" height="53.5" fill="#F2F2F2"/>
<circle cx="1063.8" cy="594.4" r="5.9" fill="#FAD2C4"/><circle cx="1063.8" cy="594.4" r="5.0" fill="#EE4E16"/>
<text transform="translate(1111.8,606.7) scale(1.0707,1)" style="font-family:'Liberation Sans',sans-serif" font-size="31.29" fill="#000">Up-regulated</text>
</svg>
</body></html>
